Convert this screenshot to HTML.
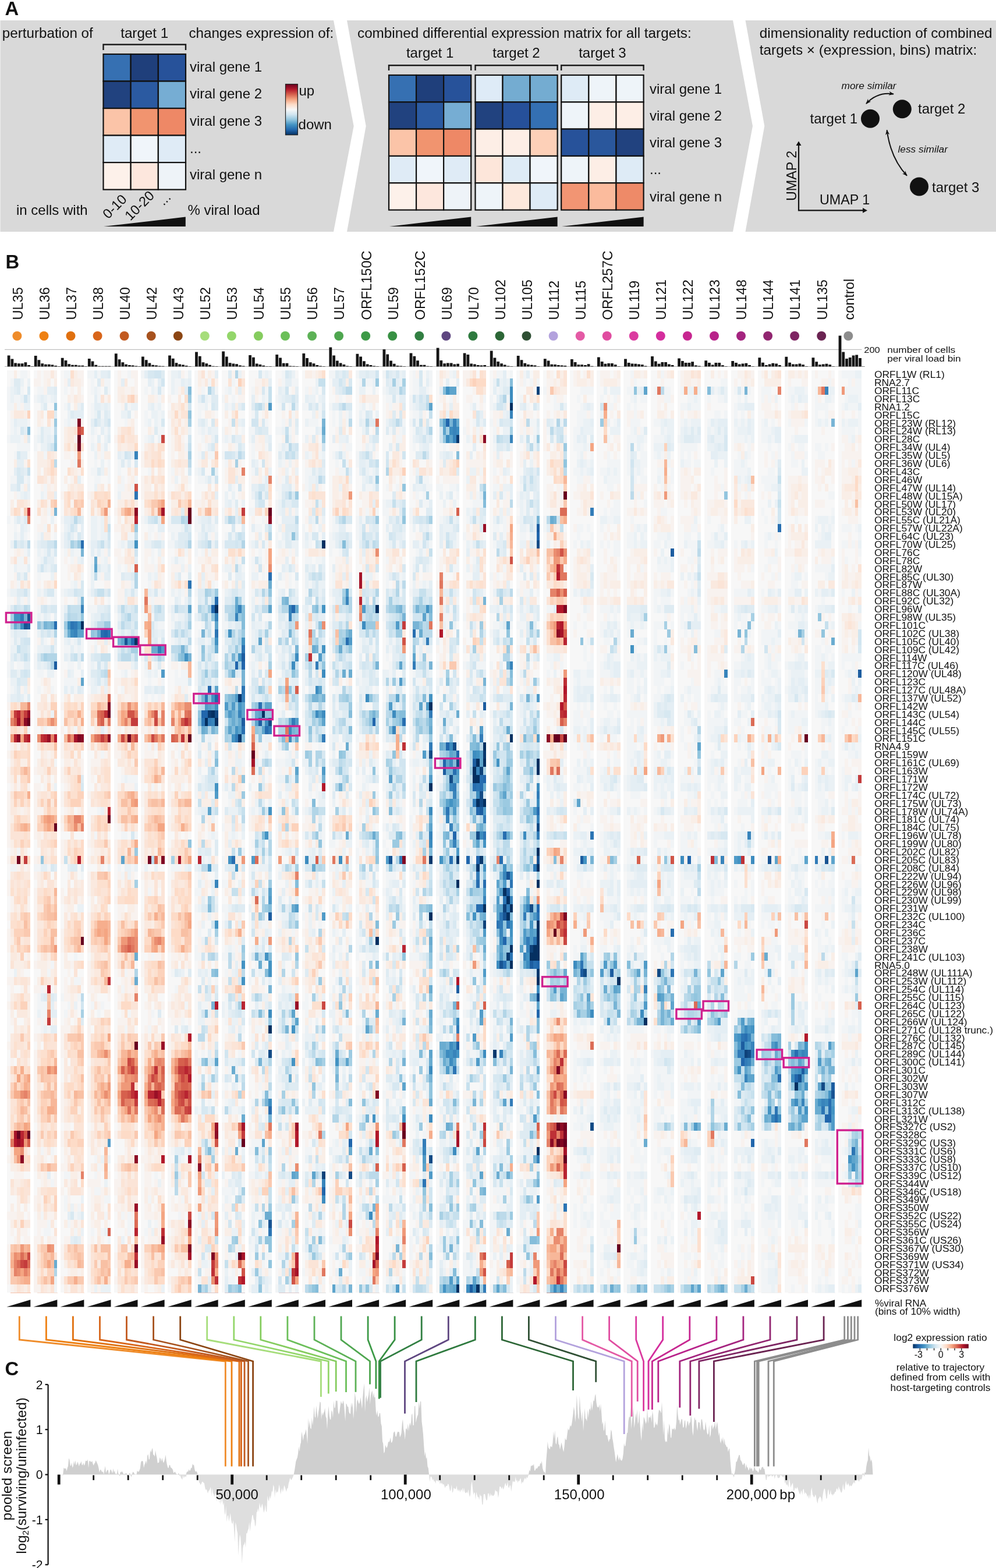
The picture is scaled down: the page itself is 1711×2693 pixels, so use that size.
<!DOCTYPE html>
<html><head><meta charset="utf-8"><title>Figure</title>
<style>
html,body{margin:0;padding:0;background:#fff;}
#wrap{position:relative;width:1711px;height:2693px;overflow:hidden;background:#fff;}
#hm{position:absolute;left:12.2px;top:636.0px;width:1473.92px;height:1584.03px;image-rendering:pixelated;}
svg{position:absolute;left:0;top:0;}
svg text{font-family:'Liberation Sans', sans-serif;fill:#111;}
</style></head><body><div id="wrap">
<svg id="fb" width="1711" height="2693" style="position:absolute;left:0;top:0"><rect x="18" y="636" width="35" height="43" fill="#ecf1f4"/><rect x="18" y="678" width="35" height="43" fill="#f0edec"/><rect x="18" y="719" width="35" height="43" fill="#e4edf2"/><rect x="18" y="761" width="35" height="43" fill="#eff1f1"/><rect x="18" y="803" width="35" height="43" fill="#e5eef2"/><rect x="18" y="844" width="35" height="43" fill="#f3e0d9"/><rect x="18" y="886" width="35" height="43" fill="#edebec"/><rect x="18" y="928" width="35" height="43" fill="#eaedee"/><rect x="18" y="969" width="35" height="43" fill="#f1efee"/><rect x="18" y="1011" width="35" height="43" fill="#e0ebf1"/><rect x="18" y="1053" width="35" height="43" fill="#85b2d1"/><rect x="18" y="1095" width="35" height="43" fill="#dbe9f1"/><rect x="18" y="1136" width="35" height="43" fill="#e4edf2"/><rect x="18" y="1178" width="35" height="43" fill="#ede0da"/><rect x="18" y="1220" width="35" height="43" fill="#d17874"/><rect x="18" y="1261" width="35" height="43" fill="#e8afa5"/><rect x="18" y="1303" width="35" height="43" fill="#fadbcb"/><rect x="18" y="1345" width="35" height="43" fill="#fadccc"/><rect x="18" y="1386" width="35" height="43" fill="#f9dbcb"/><rect x="18" y="1428" width="35" height="43" fill="#fae6db"/><rect x="18" y="1470" width="35" height="43" fill="#eed2cb"/><rect x="18" y="1511" width="35" height="43" fill="#fae4d6"/><rect x="18" y="1553" width="35" height="43" fill="#faddce"/><rect x="18" y="1595" width="35" height="43" fill="#fad8c5"/><rect x="18" y="1636" width="35" height="43" fill="#f8ece5"/><rect x="18" y="1678" width="35" height="43" fill="#f9eae1"/><rect x="18" y="1720" width="35" height="43" fill="#f9e8df"/><rect x="18" y="1761" width="35" height="43" fill="#fae4d8"/><rect x="18" y="1803" width="35" height="43" fill="#fadfd1"/><rect x="18" y="1845" width="35" height="43" fill="#f5b89d"/><rect x="18" y="1887" width="35" height="43" fill="#fad4c0"/><rect x="18" y="1928" width="35" height="43" fill="#cc6961"/><rect x="18" y="1970" width="35" height="43" fill="#f2c7b7"/><rect x="18" y="2012" width="35" height="43" fill="#f9ebe2"/><rect x="18" y="2053" width="35" height="43" fill="#f8f0eb"/><rect x="18" y="2095" width="35" height="43" fill="#f8ede7"/><rect x="18" y="2137" width="35" height="43" fill="#e78e76"/><rect x="18" y="2178" width="35" height="43" fill="#f5c0aa"/><rect x="64" y="636" width="35" height="43" fill="#f3f1ef"/><rect x="64" y="678" width="35" height="43" fill="#eaebec"/><rect x="64" y="719" width="35" height="43" fill="#e1eaee"/><rect x="64" y="761" width="35" height="43" fill="#ebe9e7"/><rect x="64" y="803" width="35" height="43" fill="#f8ebe3"/><rect x="64" y="844" width="35" height="43" fill="#efe6e0"/><rect x="64" y="886" width="35" height="43" fill="#f4f1ef"/><rect x="64" y="928" width="35" height="43" fill="#e0ecf2"/><rect x="64" y="969" width="35" height="43" fill="#eeeeee"/><rect x="64" y="1011" width="35" height="43" fill="#e7eef2"/><rect x="64" y="1053" width="35" height="43" fill="#bdd8e8"/><rect x="64" y="1095" width="35" height="43" fill="#d9e8ef"/><rect x="64" y="1136" width="35" height="43" fill="#e0e7ed"/><rect x="64" y="1178" width="35" height="43" fill="#f8ebe4"/><rect x="64" y="1220" width="35" height="43" fill="#f6dacd"/><rect x="64" y="1261" width="35" height="43" fill="#e7aea5"/><rect x="64" y="1303" width="35" height="43" fill="#f8ebe3"/><rect x="64" y="1345" width="35" height="43" fill="#f9e3d6"/><rect x="64" y="1386" width="35" height="43" fill="#f0bca8"/><rect x="64" y="1428" width="35" height="43" fill="#fae7dc"/><rect x="64" y="1470" width="35" height="43" fill="#ede7e3"/><rect x="64" y="1511" width="35" height="43" fill="#fadfd0"/><rect x="64" y="1553" width="35" height="43" fill="#fad2be"/><rect x="64" y="1595" width="35" height="43" fill="#f9cfb9"/><rect x="64" y="1636" width="35" height="43" fill="#f8ebe4"/><rect x="64" y="1678" width="35" height="43" fill="#efded9"/><rect x="64" y="1720" width="35" height="43" fill="#eddedc"/><rect x="64" y="1761" width="35" height="43" fill="#f5e9e1"/><rect x="64" y="1803" width="35" height="43" fill="#f8c9b2"/><rect x="64" y="1845" width="35" height="43" fill="#f9ceb8"/><rect x="64" y="1887" width="35" height="43" fill="#f9cbb4"/><rect x="64" y="1928" width="35" height="43" fill="#fbe0d0"/><rect x="64" y="1970" width="35" height="43" fill="#f8e4d9"/><rect x="64" y="2012" width="35" height="43" fill="#f7ede7"/><rect x="64" y="2053" width="35" height="43" fill="#f9e7dd"/><rect x="64" y="2095" width="35" height="43" fill="#f6f1ed"/><rect x="64" y="2137" width="35" height="43" fill="#f0c6b2"/><rect x="64" y="2178" width="35" height="43" fill="#f4dccf"/><rect x="110" y="636" width="35" height="43" fill="#f6f1ed"/><rect x="110" y="678" width="35" height="43" fill="#eeeff0"/><rect x="110" y="719" width="35" height="43" fill="#e3c2c0"/><rect x="110" y="761" width="35" height="43" fill="#efd6d0"/><rect x="110" y="803" width="35" height="43" fill="#f7ede7"/><rect x="110" y="844" width="35" height="43" fill="#faddcd"/><rect x="110" y="886" width="35" height="43" fill="#dfebf2"/><rect x="110" y="928" width="35" height="43" fill="#d1e1eb"/><rect x="110" y="969" width="35" height="43" fill="#f4f0ee"/><rect x="110" y="1011" width="35" height="43" fill="#cfe1ec"/><rect x="110" y="1053" width="35" height="43" fill="#72aacd"/><rect x="110" y="1095" width="35" height="43" fill="#e3edf3"/><rect x="110" y="1136" width="35" height="43" fill="#e9eff2"/><rect x="110" y="1178" width="35" height="43" fill="#f3e8e2"/><rect x="110" y="1220" width="35" height="43" fill="#f9d7c5"/><rect x="110" y="1261" width="35" height="43" fill="#e5b0a7"/><rect x="110" y="1303" width="35" height="43" fill="#f8e7dd"/><rect x="110" y="1345" width="35" height="43" fill="#f9ddce"/><rect x="110" y="1386" width="35" height="43" fill="#f4c2ae"/><rect x="110" y="1428" width="35" height="43" fill="#f9e7dc"/><rect x="110" y="1470" width="35" height="43" fill="#ebdfdd"/><rect x="110" y="1511" width="35" height="43" fill="#f9ebe3"/><rect x="110" y="1553" width="35" height="43" fill="#f8e7dd"/><rect x="110" y="1595" width="35" height="43" fill="#f2c9b8"/><rect x="110" y="1636" width="35" height="43" fill="#f7efea"/><rect x="110" y="1678" width="35" height="43" fill="#f3efec"/><rect x="110" y="1720" width="35" height="43" fill="#eeedec"/><rect x="110" y="1761" width="35" height="43" fill="#fadac8"/><rect x="110" y="1803" width="35" height="43" fill="#fadecf"/><rect x="110" y="1845" width="35" height="43" fill="#fad8c5"/><rect x="110" y="1887" width="35" height="43" fill="#fbdfd0"/><rect x="110" y="1928" width="35" height="43" fill="#fae1d2"/><rect x="110" y="1970" width="35" height="43" fill="#fae5d8"/><rect x="110" y="2012" width="35" height="43" fill="#f7e5dd"/><rect x="110" y="2053" width="35" height="43" fill="#eef1f2"/><rect x="110" y="2095" width="35" height="43" fill="#f2f0ee"/><rect x="110" y="2137" width="35" height="43" fill="#fad0bb"/><rect x="110" y="2178" width="35" height="43" fill="#f9e0d3"/><rect x="156" y="636" width="35" height="43" fill="#ecf1f3"/><rect x="156" y="678" width="35" height="43" fill="#ebeff1"/><rect x="156" y="719" width="35" height="43" fill="#e7eff4"/><rect x="156" y="761" width="35" height="43" fill="#f2f2f2"/><rect x="156" y="803" width="35" height="43" fill="#f2f2f1"/><rect x="156" y="844" width="35" height="43" fill="#fad9c8"/><rect x="156" y="886" width="35" height="43" fill="#e9edef"/><rect x="156" y="928" width="35" height="43" fill="#e1ebf1"/><rect x="156" y="969" width="35" height="43" fill="#e2ebf1"/><rect x="156" y="1011" width="35" height="43" fill="#e4ecef"/><rect x="156" y="1053" width="35" height="43" fill="#a4c8df"/><rect x="156" y="1095" width="35" height="43" fill="#e7ecee"/><rect x="156" y="1136" width="35" height="43" fill="#e1e6ea"/><rect x="156" y="1178" width="35" height="43" fill="#edcec5"/><rect x="156" y="1220" width="35" height="43" fill="#e3aa9f"/><rect x="156" y="1261" width="35" height="43" fill="#eab8ad"/><rect x="156" y="1303" width="35" height="43" fill="#f9e8de"/><rect x="156" y="1345" width="35" height="43" fill="#fae3d6"/><rect x="156" y="1386" width="35" height="43" fill="#edcbc3"/><rect x="156" y="1428" width="35" height="43" fill="#f9e7dd"/><rect x="156" y="1470" width="35" height="43" fill="#f7dfd3"/><rect x="156" y="1511" width="35" height="43" fill="#fbe3d5"/><rect x="156" y="1553" width="35" height="43" fill="#f9d5c2"/><rect x="156" y="1595" width="35" height="43" fill="#f8c5ac"/><rect x="156" y="1636" width="35" height="43" fill="#faddcd"/><rect x="156" y="1678" width="35" height="43" fill="#f5ddd4"/><rect x="156" y="1720" width="35" height="43" fill="#f8ece5"/><rect x="156" y="1761" width="35" height="43" fill="#fad8c6"/><rect x="156" y="1803" width="35" height="43" fill="#f9cdb8"/><rect x="156" y="1845" width="35" height="43" fill="#f7c2a9"/><rect x="156" y="1887" width="35" height="43" fill="#fad5c2"/><rect x="156" y="1928" width="35" height="43" fill="#f0ded5"/><rect x="156" y="1970" width="35" height="43" fill="#f5e8e1"/><rect x="156" y="2012" width="35" height="43" fill="#f5efec"/><rect x="156" y="2053" width="35" height="43" fill="#f7eee8"/><rect x="156" y="2095" width="35" height="43" fill="#f4eae7"/><rect x="156" y="2137" width="35" height="43" fill="#fad1bb"/><rect x="156" y="2178" width="35" height="43" fill="#f6dacb"/><rect x="202" y="636" width="35" height="43" fill="#f6f1ee"/><rect x="202" y="678" width="35" height="43" fill="#f2edea"/><rect x="202" y="719" width="35" height="43" fill="#f8ebe3"/><rect x="202" y="761" width="35" height="43" fill="#e2e6e8"/><rect x="202" y="803" width="35" height="43" fill="#f3e8e5"/><rect x="202" y="844" width="35" height="43" fill="#e7cdc7"/><rect x="202" y="886" width="35" height="43" fill="#ebddda"/><rect x="202" y="928" width="35" height="43" fill="#e6e8e9"/><rect x="202" y="969" width="35" height="43" fill="#e7e6e7"/><rect x="202" y="1011" width="35" height="43" fill="#e6ebed"/><rect x="202" y="1053" width="35" height="43" fill="#d6e7f0"/><rect x="202" y="1095" width="35" height="43" fill="#95bcd6"/><rect x="202" y="1136" width="35" height="43" fill="#f5efeb"/><rect x="202" y="1178" width="35" height="43" fill="#f7ddd0"/><rect x="202" y="1220" width="35" height="43" fill="#eba998"/><rect x="202" y="1261" width="35" height="43" fill="#eab4a5"/><rect x="202" y="1303" width="35" height="43" fill="#f6ebe5"/><rect x="202" y="1345" width="35" height="43" fill="#f7d1be"/><rect x="202" y="1386" width="35" height="43" fill="#fad7c5"/><rect x="202" y="1428" width="35" height="43" fill="#f1e1d8"/><rect x="202" y="1470" width="35" height="43" fill="#ece4e0"/><rect x="202" y="1511" width="35" height="43" fill="#f6e2d6"/><rect x="202" y="1553" width="35" height="43" fill="#f9e6db"/><rect x="202" y="1595" width="35" height="43" fill="#ed9e82"/><rect x="202" y="1636" width="35" height="43" fill="#eddcd2"/><rect x="202" y="1678" width="35" height="43" fill="#efe3de"/><rect x="202" y="1720" width="35" height="43" fill="#f9e9df"/><rect x="202" y="1761" width="35" height="43" fill="#f1d2c5"/><rect x="202" y="1803" width="35" height="43" fill="#e8927a"/><rect x="202" y="1845" width="35" height="43" fill="#e28470"/><rect x="202" y="1887" width="35" height="43" fill="#ed9f86"/><rect x="202" y="1928" width="35" height="43" fill="#fae4d6"/><rect x="202" y="1970" width="35" height="43" fill="#f2d7ce"/><rect x="202" y="2012" width="35" height="43" fill="#fae7db"/><rect x="202" y="2053" width="35" height="43" fill="#f1dad5"/><rect x="202" y="2095" width="35" height="43" fill="#f0dcd9"/><rect x="202" y="2137" width="35" height="43" fill="#eab1a2"/><rect x="202" y="2178" width="35" height="43" fill="#fbdfd0"/><rect x="248" y="636" width="35" height="43" fill="#e3edf3"/><rect x="248" y="678" width="35" height="43" fill="#f1f1f2"/><rect x="248" y="719" width="35" height="43" fill="#ebe8e9"/><rect x="248" y="761" width="35" height="43" fill="#fae4d6"/><rect x="248" y="803" width="35" height="43" fill="#f9ebe3"/><rect x="248" y="844" width="35" height="43" fill="#f4cab9"/><rect x="248" y="886" width="35" height="43" fill="#ebebec"/><rect x="248" y="928" width="35" height="43" fill="#edf0f1"/><rect x="248" y="969" width="35" height="43" fill="#f5efeb"/><rect x="248" y="1011" width="35" height="43" fill="#e7dddb"/><rect x="248" y="1053" width="35" height="43" fill="#e8ddd8"/><rect x="248" y="1095" width="35" height="43" fill="#c3d2db"/><rect x="248" y="1136" width="35" height="43" fill="#e9ebed"/><rect x="248" y="1178" width="35" height="43" fill="#f0e7e2"/><rect x="248" y="1220" width="35" height="43" fill="#f0bba9"/><rect x="248" y="1261" width="35" height="43" fill="#f2cbbe"/><rect x="248" y="1303" width="35" height="43" fill="#fad9c7"/><rect x="248" y="1345" width="35" height="43" fill="#f9dfd1"/><rect x="248" y="1386" width="35" height="43" fill="#f9cdb7"/><rect x="248" y="1428" width="35" height="43" fill="#faddcd"/><rect x="248" y="1470" width="35" height="43" fill="#e4c9c6"/><rect x="248" y="1511" width="35" height="43" fill="#f9e8de"/><rect x="248" y="1553" width="35" height="43" fill="#fad6c3"/><rect x="248" y="1595" width="35" height="43" fill="#f7bda3"/><rect x="248" y="1636" width="35" height="43" fill="#fae1d4"/><rect x="248" y="1678" width="35" height="43" fill="#f9e3d7"/><rect x="248" y="1720" width="35" height="43" fill="#f5f2f0"/><rect x="248" y="1761" width="35" height="43" fill="#f3d8cf"/><rect x="248" y="1803" width="35" height="43" fill="#efa58d"/><rect x="248" y="1845" width="35" height="43" fill="#d97060"/><rect x="248" y="1887" width="35" height="43" fill="#e9937b"/><rect x="248" y="1928" width="35" height="43" fill="#facfb9"/><rect x="248" y="1970" width="35" height="43" fill="#f5ded7"/><rect x="248" y="2012" width="35" height="43" fill="#f6f1ef"/><rect x="248" y="2053" width="35" height="43" fill="#f7e7df"/><rect x="248" y="2095" width="35" height="43" fill="#ecd6d4"/><rect x="248" y="2137" width="35" height="43" fill="#f9d0ba"/><rect x="248" y="2178" width="35" height="43" fill="#f9e1d4"/><rect x="294" y="636" width="35" height="43" fill="#e7eef1"/><rect x="294" y="678" width="35" height="43" fill="#ece6e1"/><rect x="294" y="719" width="35" height="43" fill="#f1eae5"/><rect x="294" y="761" width="35" height="43" fill="#eeeae7"/><rect x="294" y="803" width="35" height="43" fill="#f4f0ed"/><rect x="294" y="844" width="35" height="43" fill="#f0d3c7"/><rect x="294" y="886" width="35" height="43" fill="#d6dde6"/><rect x="294" y="928" width="35" height="43" fill="#ebedee"/><rect x="294" y="969" width="35" height="43" fill="#e8e7e7"/><rect x="294" y="1011" width="35" height="43" fill="#d9e8f0"/><rect x="294" y="1053" width="35" height="43" fill="#d8e8f0"/><rect x="294" y="1095" width="35" height="43" fill="#b8d7e7"/><rect x="294" y="1136" width="35" height="43" fill="#f3ece9"/><rect x="294" y="1178" width="35" height="43" fill="#f4d7ca"/><rect x="294" y="1220" width="35" height="43" fill="#eca48e"/><rect x="294" y="1261" width="35" height="43" fill="#e9c2bb"/><rect x="294" y="1303" width="35" height="43" fill="#f9e9df"/><rect x="294" y="1345" width="35" height="43" fill="#f9ded0"/><rect x="294" y="1386" width="35" height="43" fill="#faddcc"/><rect x="294" y="1428" width="35" height="43" fill="#f4e5dc"/><rect x="294" y="1470" width="35" height="43" fill="#edd4cc"/><rect x="294" y="1511" width="35" height="43" fill="#fbe0d0"/><rect x="294" y="1553" width="35" height="43" fill="#fad2bd"/><rect x="294" y="1595" width="35" height="43" fill="#fad2bc"/><rect x="294" y="1636" width="35" height="43" fill="#f3efec"/><rect x="294" y="1678" width="35" height="43" fill="#f7eee9"/><rect x="294" y="1720" width="35" height="43" fill="#f8eee8"/><rect x="294" y="1761" width="35" height="43" fill="#f0dbd5"/><rect x="294" y="1803" width="35" height="43" fill="#e38774"/><rect x="294" y="1845" width="35" height="43" fill="#d8695a"/><rect x="294" y="1887" width="35" height="43" fill="#e3846f"/><rect x="294" y="1928" width="35" height="43" fill="#faddcd"/><rect x="294" y="1970" width="35" height="43" fill="#e6dfe0"/><rect x="294" y="2012" width="35" height="43" fill="#ebe6e3"/><rect x="294" y="2053" width="35" height="43" fill="#f5e7e3"/><rect x="294" y="2095" width="35" height="43" fill="#f0d0c7"/><rect x="294" y="2137" width="35" height="43" fill="#eec9bf"/><rect x="294" y="2178" width="35" height="43" fill="#f9dfd1"/><rect x="340" y="636" width="35" height="43" fill="#f1edeb"/><rect x="340" y="678" width="35" height="43" fill="#ebf0f2"/><rect x="340" y="719" width="35" height="43" fill="#ecf0f2"/><rect x="340" y="761" width="35" height="43" fill="#f2ece8"/><rect x="340" y="803" width="35" height="43" fill="#eaeff1"/><rect x="340" y="844" width="35" height="43" fill="#f8e5db"/><rect x="340" y="886" width="35" height="43" fill="#e7eff3"/><rect x="340" y="928" width="35" height="43" fill="#ebeded"/><rect x="340" y="969" width="35" height="43" fill="#f6ede7"/><rect x="340" y="1011" width="35" height="43" fill="#a8c7dd"/><rect x="340" y="1053" width="35" height="43" fill="#b4d3e5"/><rect x="340" y="1095" width="35" height="43" fill="#c7dfeb"/><rect x="340" y="1136" width="35" height="43" fill="#d0e4ef"/><rect x="340" y="1178" width="35" height="43" fill="#82b4d5"/><rect x="340" y="1220" width="35" height="43" fill="#4e85b0"/><rect x="340" y="1261" width="35" height="43" fill="#e8edf0"/><rect x="340" y="1303" width="35" height="43" fill="#dee9ee"/><rect x="340" y="1345" width="35" height="43" fill="#d7e2e8"/><rect x="340" y="1386" width="35" height="43" fill="#e3e6e9"/><rect x="340" y="1428" width="35" height="43" fill="#eaedef"/><rect x="340" y="1470" width="35" height="43" fill="#dcdde3"/><rect x="340" y="1511" width="35" height="43" fill="#dfe6eb"/><rect x="340" y="1553" width="35" height="43" fill="#dce7ed"/><rect x="340" y="1595" width="35" height="43" fill="#ebebea"/><rect x="340" y="1636" width="35" height="43" fill="#dce7ed"/><rect x="340" y="1678" width="35" height="43" fill="#e7ecee"/><rect x="340" y="1720" width="35" height="43" fill="#dcdce1"/><rect x="340" y="1761" width="35" height="43" fill="#ebe7e6"/><rect x="340" y="1803" width="35" height="43" fill="#d9e4ea"/><rect x="340" y="1845" width="35" height="43" fill="#e7e3e0"/><rect x="340" y="1887" width="35" height="43" fill="#eeebe9"/><rect x="340" y="1928" width="35" height="43" fill="#e5beb8"/><rect x="340" y="1970" width="35" height="43" fill="#e0c8c3"/><rect x="340" y="2012" width="35" height="43" fill="#f0dcd2"/><rect x="340" y="2053" width="35" height="43" fill="#f4e2d9"/><rect x="340" y="2095" width="35" height="43" fill="#f2e0d8"/><rect x="340" y="2137" width="35" height="43" fill="#e5cac7"/><rect x="340" y="2178" width="35" height="43" fill="#dcc7c7"/><rect x="386" y="636" width="35" height="43" fill="#efeceb"/><rect x="386" y="678" width="35" height="43" fill="#f1efee"/><rect x="386" y="719" width="35" height="43" fill="#edeff0"/><rect x="386" y="761" width="35" height="43" fill="#e3ebef"/><rect x="386" y="803" width="35" height="43" fill="#f2e7e2"/><rect x="386" y="844" width="35" height="43" fill="#eee5e4"/><rect x="386" y="886" width="35" height="43" fill="#dee7ec"/><rect x="386" y="928" width="35" height="43" fill="#e7e7e6"/><rect x="386" y="969" width="35" height="43" fill="#eaeff1"/><rect x="386" y="1011" width="35" height="43" fill="#b9d7e7"/><rect x="386" y="1053" width="35" height="43" fill="#b4d4e6"/><rect x="386" y="1095" width="35" height="43" fill="#a3c8df"/><rect x="386" y="1136" width="35" height="43" fill="#b1cddf"/><rect x="386" y="1178" width="35" height="43" fill="#84b4d1"/><rect x="386" y="1220" width="35" height="43" fill="#69a7cd"/><rect x="386" y="1261" width="35" height="43" fill="#c3d3de"/><rect x="386" y="1303" width="35" height="43" fill="#eceae8"/><rect x="386" y="1345" width="35" height="43" fill="#e7ebec"/><rect x="386" y="1386" width="35" height="43" fill="#e7ebec"/><rect x="386" y="1428" width="35" height="43" fill="#eceded"/><rect x="386" y="1470" width="35" height="43" fill="#cfd7de"/><rect x="386" y="1511" width="35" height="43" fill="#f0edeb"/><rect x="386" y="1553" width="35" height="43" fill="#ebeaea"/><rect x="386" y="1595" width="35" height="43" fill="#f0e5df"/><rect x="386" y="1636" width="35" height="43" fill="#dae5eb"/><rect x="386" y="1678" width="35" height="43" fill="#e3dedc"/><rect x="386" y="1720" width="35" height="43" fill="#dfe0e5"/><rect x="386" y="1761" width="35" height="43" fill="#f1ebe7"/><rect x="386" y="1803" width="35" height="43" fill="#e4ebef"/><rect x="386" y="1845" width="35" height="43" fill="#e1e6e8"/><rect x="386" y="1887" width="35" height="43" fill="#e5ebee"/><rect x="386" y="1928" width="35" height="43" fill="#e5bdb7"/><rect x="386" y="1970" width="35" height="43" fill="#efe2da"/><rect x="386" y="2012" width="35" height="43" fill="#e6eef3"/><rect x="386" y="2053" width="35" height="43" fill="#e7eaec"/><rect x="386" y="2095" width="35" height="43" fill="#e8eaea"/><rect x="386" y="2137" width="35" height="43" fill="#dec6c6"/><rect x="386" y="2178" width="35" height="43" fill="#d6cad0"/><rect x="432" y="636" width="35" height="43" fill="#edeff0"/><rect x="432" y="678" width="35" height="43" fill="#dde8ed"/><rect x="432" y="719" width="35" height="43" fill="#e7edf1"/><rect x="432" y="761" width="35" height="43" fill="#f1efee"/><rect x="432" y="803" width="35" height="43" fill="#ece7e5"/><rect x="432" y="844" width="35" height="43" fill="#e2dbdc"/><rect x="432" y="886" width="35" height="43" fill="#e6e2e5"/><rect x="432" y="928" width="35" height="43" fill="#efe8e5"/><rect x="432" y="969" width="35" height="43" fill="#dfe0e3"/><rect x="432" y="1011" width="35" height="43" fill="#cfe2ec"/><rect x="432" y="1053" width="35" height="43" fill="#dfebf2"/><rect x="432" y="1095" width="35" height="43" fill="#d9e7ee"/><rect x="432" y="1136" width="35" height="43" fill="#e4e8eb"/><rect x="432" y="1178" width="35" height="43" fill="#b3d1e2"/><rect x="432" y="1220" width="35" height="43" fill="#6c9ec2"/><rect x="432" y="1261" width="35" height="43" fill="#e2d2d2"/><rect x="432" y="1303" width="35" height="43" fill="#e0d8db"/><rect x="432" y="1345" width="35" height="43" fill="#ece9e8"/><rect x="432" y="1386" width="35" height="43" fill="#e5e2df"/><rect x="432" y="1428" width="35" height="43" fill="#c7deeb"/><rect x="432" y="1470" width="35" height="43" fill="#dfe1e4"/><rect x="432" y="1511" width="35" height="43" fill="#cfd8df"/><rect x="432" y="1553" width="35" height="43" fill="#ccd9e1"/><rect x="432" y="1595" width="35" height="43" fill="#eae6e4"/><rect x="432" y="1636" width="35" height="43" fill="#b1d2e4"/><rect x="432" y="1678" width="35" height="43" fill="#e3eaed"/><rect x="432" y="1720" width="35" height="43" fill="#d6e3ea"/><rect x="432" y="1761" width="35" height="43" fill="#e4e3e3"/><rect x="432" y="1803" width="35" height="43" fill="#d0dde5"/><rect x="432" y="1845" width="35" height="43" fill="#e8ebed"/><rect x="432" y="1887" width="35" height="43" fill="#c9d9e4"/><rect x="432" y="1928" width="35" height="43" fill="#e9ddd8"/><rect x="432" y="1970" width="35" height="43" fill="#dde7ec"/><rect x="432" y="2012" width="35" height="43" fill="#f1e5de"/><rect x="432" y="2053" width="35" height="43" fill="#d6e4eb"/><rect x="432" y="2095" width="35" height="43" fill="#c1d7e6"/><rect x="432" y="2137" width="35" height="43" fill="#dfe8ec"/><rect x="432" y="2178" width="35" height="43" fill="#ddeaf0"/><rect x="479" y="636" width="35" height="43" fill="#ebf0f3"/><rect x="479" y="678" width="35" height="43" fill="#e8eef1"/><rect x="479" y="719" width="35" height="43" fill="#eaeff2"/><rect x="479" y="761" width="35" height="43" fill="#e1ebf0"/><rect x="479" y="803" width="35" height="43" fill="#f0efee"/><rect x="479" y="844" width="35" height="43" fill="#dce9f0"/><rect x="479" y="886" width="35" height="43" fill="#deeaf0"/><rect x="479" y="928" width="35" height="43" fill="#f0f0f1"/><rect x="479" y="969" width="35" height="43" fill="#eef2f4"/><rect x="479" y="1011" width="35" height="43" fill="#b5d2e5"/><rect x="479" y="1053" width="35" height="43" fill="#cbdbe5"/><rect x="479" y="1095" width="35" height="43" fill="#cae0ec"/><rect x="479" y="1136" width="35" height="43" fill="#d2dfe7"/><rect x="479" y="1178" width="35" height="43" fill="#d3d3d7"/><rect x="479" y="1220" width="35" height="43" fill="#abc8da"/><rect x="479" y="1261" width="35" height="43" fill="#ccd9e1"/><rect x="479" y="1303" width="35" height="43" fill="#dbe7ed"/><rect x="479" y="1345" width="35" height="43" fill="#eeedec"/><rect x="479" y="1386" width="35" height="43" fill="#e9e2dd"/><rect x="479" y="1428" width="35" height="43" fill="#f3ebe7"/><rect x="479" y="1470" width="35" height="43" fill="#e6d8d3"/><rect x="479" y="1511" width="35" height="43" fill="#eae9e9"/><rect x="479" y="1553" width="35" height="43" fill="#c6deeb"/><rect x="479" y="1595" width="35" height="43" fill="#f3eae5"/><rect x="479" y="1636" width="35" height="43" fill="#e3ebef"/><rect x="479" y="1678" width="35" height="43" fill="#eee9e7"/><rect x="479" y="1720" width="35" height="43" fill="#cad5e1"/><rect x="479" y="1761" width="35" height="43" fill="#d9e5ec"/><rect x="479" y="1803" width="35" height="43" fill="#dbe5ea"/><rect x="479" y="1845" width="35" height="43" fill="#dee8ed"/><rect x="479" y="1887" width="35" height="43" fill="#d3e4ed"/><rect x="479" y="1928" width="35" height="43" fill="#e6c4c2"/><rect x="479" y="1970" width="35" height="43" fill="#f0eae7"/><rect x="479" y="2012" width="35" height="43" fill="#dfe2e4"/><rect x="479" y="2053" width="35" height="43" fill="#e9eaea"/><rect x="479" y="2095" width="35" height="43" fill="#ede5e1"/><rect x="479" y="2137" width="35" height="43" fill="#e3d1d0"/><rect x="479" y="2178" width="35" height="43" fill="#dcc8cb"/><rect x="525" y="636" width="35" height="43" fill="#eeeeed"/><rect x="525" y="678" width="35" height="43" fill="#e8eff3"/><rect x="525" y="719" width="35" height="43" fill="#dce8ee"/><rect x="525" y="761" width="35" height="43" fill="#f3ece8"/><rect x="525" y="803" width="35" height="43" fill="#e7eef2"/><rect x="525" y="844" width="35" height="43" fill="#f2e9e3"/><rect x="525" y="886" width="35" height="43" fill="#eaeef1"/><rect x="525" y="928" width="35" height="43" fill="#e2e4e6"/><rect x="525" y="969" width="35" height="43" fill="#dfecf2"/><rect x="525" y="1011" width="35" height="43" fill="#cae0ec"/><rect x="525" y="1053" width="35" height="43" fill="#dbdadd"/><rect x="525" y="1095" width="35" height="43" fill="#bcc9d5"/><rect x="525" y="1136" width="35" height="43" fill="#c2dae9"/><rect x="525" y="1178" width="35" height="43" fill="#b1d2e5"/><rect x="525" y="1220" width="35" height="43" fill="#a7cde2"/><rect x="525" y="1261" width="35" height="43" fill="#ccdfeb"/><rect x="525" y="1303" width="35" height="43" fill="#cfe2ec"/><rect x="525" y="1345" width="35" height="43" fill="#e6e3e7"/><rect x="525" y="1386" width="35" height="43" fill="#dfe9ee"/><rect x="525" y="1428" width="35" height="43" fill="#e1eaee"/><rect x="525" y="1470" width="35" height="43" fill="#d0d6dd"/><rect x="525" y="1511" width="35" height="43" fill="#f0edeb"/><rect x="525" y="1553" width="35" height="43" fill="#e4ebee"/><rect x="525" y="1595" width="35" height="43" fill="#eee8e4"/><rect x="525" y="1636" width="35" height="43" fill="#f8e7dd"/><rect x="525" y="1678" width="35" height="43" fill="#ece9e6"/><rect x="525" y="1720" width="35" height="43" fill="#f2e3df"/><rect x="525" y="1761" width="35" height="43" fill="#dfe9ee"/><rect x="525" y="1803" width="35" height="43" fill="#d8e5ec"/><rect x="525" y="1845" width="35" height="43" fill="#e7eaeb"/><rect x="525" y="1887" width="35" height="43" fill="#ebedee"/><rect x="525" y="1928" width="35" height="43" fill="#f1e3dd"/><rect x="525" y="1970" width="35" height="43" fill="#edeeef"/><rect x="525" y="2012" width="35" height="43" fill="#bdcdd9"/><rect x="525" y="2053" width="35" height="43" fill="#e2e7ea"/><rect x="525" y="2095" width="35" height="43" fill="#e3e9ed"/><rect x="525" y="2137" width="35" height="43" fill="#e2e5e7"/><rect x="525" y="2178" width="35" height="43" fill="#e0e0e0"/><rect x="571" y="636" width="35" height="43" fill="#dfeaf0"/><rect x="571" y="678" width="35" height="43" fill="#e9eff2"/><rect x="571" y="719" width="35" height="43" fill="#edefef"/><rect x="571" y="761" width="35" height="43" fill="#eff1f3"/><rect x="571" y="803" width="35" height="43" fill="#f2ece9"/><rect x="571" y="844" width="35" height="43" fill="#f9e2d6"/><rect x="571" y="886" width="35" height="43" fill="#e0ecf2"/><rect x="571" y="928" width="35" height="43" fill="#e4ecf0"/><rect x="571" y="969" width="35" height="43" fill="#f4ede9"/><rect x="571" y="1011" width="35" height="43" fill="#c0d8e5"/><rect x="571" y="1053" width="35" height="43" fill="#cfdee6"/><rect x="571" y="1095" width="35" height="43" fill="#b3d0e1"/><rect x="571" y="1136" width="35" height="43" fill="#d0e1eb"/><rect x="571" y="1178" width="35" height="43" fill="#cfe3ee"/><rect x="571" y="1220" width="35" height="43" fill="#cfe3ee"/><rect x="571" y="1261" width="35" height="43" fill="#d8e7ef"/><rect x="571" y="1303" width="35" height="43" fill="#d3e5ef"/><rect x="571" y="1345" width="35" height="43" fill="#e3e9ec"/><rect x="571" y="1386" width="35" height="43" fill="#f2e0d6"/><rect x="571" y="1428" width="35" height="43" fill="#e6ecef"/><rect x="571" y="1470" width="35" height="43" fill="#e3d9d7"/><rect x="571" y="1511" width="35" height="43" fill="#f6ede8"/><rect x="571" y="1553" width="35" height="43" fill="#efe7e1"/><rect x="571" y="1595" width="35" height="43" fill="#edf0f2"/><rect x="571" y="1636" width="35" height="43" fill="#f1efee"/><rect x="571" y="1678" width="35" height="43" fill="#e7eaeb"/><rect x="571" y="1720" width="35" height="43" fill="#e7e8e8"/><rect x="571" y="1761" width="35" height="43" fill="#eae9e9"/><rect x="571" y="1803" width="35" height="43" fill="#bdd9e8"/><rect x="571" y="1845" width="35" height="43" fill="#dee7ec"/><rect x="571" y="1887" width="35" height="43" fill="#d8e7ef"/><rect x="571" y="1928" width="35" height="43" fill="#e6dfde"/><rect x="571" y="1970" width="35" height="43" fill="#e4e7e9"/><rect x="571" y="2012" width="35" height="43" fill="#e2dddb"/><rect x="571" y="2053" width="35" height="43" fill="#e9e3e0"/><rect x="571" y="2095" width="35" height="43" fill="#efe1de"/><rect x="571" y="2137" width="35" height="43" fill="#e6eaec"/><rect x="571" y="2178" width="35" height="43" fill="#d4e2ea"/><rect x="617" y="636" width="35" height="43" fill="#e1ecf2"/><rect x="617" y="678" width="35" height="43" fill="#f1f0ee"/><rect x="617" y="719" width="35" height="43" fill="#e3e5e8"/><rect x="617" y="761" width="35" height="43" fill="#e4edf2"/><rect x="617" y="803" width="35" height="43" fill="#e3edf3"/><rect x="617" y="844" width="35" height="43" fill="#f7ebe5"/><rect x="617" y="886" width="35" height="43" fill="#d9e8f0"/><rect x="617" y="928" width="35" height="43" fill="#e8e3e1"/><rect x="617" y="969" width="35" height="43" fill="#e6d4d4"/><rect x="617" y="1011" width="35" height="43" fill="#bdc5d0"/><rect x="617" y="1053" width="35" height="43" fill="#bcd1dd"/><rect x="617" y="1095" width="35" height="43" fill="#e2ecf2"/><rect x="617" y="1136" width="35" height="43" fill="#d8e8f0"/><rect x="617" y="1178" width="35" height="43" fill="#d5e6ef"/><rect x="617" y="1220" width="35" height="43" fill="#b2d2e5"/><rect x="617" y="1261" width="35" height="43" fill="#f8e7de"/><rect x="617" y="1303" width="35" height="43" fill="#e6edf1"/><rect x="617" y="1345" width="35" height="43" fill="#efecea"/><rect x="617" y="1386" width="35" height="43" fill="#e8eaeb"/><rect x="617" y="1428" width="35" height="43" fill="#cce1ec"/><rect x="617" y="1470" width="35" height="43" fill="#dee4e8"/><rect x="617" y="1511" width="35" height="43" fill="#f1eae6"/><rect x="617" y="1553" width="35" height="43" fill="#eae9e8"/><rect x="617" y="1595" width="35" height="43" fill="#d4dce2"/><rect x="617" y="1636" width="35" height="43" fill="#e4eaed"/><rect x="617" y="1678" width="35" height="43" fill="#f5e9e2"/><rect x="617" y="1720" width="35" height="43" fill="#e2e0de"/><rect x="617" y="1761" width="35" height="43" fill="#e6e1df"/><rect x="617" y="1803" width="35" height="43" fill="#f1e9e4"/><rect x="617" y="1845" width="35" height="43" fill="#eadfdd"/><rect x="617" y="1887" width="35" height="43" fill="#d1e2ec"/><rect x="617" y="1928" width="35" height="43" fill="#e1cdce"/><rect x="617" y="1970" width="35" height="43" fill="#d5dce2"/><rect x="617" y="2012" width="35" height="43" fill="#dde7ec"/><rect x="617" y="2053" width="35" height="43" fill="#d4dbe1"/><rect x="617" y="2095" width="35" height="43" fill="#eddad6"/><rect x="617" y="2137" width="35" height="43" fill="#e2b8b5"/><rect x="617" y="2178" width="35" height="43" fill="#e3d9d5"/><rect x="663" y="636" width="35" height="43" fill="#d6e7f0"/><rect x="663" y="678" width="35" height="43" fill="#eeeeee"/><rect x="663" y="719" width="35" height="43" fill="#e9eef2"/><rect x="663" y="761" width="35" height="43" fill="#efecea"/><rect x="663" y="803" width="35" height="43" fill="#eeeae7"/><rect x="663" y="844" width="35" height="43" fill="#e8edef"/><rect x="663" y="886" width="35" height="43" fill="#ddeaf2"/><rect x="663" y="928" width="35" height="43" fill="#f2eeeb"/><rect x="663" y="969" width="35" height="43" fill="#e7edf0"/><rect x="663" y="1011" width="35" height="43" fill="#c1dceb"/><rect x="663" y="1053" width="35" height="43" fill="#bdd0de"/><rect x="663" y="1095" width="35" height="43" fill="#e4e0e3"/><rect x="663" y="1136" width="35" height="43" fill="#cde1ec"/><rect x="663" y="1178" width="35" height="43" fill="#c9dfeb"/><rect x="663" y="1220" width="35" height="43" fill="#99c2db"/><rect x="663" y="1261" width="35" height="43" fill="#e2d8d7"/><rect x="663" y="1303" width="35" height="43" fill="#c6deec"/><rect x="663" y="1345" width="35" height="43" fill="#dde8ee"/><rect x="663" y="1386" width="35" height="43" fill="#e8edf0"/><rect x="663" y="1428" width="35" height="43" fill="#d8e5eb"/><rect x="663" y="1470" width="35" height="43" fill="#bac9d8"/><rect x="663" y="1511" width="35" height="43" fill="#e8eff3"/><rect x="663" y="1553" width="35" height="43" fill="#dde8ed"/><rect x="663" y="1595" width="35" height="43" fill="#f0e4e1"/><rect x="663" y="1636" width="35" height="43" fill="#e6eaed"/><rect x="663" y="1678" width="35" height="43" fill="#e7ebed"/><rect x="663" y="1720" width="35" height="43" fill="#e4eaed"/><rect x="663" y="1761" width="35" height="43" fill="#f0eeec"/><rect x="663" y="1803" width="35" height="43" fill="#e0e9ee"/><rect x="663" y="1845" width="35" height="43" fill="#dce8ef"/><rect x="663" y="1887" width="35" height="43" fill="#d8e7ef"/><rect x="663" y="1928" width="35" height="43" fill="#dbc8c9"/><rect x="663" y="1970" width="35" height="43" fill="#f7e1d8"/><rect x="663" y="2012" width="35" height="43" fill="#f1eeec"/><rect x="663" y="2053" width="35" height="43" fill="#e7eef1"/><rect x="663" y="2095" width="35" height="43" fill="#f0e1da"/><rect x="663" y="2137" width="35" height="43" fill="#e5dbd9"/><rect x="663" y="2178" width="35" height="43" fill="#dee6eb"/><rect x="709" y="636" width="35" height="43" fill="#edf2f4"/><rect x="709" y="678" width="35" height="43" fill="#d8e6ed"/><rect x="709" y="719" width="35" height="43" fill="#deeaf1"/><rect x="709" y="761" width="35" height="43" fill="#ebeef0"/><rect x="709" y="803" width="35" height="43" fill="#edeeee"/><rect x="709" y="844" width="35" height="43" fill="#eceef0"/><rect x="709" y="886" width="35" height="43" fill="#dfebf1"/><rect x="709" y="928" width="35" height="43" fill="#e6eef3"/><rect x="709" y="969" width="35" height="43" fill="#edf0f2"/><rect x="709" y="1011" width="35" height="43" fill="#b7d6e7"/><rect x="709" y="1053" width="35" height="43" fill="#a3c4d9"/><rect x="709" y="1095" width="35" height="43" fill="#c9deea"/><rect x="709" y="1136" width="35" height="43" fill="#cee1ec"/><rect x="709" y="1178" width="35" height="43" fill="#b4d0e1"/><rect x="709" y="1220" width="35" height="43" fill="#aacfe3"/><rect x="709" y="1261" width="35" height="43" fill="#c4d8e5"/><rect x="709" y="1303" width="35" height="43" fill="#d9e6ed"/><rect x="709" y="1345" width="35" height="43" fill="#d6e1e8"/><rect x="709" y="1386" width="35" height="43" fill="#d5dee3"/><rect x="709" y="1428" width="35" height="43" fill="#cad9e3"/><rect x="709" y="1470" width="35" height="43" fill="#ded7d7"/><rect x="709" y="1511" width="35" height="43" fill="#e6ebee"/><rect x="709" y="1553" width="35" height="43" fill="#c5dae6"/><rect x="709" y="1595" width="35" height="43" fill="#d8e2e8"/><rect x="709" y="1636" width="35" height="43" fill="#e3e8ea"/><rect x="709" y="1678" width="35" height="43" fill="#e0e3e3"/><rect x="709" y="1720" width="35" height="43" fill="#e2e7e9"/><rect x="709" y="1761" width="35" height="43" fill="#e8e5e3"/><rect x="709" y="1803" width="35" height="43" fill="#c6ddea"/><rect x="709" y="1845" width="35" height="43" fill="#d3e3eb"/><rect x="709" y="1887" width="35" height="43" fill="#e0e5e9"/><rect x="709" y="1928" width="35" height="43" fill="#e0e4e7"/><rect x="709" y="1970" width="35" height="43" fill="#c1d3df"/><rect x="709" y="2012" width="35" height="43" fill="#d5dee5"/><rect x="709" y="2053" width="35" height="43" fill="#dbe7ed"/><rect x="709" y="2095" width="35" height="43" fill="#eeedec"/><rect x="709" y="2137" width="35" height="43" fill="#e7e7e6"/><rect x="709" y="2178" width="35" height="43" fill="#e4e8ea"/><rect x="755" y="636" width="35" height="43" fill="#d2dfe7"/><rect x="755" y="678" width="35" height="43" fill="#f6ede7"/><rect x="755" y="719" width="35" height="43" fill="#62a0c8"/><rect x="755" y="761" width="35" height="43" fill="#eceae9"/><rect x="755" y="803" width="35" height="43" fill="#f4efec"/><rect x="755" y="844" width="35" height="43" fill="#f0eae9"/><rect x="755" y="886" width="35" height="43" fill="#e3edf3"/><rect x="755" y="928" width="35" height="43" fill="#f2ebe8"/><rect x="755" y="969" width="35" height="43" fill="#f3e0d9"/><rect x="755" y="1011" width="35" height="43" fill="#e7e1e0"/><rect x="755" y="1053" width="35" height="43" fill="#e3d8d9"/><rect x="755" y="1095" width="35" height="43" fill="#ebedee"/><rect x="755" y="1136" width="35" height="43" fill="#e5e5e5"/><rect x="755" y="1178" width="35" height="43" fill="#e2ecf1"/><rect x="755" y="1220" width="35" height="43" fill="#d6e6ef"/><rect x="755" y="1261" width="35" height="43" fill="#8fb9d6"/><rect x="755" y="1303" width="35" height="43" fill="#6fa3c9"/><rect x="755" y="1345" width="35" height="43" fill="#8bbcd9"/><rect x="755" y="1386" width="35" height="43" fill="#a4c9df"/><rect x="755" y="1428" width="35" height="43" fill="#a7cbe1"/><rect x="755" y="1470" width="35" height="43" fill="#accbdf"/><rect x="755" y="1511" width="35" height="43" fill="#c5dae7"/><rect x="755" y="1553" width="35" height="43" fill="#e0ecf2"/><rect x="755" y="1595" width="35" height="43" fill="#dfe9ee"/><rect x="755" y="1636" width="35" height="43" fill="#e1ebf0"/><rect x="755" y="1678" width="35" height="43" fill="#dadbe3"/><rect x="755" y="1720" width="35" height="43" fill="#cad8e3"/><rect x="755" y="1761" width="35" height="43" fill="#a7c3d8"/><rect x="755" y="1803" width="35" height="43" fill="#76afd2"/><rect x="755" y="1845" width="35" height="43" fill="#ebeeef"/><rect x="755" y="1887" width="35" height="43" fill="#dbe8f0"/><rect x="755" y="1928" width="35" height="43" fill="#cfc6ce"/><rect x="755" y="1970" width="35" height="43" fill="#dde6eb"/><rect x="755" y="2012" width="35" height="43" fill="#d7e8f0"/><rect x="755" y="2053" width="35" height="43" fill="#cfe3ed"/><rect x="755" y="2095" width="35" height="43" fill="#dbe8f0"/><rect x="755" y="2137" width="35" height="43" fill="#dae7ef"/><rect x="755" y="2178" width="35" height="43" fill="#98c1d9"/><rect x="801" y="636" width="35" height="43" fill="#fae6da"/><rect x="801" y="678" width="35" height="43" fill="#f2f2f2"/><rect x="801" y="719" width="35" height="43" fill="#ece3e3"/><rect x="801" y="761" width="35" height="43" fill="#f6f0ed"/><rect x="801" y="803" width="35" height="43" fill="#eeebe8"/><rect x="801" y="844" width="35" height="43" fill="#e1eaef"/><rect x="801" y="886" width="35" height="43" fill="#e9e2e3"/><rect x="801" y="928" width="35" height="43" fill="#ededec"/><rect x="801" y="969" width="35" height="43" fill="#f4ebe6"/><rect x="801" y="1011" width="35" height="43" fill="#e8e8e8"/><rect x="801" y="1053" width="35" height="43" fill="#e8e9e9"/><rect x="801" y="1095" width="35" height="43" fill="#ece8e6"/><rect x="801" y="1136" width="35" height="43" fill="#e0eaef"/><rect x="801" y="1178" width="35" height="43" fill="#d8e4ec"/><rect x="801" y="1220" width="35" height="43" fill="#e2e9ed"/><rect x="801" y="1261" width="35" height="43" fill="#89b4d0"/><rect x="801" y="1303" width="35" height="43" fill="#5b88af"/><rect x="801" y="1345" width="35" height="43" fill="#6d9bc0"/><rect x="801" y="1386" width="35" height="43" fill="#9dc0d8"/><rect x="801" y="1428" width="35" height="43" fill="#a7c8de"/><rect x="801" y="1470" width="35" height="43" fill="#90b6d2"/><rect x="801" y="1511" width="35" height="43" fill="#a0c7df"/><rect x="801" y="1553" width="35" height="43" fill="#89b4d1"/><rect x="801" y="1595" width="35" height="43" fill="#c0d8e5"/><rect x="801" y="1636" width="35" height="43" fill="#dee3e6"/><rect x="801" y="1678" width="35" height="43" fill="#e2e9ec"/><rect x="801" y="1720" width="35" height="43" fill="#d7dbdf"/><rect x="801" y="1761" width="35" height="43" fill="#e0e4e7"/><rect x="801" y="1803" width="35" height="43" fill="#cde1ec"/><rect x="801" y="1845" width="35" height="43" fill="#e0e9ee"/><rect x="801" y="1887" width="35" height="43" fill="#e5e9eb"/><rect x="801" y="1928" width="35" height="43" fill="#e0d1d3"/><rect x="801" y="1970" width="35" height="43" fill="#dbe8ef"/><rect x="801" y="2012" width="35" height="43" fill="#d0e1e9"/><rect x="801" y="2053" width="35" height="43" fill="#e2ecf1"/><rect x="801" y="2095" width="35" height="43" fill="#dfe4e7"/><rect x="801" y="2137" width="35" height="43" fill="#eddbd6"/><rect x="801" y="2178" width="35" height="43" fill="#9db0c3"/><rect x="847" y="636" width="35" height="43" fill="#d9e7ef"/><rect x="847" y="678" width="35" height="43" fill="#c5d7e2"/><rect x="847" y="719" width="35" height="43" fill="#d3e3ec"/><rect x="847" y="761" width="35" height="43" fill="#f0f0ef"/><rect x="847" y="803" width="35" height="43" fill="#f2f1f0"/><rect x="847" y="844" width="35" height="43" fill="#eeeeee"/><rect x="847" y="886" width="35" height="43" fill="#efe7e3"/><rect x="847" y="928" width="35" height="43" fill="#ebdeda"/><rect x="847" y="969" width="35" height="43" fill="#f7eee9"/><rect x="847" y="1011" width="35" height="43" fill="#dee8ec"/><rect x="847" y="1053" width="35" height="43" fill="#dce8ee"/><rect x="847" y="1095" width="35" height="43" fill="#dbe5ea"/><rect x="847" y="1136" width="35" height="43" fill="#d1dce2"/><rect x="847" y="1178" width="35" height="43" fill="#e2eaed"/><rect x="847" y="1220" width="35" height="43" fill="#d3e5ef"/><rect x="847" y="1261" width="35" height="43" fill="#bed6e4"/><rect x="847" y="1303" width="35" height="43" fill="#b1d4e6"/><rect x="847" y="1345" width="35" height="43" fill="#a8cfe4"/><rect x="847" y="1386" width="35" height="43" fill="#c7e0ec"/><rect x="847" y="1428" width="35" height="43" fill="#bbd7e8"/><rect x="847" y="1470" width="35" height="43" fill="#99bad3"/><rect x="847" y="1511" width="35" height="43" fill="#75a5c7"/><rect x="847" y="1553" width="35" height="43" fill="#578eb9"/><rect x="847" y="1595" width="35" height="43" fill="#85b4d1"/><rect x="847" y="1636" width="35" height="43" fill="#83accb"/><rect x="847" y="1678" width="35" height="43" fill="#ebeeef"/><rect x="847" y="1720" width="35" height="43" fill="#d7e7f0"/><rect x="847" y="1761" width="35" height="43" fill="#dae7ef"/><rect x="847" y="1803" width="35" height="43" fill="#bad4e4"/><rect x="847" y="1845" width="35" height="43" fill="#dae7ed"/><rect x="847" y="1887" width="35" height="43" fill="#d3e3ee"/><rect x="847" y="1928" width="35" height="43" fill="#eaeae9"/><rect x="847" y="1970" width="35" height="43" fill="#d9e4ea"/><rect x="847" y="2012" width="35" height="43" fill="#d1e3ed"/><rect x="847" y="2053" width="35" height="43" fill="#dae9f0"/><rect x="847" y="2095" width="35" height="43" fill="#e6e9eb"/><rect x="847" y="2137" width="35" height="43" fill="#ebd4d2"/><rect x="847" y="2178" width="35" height="43" fill="#dadcde"/><rect x="893" y="636" width="35" height="43" fill="#e8e7e9"/><rect x="893" y="678" width="35" height="43" fill="#f2eeec"/><rect x="893" y="719" width="35" height="43" fill="#e6edf0"/><rect x="893" y="761" width="35" height="43" fill="#eeeeed"/><rect x="893" y="803" width="35" height="43" fill="#deebf2"/><rect x="893" y="844" width="35" height="43" fill="#e3edf3"/><rect x="893" y="886" width="35" height="43" fill="#c9dbe9"/><rect x="893" y="928" width="35" height="43" fill="#e8ddd8"/><rect x="893" y="969" width="35" height="43" fill="#f2f0ee"/><rect x="893" y="1011" width="35" height="43" fill="#eceff1"/><rect x="893" y="1053" width="35" height="43" fill="#dde9ef"/><rect x="893" y="1095" width="35" height="43" fill="#eae8e7"/><rect x="893" y="1136" width="35" height="43" fill="#e9ecee"/><rect x="893" y="1178" width="35" height="43" fill="#d9e6ed"/><rect x="893" y="1220" width="35" height="43" fill="#d2e5ef"/><rect x="893" y="1261" width="35" height="43" fill="#bed8e5"/><rect x="893" y="1303" width="35" height="43" fill="#b5cddd"/><rect x="893" y="1345" width="35" height="43" fill="#c0d8e7"/><rect x="893" y="1386" width="35" height="43" fill="#a5c8de"/><rect x="893" y="1428" width="35" height="43" fill="#b1cee0"/><rect x="893" y="1470" width="35" height="43" fill="#aecadd"/><rect x="893" y="1511" width="35" height="43" fill="#d0d5da"/><rect x="893" y="1553" width="35" height="43" fill="#70a4c9"/><rect x="893" y="1595" width="35" height="43" fill="#4c86b0"/><rect x="893" y="1636" width="35" height="43" fill="#6b97bb"/><rect x="893" y="1678" width="35" height="43" fill="#c0d0dc"/><rect x="893" y="1720" width="35" height="43" fill="#d8e3ea"/><rect x="893" y="1761" width="35" height="43" fill="#dae4e9"/><rect x="893" y="1803" width="35" height="43" fill="#d3e5ee"/><rect x="893" y="1845" width="35" height="43" fill="#d5e4eb"/><rect x="893" y="1887" width="35" height="43" fill="#d7e6ef"/><rect x="893" y="1928" width="35" height="43" fill="#dcdcdf"/><rect x="893" y="1970" width="35" height="43" fill="#cad7e0"/><rect x="893" y="2012" width="35" height="43" fill="#dce9f0"/><rect x="893" y="2053" width="35" height="43" fill="#d2e2ea"/><rect x="893" y="2095" width="35" height="43" fill="#dce1e4"/><rect x="893" y="2137" width="35" height="43" fill="#e5dddb"/><rect x="893" y="2178" width="35" height="43" fill="#ead3ce"/><rect x="939" y="636" width="35" height="43" fill="#f9eae2"/><rect x="939" y="678" width="35" height="43" fill="#f3f2f1"/><rect x="939" y="719" width="35" height="43" fill="#dce9f1"/><rect x="939" y="761" width="35" height="43" fill="#ece6e2"/><rect x="939" y="803" width="35" height="43" fill="#f5e6dd"/><rect x="939" y="844" width="35" height="43" fill="#ecd1cb"/><rect x="939" y="886" width="35" height="43" fill="#e0d8d5"/><rect x="939" y="928" width="35" height="43" fill="#f2bdaa"/><rect x="939" y="969" width="35" height="43" fill="#eeb4a4"/><rect x="939" y="1011" width="35" height="43" fill="#e2a197"/><rect x="939" y="1053" width="35" height="43" fill="#e3998b"/><rect x="939" y="1095" width="35" height="43" fill="#f3d7ce"/><rect x="939" y="1136" width="35" height="43" fill="#f2e2df"/><rect x="939" y="1178" width="35" height="43" fill="#eac4c2"/><rect x="939" y="1220" width="35" height="43" fill="#ebccc9"/><rect x="939" y="1261" width="35" height="43" fill="#d6adae"/><rect x="939" y="1303" width="35" height="43" fill="#f0d8d0"/><rect x="939" y="1345" width="35" height="43" fill="#eff1f2"/><rect x="939" y="1386" width="35" height="43" fill="#efeeed"/><rect x="939" y="1428" width="35" height="43" fill="#eae0dc"/><rect x="939" y="1470" width="35" height="43" fill="#eae4e2"/><rect x="939" y="1511" width="35" height="43" fill="#f0edeb"/><rect x="939" y="1553" width="35" height="43" fill="#dca39a"/><rect x="939" y="1595" width="35" height="43" fill="#e8b2a7"/><rect x="939" y="1636" width="35" height="43" fill="#cddce4"/><rect x="939" y="1678" width="35" height="43" fill="#a1cbe1"/><rect x="939" y="1720" width="35" height="43" fill="#f5e5dd"/><rect x="939" y="1761" width="35" height="43" fill="#f9d0bb"/><rect x="939" y="1803" width="35" height="43" fill="#e6927c"/><rect x="939" y="1845" width="35" height="43" fill="#e7957e"/><rect x="939" y="1887" width="35" height="43" fill="#ecb3a2"/><rect x="939" y="1928" width="35" height="43" fill="#ac383d"/><rect x="939" y="1970" width="35" height="43" fill="#e6a392"/><rect x="939" y="2012" width="35" height="43" fill="#f0dcd7"/><rect x="939" y="2053" width="35" height="43" fill="#ebe8e8"/><rect x="939" y="2095" width="35" height="43" fill="#f5c5b2"/><rect x="939" y="2137" width="35" height="43" fill="#efa287"/><rect x="939" y="2178" width="35" height="43" fill="#bf9894"/><rect x="985" y="636" width="35" height="43" fill="#f6f1ee"/><rect x="985" y="678" width="35" height="43" fill="#f2f3f4"/><rect x="985" y="719" width="35" height="43" fill="#ebf1f4"/><rect x="985" y="761" width="35" height="43" fill="#f0efef"/><rect x="985" y="803" width="35" height="43" fill="#f3f3f3"/><rect x="985" y="844" width="35" height="43" fill="#ede9e7"/><rect x="985" y="886" width="35" height="43" fill="#f4f5f6"/><rect x="985" y="928" width="35" height="43" fill="#f4efec"/><rect x="985" y="969" width="35" height="43" fill="#f4eeeb"/><rect x="985" y="1011" width="35" height="43" fill="#f1f1f1"/><rect x="985" y="1053" width="35" height="43" fill="#f6f4f4"/><rect x="985" y="1095" width="35" height="43" fill="#edf1f3"/><rect x="985" y="1136" width="35" height="43" fill="#f0f3f5"/><rect x="985" y="1178" width="35" height="43" fill="#eaf0f4"/><rect x="985" y="1220" width="35" height="43" fill="#eff2f4"/><rect x="985" y="1261" width="35" height="43" fill="#f4eeeb"/><rect x="985" y="1303" width="35" height="43" fill="#eef1f3"/><rect x="985" y="1345" width="35" height="43" fill="#ebedee"/><rect x="985" y="1386" width="35" height="43" fill="#f3f3f3"/><rect x="985" y="1428" width="35" height="43" fill="#e1eaf1"/><rect x="985" y="1470" width="35" height="43" fill="#d1e0eb"/><rect x="985" y="1511" width="35" height="43" fill="#f5f4f3"/><rect x="985" y="1553" width="35" height="43" fill="#efe8e5"/><rect x="985" y="1595" width="35" height="43" fill="#f3eae6"/><rect x="985" y="1636" width="35" height="43" fill="#8fbad6"/><rect x="985" y="1678" width="35" height="43" fill="#c7deea"/><rect x="985" y="1720" width="35" height="43" fill="#b5d5e6"/><rect x="985" y="1761" width="35" height="43" fill="#f5eae6"/><rect x="985" y="1803" width="35" height="43" fill="#edf2f5"/><rect x="985" y="1845" width="35" height="43" fill="#f6f0ec"/><rect x="985" y="1887" width="35" height="43" fill="#eff2f4"/><rect x="985" y="1928" width="35" height="43" fill="#e8e9eb"/><rect x="985" y="1970" width="35" height="43" fill="#eef1f3"/><rect x="985" y="2012" width="35" height="43" fill="#f3f2f2"/><rect x="985" y="2053" width="35" height="43" fill="#f2f4f5"/><rect x="985" y="2095" width="35" height="43" fill="#f3f3f3"/><rect x="985" y="2137" width="35" height="43" fill="#f1f1f1"/><rect x="985" y="2178" width="35" height="43" fill="#e1eaee"/><rect x="1031" y="636" width="35" height="43" fill="#f5f0ee"/><rect x="1031" y="678" width="35" height="43" fill="#f2e9e5"/><rect x="1031" y="719" width="35" height="43" fill="#edeae9"/><rect x="1031" y="761" width="35" height="43" fill="#f5f3f3"/><rect x="1031" y="803" width="35" height="43" fill="#f1f4f5"/><rect x="1031" y="844" width="35" height="43" fill="#f4f3f1"/><rect x="1031" y="886" width="35" height="43" fill="#f3f3f2"/><rect x="1031" y="928" width="35" height="43" fill="#f4f4f4"/><rect x="1031" y="969" width="35" height="43" fill="#f8f1ee"/><rect x="1031" y="1011" width="35" height="43" fill="#f5f1ef"/><rect x="1031" y="1053" width="35" height="43" fill="#eef2f5"/><rect x="1031" y="1095" width="35" height="43" fill="#eaf0f3"/><rect x="1031" y="1136" width="35" height="43" fill="#eef0f1"/><rect x="1031" y="1178" width="35" height="43" fill="#f0f3f5"/><rect x="1031" y="1220" width="35" height="43" fill="#ebf1f4"/><rect x="1031" y="1261" width="35" height="43" fill="#f6efea"/><rect x="1031" y="1303" width="35" height="43" fill="#eeefef"/><rect x="1031" y="1345" width="35" height="43" fill="#f2f2f2"/><rect x="1031" y="1386" width="35" height="43" fill="#f3f2f2"/><rect x="1031" y="1428" width="35" height="43" fill="#e9f0f4"/><rect x="1031" y="1470" width="35" height="43" fill="#e7eaec"/><rect x="1031" y="1511" width="35" height="43" fill="#edeff0"/><rect x="1031" y="1553" width="35" height="43" fill="#edeff0"/><rect x="1031" y="1595" width="35" height="43" fill="#f4f1ef"/><rect x="1031" y="1636" width="35" height="43" fill="#a3c9e0"/><rect x="1031" y="1678" width="35" height="43" fill="#a7cade"/><rect x="1031" y="1720" width="35" height="43" fill="#c4ddeb"/><rect x="1031" y="1761" width="35" height="43" fill="#f0f1f2"/><rect x="1031" y="1803" width="35" height="43" fill="#eff3f5"/><rect x="1031" y="1845" width="35" height="43" fill="#f1f3f4"/><rect x="1031" y="1887" width="35" height="43" fill="#e8eff4"/><rect x="1031" y="1928" width="35" height="43" fill="#f3f3f3"/><rect x="1031" y="1970" width="35" height="43" fill="#eef1f2"/><rect x="1031" y="2012" width="35" height="43" fill="#f0f3f4"/><rect x="1031" y="2053" width="35" height="43" fill="#f1f3f5"/><rect x="1031" y="2095" width="35" height="43" fill="#f6ede8"/><rect x="1031" y="2137" width="35" height="43" fill="#e7dedf"/><rect x="1031" y="2178" width="35" height="43" fill="#dbe7ed"/><rect x="1077" y="636" width="35" height="43" fill="#e6ecef"/><rect x="1077" y="678" width="35" height="43" fill="#f3f3f3"/><rect x="1077" y="719" width="35" height="43" fill="#f0f3f5"/><rect x="1077" y="761" width="35" height="43" fill="#eaf1f4"/><rect x="1077" y="803" width="35" height="43" fill="#eef1f2"/><rect x="1077" y="844" width="35" height="43" fill="#f3f1f0"/><rect x="1077" y="886" width="35" height="43" fill="#f2f4f5"/><rect x="1077" y="928" width="35" height="43" fill="#f4f1ef"/><rect x="1077" y="969" width="35" height="43" fill="#f7f1ed"/><rect x="1077" y="1011" width="35" height="43" fill="#f0eeed"/><rect x="1077" y="1053" width="35" height="43" fill="#e3edf2"/><rect x="1077" y="1095" width="35" height="43" fill="#e7eef3"/><rect x="1077" y="1136" width="35" height="43" fill="#eef2f5"/><rect x="1077" y="1178" width="35" height="43" fill="#f2f2f2"/><rect x="1077" y="1220" width="35" height="43" fill="#f0f3f5"/><rect x="1077" y="1261" width="35" height="43" fill="#f1efee"/><rect x="1077" y="1303" width="35" height="43" fill="#ebe8e8"/><rect x="1077" y="1345" width="35" height="43" fill="#eff2f4"/><rect x="1077" y="1386" width="35" height="43" fill="#f4f2f1"/><rect x="1077" y="1428" width="35" height="43" fill="#f1f1f1"/><rect x="1077" y="1470" width="35" height="43" fill="#e8e8eb"/><rect x="1077" y="1511" width="35" height="43" fill="#edf2f4"/><rect x="1077" y="1553" width="35" height="43" fill="#eee8e5"/><rect x="1077" y="1595" width="35" height="43" fill="#f2f4f5"/><rect x="1077" y="1636" width="35" height="43" fill="#c1dbe9"/><rect x="1077" y="1678" width="35" height="43" fill="#c7dde8"/><rect x="1077" y="1720" width="35" height="43" fill="#a6c9de"/><rect x="1077" y="1761" width="35" height="43" fill="#f5f1ee"/><rect x="1077" y="1803" width="35" height="43" fill="#f3f4f5"/><rect x="1077" y="1845" width="35" height="43" fill="#ecf0f3"/><rect x="1077" y="1887" width="35" height="43" fill="#f0efee"/><rect x="1077" y="1928" width="35" height="43" fill="#ededed"/><rect x="1077" y="1970" width="35" height="43" fill="#f4f5f5"/><rect x="1077" y="2012" width="35" height="43" fill="#eff2f4"/><rect x="1077" y="2053" width="35" height="43" fill="#f0f3f5"/><rect x="1077" y="2095" width="35" height="43" fill="#eaf0f4"/><rect x="1077" y="2137" width="35" height="43" fill="#eef2f5"/><rect x="1077" y="2178" width="35" height="43" fill="#dae8ef"/><rect x="1123" y="636" width="35" height="43" fill="#f2ebe9"/><rect x="1123" y="678" width="35" height="43" fill="#f6f3f1"/><rect x="1123" y="719" width="35" height="43" fill="#eef2f5"/><rect x="1123" y="761" width="35" height="43" fill="#f1ecea"/><rect x="1123" y="803" width="35" height="43" fill="#f4ece9"/><rect x="1123" y="844" width="35" height="43" fill="#f6ede9"/><rect x="1123" y="886" width="35" height="43" fill="#f5f1ee"/><rect x="1123" y="928" width="35" height="43" fill="#e5ebf0"/><rect x="1123" y="969" width="35" height="43" fill="#f5f1ef"/><rect x="1123" y="1011" width="35" height="43" fill="#ecf1f4"/><rect x="1123" y="1053" width="35" height="43" fill="#ebf0f2"/><rect x="1123" y="1095" width="35" height="43" fill="#eaeff2"/><rect x="1123" y="1136" width="35" height="43" fill="#eef2f4"/><rect x="1123" y="1178" width="35" height="43" fill="#e8f0f4"/><rect x="1123" y="1220" width="35" height="43" fill="#eaeff2"/><rect x="1123" y="1261" width="35" height="43" fill="#f3e5df"/><rect x="1123" y="1303" width="35" height="43" fill="#ececec"/><rect x="1123" y="1345" width="35" height="43" fill="#f0f3f4"/><rect x="1123" y="1386" width="35" height="43" fill="#f1f2f1"/><rect x="1123" y="1428" width="35" height="43" fill="#f0f3f5"/><rect x="1123" y="1470" width="35" height="43" fill="#e3dfe0"/><rect x="1123" y="1511" width="35" height="43" fill="#eeebea"/><rect x="1123" y="1553" width="35" height="43" fill="#edeae8"/><rect x="1123" y="1595" width="35" height="43" fill="#e7e4e6"/><rect x="1123" y="1636" width="35" height="43" fill="#cbdae5"/><rect x="1123" y="1678" width="35" height="43" fill="#abcee1"/><rect x="1123" y="1720" width="35" height="43" fill="#afcede"/><rect x="1123" y="1761" width="35" height="43" fill="#f4f3f2"/><rect x="1123" y="1803" width="35" height="43" fill="#e7eff4"/><rect x="1123" y="1845" width="35" height="43" fill="#f0f3f5"/><rect x="1123" y="1887" width="35" height="43" fill="#f4f4f4"/><rect x="1123" y="1928" width="35" height="43" fill="#e7edef"/><rect x="1123" y="1970" width="35" height="43" fill="#f4f0ee"/><rect x="1123" y="2012" width="35" height="43" fill="#f3eeec"/><rect x="1123" y="2053" width="35" height="43" fill="#f3f5f5"/><rect x="1123" y="2095" width="35" height="43" fill="#f3f4f4"/><rect x="1123" y="2137" width="35" height="43" fill="#f6f3f1"/><rect x="1123" y="2178" width="35" height="43" fill="#dee9ee"/><rect x="1169" y="636" width="35" height="43" fill="#f5e7df"/><rect x="1169" y="678" width="35" height="43" fill="#f3f3f3"/><rect x="1169" y="719" width="35" height="43" fill="#e6eef3"/><rect x="1169" y="761" width="35" height="43" fill="#f2f4f5"/><rect x="1169" y="803" width="35" height="43" fill="#f7f2ef"/><rect x="1169" y="844" width="35" height="43" fill="#f7f1ee"/><rect x="1169" y="886" width="35" height="43" fill="#f4f4f4"/><rect x="1169" y="928" width="35" height="43" fill="#ecf1f3"/><rect x="1169" y="969" width="35" height="43" fill="#eef1f2"/><rect x="1169" y="1011" width="35" height="43" fill="#f1f2f3"/><rect x="1169" y="1053" width="35" height="43" fill="#ecf1f4"/><rect x="1169" y="1095" width="35" height="43" fill="#f1efed"/><rect x="1169" y="1136" width="35" height="43" fill="#f6f4f2"/><rect x="1169" y="1178" width="35" height="43" fill="#f2f4f4"/><rect x="1169" y="1220" width="35" height="43" fill="#ecf1f4"/><rect x="1169" y="1261" width="35" height="43" fill="#e4edf1"/><rect x="1169" y="1303" width="35" height="43" fill="#eef0f0"/><rect x="1169" y="1345" width="35" height="43" fill="#f0f1f1"/><rect x="1169" y="1386" width="35" height="43" fill="#f4f0ee"/><rect x="1169" y="1428" width="35" height="43" fill="#f2f3f4"/><rect x="1169" y="1470" width="35" height="43" fill="#cfe0ec"/><rect x="1169" y="1511" width="35" height="43" fill="#ebf1f4"/><rect x="1169" y="1553" width="35" height="43" fill="#ebe6e4"/><rect x="1169" y="1595" width="35" height="43" fill="#edf1f2"/><rect x="1169" y="1636" width="35" height="43" fill="#deeaf1"/><rect x="1169" y="1678" width="35" height="43" fill="#c3ddeb"/><rect x="1169" y="1720" width="35" height="43" fill="#c2d5e2"/><rect x="1169" y="1761" width="35" height="43" fill="#dce9ef"/><rect x="1169" y="1803" width="35" height="43" fill="#f3f3f3"/><rect x="1169" y="1845" width="35" height="43" fill="#f1f3f4"/><rect x="1169" y="1887" width="35" height="43" fill="#edf2f4"/><rect x="1169" y="1928" width="35" height="43" fill="#d9dee0"/><rect x="1169" y="1970" width="35" height="43" fill="#ebf1f4"/><rect x="1169" y="2012" width="35" height="43" fill="#edf2f5"/><rect x="1169" y="2053" width="35" height="43" fill="#e8e5e9"/><rect x="1169" y="2095" width="35" height="43" fill="#f2f1f1"/><rect x="1169" y="2137" width="35" height="43" fill="#f7f1ee"/><rect x="1169" y="2178" width="35" height="43" fill="#d3e4ed"/><rect x="1216" y="636" width="35" height="43" fill="#ebf0f2"/><rect x="1216" y="678" width="35" height="43" fill="#f4f5f5"/><rect x="1216" y="719" width="35" height="43" fill="#e6eff3"/><rect x="1216" y="761" width="35" height="43" fill="#ebf1f4"/><rect x="1216" y="803" width="35" height="43" fill="#f6f4f3"/><rect x="1216" y="844" width="35" height="43" fill="#f2efed"/><rect x="1216" y="886" width="35" height="43" fill="#f2f4f4"/><rect x="1216" y="928" width="35" height="43" fill="#f3f2f2"/><rect x="1216" y="969" width="35" height="43" fill="#f8efea"/><rect x="1216" y="1011" width="35" height="43" fill="#f5f1ee"/><rect x="1216" y="1053" width="35" height="43" fill="#f7f2ef"/><rect x="1216" y="1095" width="35" height="43" fill="#f6f1ee"/><rect x="1216" y="1136" width="35" height="43" fill="#eaeef0"/><rect x="1216" y="1178" width="35" height="43" fill="#ecf1f5"/><rect x="1216" y="1220" width="35" height="43" fill="#eef2f5"/><rect x="1216" y="1261" width="35" height="43" fill="#f0f0f1"/><rect x="1216" y="1303" width="35" height="43" fill="#eff0f0"/><rect x="1216" y="1345" width="35" height="43" fill="#f1f4f5"/><rect x="1216" y="1386" width="35" height="43" fill="#edf2f4"/><rect x="1216" y="1428" width="35" height="43" fill="#e9f0f4"/><rect x="1216" y="1470" width="35" height="43" fill="#d9dce4"/><rect x="1216" y="1511" width="35" height="43" fill="#f1f3f5"/><rect x="1216" y="1553" width="35" height="43" fill="#edf1f4"/><rect x="1216" y="1595" width="35" height="43" fill="#f2ece9"/><rect x="1216" y="1636" width="35" height="43" fill="#dfe5e9"/><rect x="1216" y="1678" width="35" height="43" fill="#c9e0ec"/><rect x="1216" y="1720" width="35" height="43" fill="#bad8e8"/><rect x="1216" y="1761" width="35" height="43" fill="#edf0f2"/><rect x="1216" y="1803" width="35" height="43" fill="#f2f3f4"/><rect x="1216" y="1845" width="35" height="43" fill="#f2f3f3"/><rect x="1216" y="1887" width="35" height="43" fill="#e2edf2"/><rect x="1216" y="1928" width="35" height="43" fill="#d8d9dc"/><rect x="1216" y="1970" width="35" height="43" fill="#f3f4f4"/><rect x="1216" y="2012" width="35" height="43" fill="#f0f3f5"/><rect x="1216" y="2053" width="35" height="43" fill="#f0f3f4"/><rect x="1216" y="2095" width="35" height="43" fill="#e9f0f4"/><rect x="1216" y="2137" width="35" height="43" fill="#f4f4f4"/><rect x="1216" y="2178" width="35" height="43" fill="#d7e4eb"/><rect x="1262" y="636" width="35" height="43" fill="#eeeeee"/><rect x="1262" y="678" width="35" height="43" fill="#eff2f4"/><rect x="1262" y="719" width="35" height="43" fill="#edf2f5"/><rect x="1262" y="761" width="35" height="43" fill="#f4f3f3"/><rect x="1262" y="803" width="35" height="43" fill="#f2edeb"/><rect x="1262" y="844" width="35" height="43" fill="#f9ebe2"/><rect x="1262" y="886" width="35" height="43" fill="#f5f3f2"/><rect x="1262" y="928" width="35" height="43" fill="#f4efed"/><rect x="1262" y="969" width="35" height="43" fill="#f6f4f2"/><rect x="1262" y="1011" width="35" height="43" fill="#eceff1"/><rect x="1262" y="1053" width="35" height="43" fill="#dce9f0"/><rect x="1262" y="1095" width="35" height="43" fill="#edf0f1"/><rect x="1262" y="1136" width="35" height="43" fill="#ecf1f4"/><rect x="1262" y="1178" width="35" height="43" fill="#f0f3f5"/><rect x="1262" y="1220" width="35" height="43" fill="#f1ecec"/><rect x="1262" y="1261" width="35" height="43" fill="#f3ebe7"/><rect x="1262" y="1303" width="35" height="43" fill="#f0eeed"/><rect x="1262" y="1345" width="35" height="43" fill="#f1f3f3"/><rect x="1262" y="1386" width="35" height="43" fill="#f2f3f4"/><rect x="1262" y="1428" width="35" height="43" fill="#e0eaf1"/><rect x="1262" y="1470" width="35" height="43" fill="#d3d6dc"/><rect x="1262" y="1511" width="35" height="43" fill="#f4f4f4"/><rect x="1262" y="1553" width="35" height="43" fill="#ebe9e9"/><rect x="1262" y="1595" width="35" height="43" fill="#f6f3f0"/><rect x="1262" y="1636" width="35" height="43" fill="#e9f0f3"/><rect x="1262" y="1678" width="35" height="43" fill="#eff3f5"/><rect x="1262" y="1720" width="35" height="43" fill="#d2e3ec"/><rect x="1262" y="1761" width="35" height="43" fill="#5398c5"/><rect x="1262" y="1803" width="35" height="43" fill="#5c98c3"/><rect x="1262" y="1845" width="35" height="43" fill="#b1d3e5"/><rect x="1262" y="1887" width="35" height="43" fill="#cbe1ed"/><rect x="1262" y="1928" width="35" height="43" fill="#d7e3ec"/><rect x="1262" y="1970" width="35" height="43" fill="#eef1f4"/><rect x="1262" y="2012" width="35" height="43" fill="#e8f0f4"/><rect x="1262" y="2053" width="35" height="43" fill="#f2f4f5"/><rect x="1262" y="2095" width="35" height="43" fill="#f0f3f4"/><rect x="1262" y="2137" width="35" height="43" fill="#f5f3f2"/><rect x="1262" y="2178" width="35" height="43" fill="#dedde0"/><rect x="1308" y="636" width="35" height="43" fill="#f6eae5"/><rect x="1308" y="678" width="35" height="43" fill="#f6f2f0"/><rect x="1308" y="719" width="35" height="43" fill="#edf2f4"/><rect x="1308" y="761" width="35" height="43" fill="#f3f4f4"/><rect x="1308" y="803" width="35" height="43" fill="#ecf1f4"/><rect x="1308" y="844" width="35" height="43" fill="#eef1f3"/><rect x="1308" y="886" width="35" height="43" fill="#e6ecf1"/><rect x="1308" y="928" width="35" height="43" fill="#f4f4f4"/><rect x="1308" y="969" width="35" height="43" fill="#f6f4f3"/><rect x="1308" y="1011" width="35" height="43" fill="#f0f1f1"/><rect x="1308" y="1053" width="35" height="43" fill="#f3f3f3"/><rect x="1308" y="1095" width="35" height="43" fill="#f0f2f2"/><rect x="1308" y="1136" width="35" height="43" fill="#f0f3f5"/><rect x="1308" y="1178" width="35" height="43" fill="#e9f0f4"/><rect x="1308" y="1220" width="35" height="43" fill="#ecf1f4"/><rect x="1308" y="1261" width="35" height="43" fill="#f2eae6"/><rect x="1308" y="1303" width="35" height="43" fill="#f3ece9"/><rect x="1308" y="1345" width="35" height="43" fill="#f4f4f4"/><rect x="1308" y="1386" width="35" height="43" fill="#f0f2f2"/><rect x="1308" y="1428" width="35" height="43" fill="#f2f2f2"/><rect x="1308" y="1470" width="35" height="43" fill="#dadee3"/><rect x="1308" y="1511" width="35" height="43" fill="#f6f3f0"/><rect x="1308" y="1553" width="35" height="43" fill="#eeeeed"/><rect x="1308" y="1595" width="35" height="43" fill="#f3ebe8"/><rect x="1308" y="1636" width="35" height="43" fill="#e4e6e8"/><rect x="1308" y="1678" width="35" height="43" fill="#f4eeeb"/><rect x="1308" y="1720" width="35" height="43" fill="#ecf2f4"/><rect x="1308" y="1761" width="35" height="43" fill="#b8d6e6"/><rect x="1308" y="1803" width="35" height="43" fill="#a7cfe3"/><rect x="1308" y="1845" width="35" height="43" fill="#abcfe4"/><rect x="1308" y="1887" width="35" height="43" fill="#92beda"/><rect x="1308" y="1928" width="35" height="43" fill="#ebeff2"/><rect x="1308" y="1970" width="35" height="43" fill="#eef2f4"/><rect x="1308" y="2012" width="35" height="43" fill="#eff3f5"/><rect x="1308" y="2053" width="35" height="43" fill="#eaf1f4"/><rect x="1308" y="2095" width="35" height="43" fill="#f3f4f5"/><rect x="1308" y="2137" width="35" height="43" fill="#f3f1f0"/><rect x="1308" y="2178" width="35" height="43" fill="#eff0f1"/><rect x="1354" y="636" width="35" height="43" fill="#f4f2f1"/><rect x="1354" y="678" width="35" height="43" fill="#f3f0ee"/><rect x="1354" y="719" width="35" height="43" fill="#f3f3f3"/><rect x="1354" y="761" width="35" height="43" fill="#f4f4f5"/><rect x="1354" y="803" width="35" height="43" fill="#f6f1ee"/><rect x="1354" y="844" width="35" height="43" fill="#f8efe9"/><rect x="1354" y="886" width="35" height="43" fill="#f7f0ec"/><rect x="1354" y="928" width="35" height="43" fill="#f8f0ec"/><rect x="1354" y="969" width="35" height="43" fill="#f3f3f3"/><rect x="1354" y="1011" width="35" height="43" fill="#eff0f0"/><rect x="1354" y="1053" width="35" height="43" fill="#e4edf2"/><rect x="1354" y="1095" width="35" height="43" fill="#f3f1ef"/><rect x="1354" y="1136" width="35" height="43" fill="#e9f0f4"/><rect x="1354" y="1178" width="35" height="43" fill="#ebf0f3"/><rect x="1354" y="1220" width="35" height="43" fill="#f0f3f4"/><rect x="1354" y="1261" width="35" height="43" fill="#ece3e4"/><rect x="1354" y="1303" width="35" height="43" fill="#f1f0ef"/><rect x="1354" y="1345" width="35" height="43" fill="#eef2f4"/><rect x="1354" y="1386" width="35" height="43" fill="#f1f3f3"/><rect x="1354" y="1428" width="35" height="43" fill="#f5f5f4"/><rect x="1354" y="1470" width="35" height="43" fill="#e5eef2"/><rect x="1354" y="1511" width="35" height="43" fill="#eef3f5"/><rect x="1354" y="1553" width="35" height="43" fill="#ece1df"/><rect x="1354" y="1595" width="35" height="43" fill="#f6ede8"/><rect x="1354" y="1636" width="35" height="43" fill="#efedec"/><rect x="1354" y="1678" width="35" height="43" fill="#f2efed"/><rect x="1354" y="1720" width="35" height="43" fill="#e1ecf2"/><rect x="1354" y="1761" width="35" height="43" fill="#d1d7e0"/><rect x="1354" y="1803" width="35" height="43" fill="#69a6cd"/><rect x="1354" y="1845" width="35" height="43" fill="#7eafcf"/><rect x="1354" y="1887" width="35" height="43" fill="#8abcd9"/><rect x="1354" y="1928" width="35" height="43" fill="#d6dde2"/><rect x="1354" y="1970" width="35" height="43" fill="#f1f3f4"/><rect x="1354" y="2012" width="35" height="43" fill="#eff2f4"/><rect x="1354" y="2053" width="35" height="43" fill="#eff3f5"/><rect x="1354" y="2095" width="35" height="43" fill="#f4f3f2"/><rect x="1354" y="2137" width="35" height="43" fill="#f8f0ec"/><rect x="1354" y="2178" width="35" height="43" fill="#f6f3f2"/><rect x="1400" y="636" width="35" height="43" fill="#e9e3e3"/><rect x="1400" y="678" width="35" height="43" fill="#f3f4f4"/><rect x="1400" y="719" width="35" height="43" fill="#edf1f3"/><rect x="1400" y="761" width="35" height="43" fill="#f5f3f2"/><rect x="1400" y="803" width="35" height="43" fill="#f7f2ee"/><rect x="1400" y="844" width="35" height="43" fill="#f5f5f4"/><rect x="1400" y="886" width="35" height="43" fill="#edf2f5"/><rect x="1400" y="928" width="35" height="43" fill="#f4f2f1"/><rect x="1400" y="969" width="35" height="43" fill="#f3f2f1"/><rect x="1400" y="1011" width="35" height="43" fill="#ecf1f4"/><rect x="1400" y="1053" width="35" height="43" fill="#e8edf0"/><rect x="1400" y="1095" width="35" height="43" fill="#ebf0f3"/><rect x="1400" y="1136" width="35" height="43" fill="#ececec"/><rect x="1400" y="1178" width="35" height="43" fill="#f2f0ee"/><rect x="1400" y="1220" width="35" height="43" fill="#ecf2f5"/><rect x="1400" y="1261" width="35" height="43" fill="#f2eeed"/><rect x="1400" y="1303" width="35" height="43" fill="#eef0f1"/><rect x="1400" y="1345" width="35" height="43" fill="#f0f3f5"/><rect x="1400" y="1386" width="35" height="43" fill="#f4f1f0"/><rect x="1400" y="1428" width="35" height="43" fill="#f2eae7"/><rect x="1400" y="1470" width="35" height="43" fill="#cddde9"/><rect x="1400" y="1511" width="35" height="43" fill="#f2f4f4"/><rect x="1400" y="1553" width="35" height="43" fill="#f3f1f0"/><rect x="1400" y="1595" width="35" height="43" fill="#f2f4f5"/><rect x="1400" y="1636" width="35" height="43" fill="#edeff0"/><rect x="1400" y="1678" width="35" height="43" fill="#f3f4f5"/><rect x="1400" y="1720" width="35" height="43" fill="#f3f3f3"/><rect x="1400" y="1761" width="35" height="43" fill="#d8e7ef"/><rect x="1400" y="1803" width="35" height="43" fill="#a5cde2"/><rect x="1400" y="1845" width="35" height="43" fill="#8fb9d5"/><rect x="1400" y="1887" width="35" height="43" fill="#599ac7"/><rect x="1400" y="1928" width="35" height="43" fill="#d6e6ef"/><rect x="1400" y="1970" width="35" height="43" fill="#eef2f5"/><rect x="1400" y="2012" width="35" height="43" fill="#eef2f4"/><rect x="1400" y="2053" width="35" height="43" fill="#f0f3f5"/><rect x="1400" y="2095" width="35" height="43" fill="#f4f5f6"/><rect x="1400" y="2137" width="35" height="43" fill="#f8f1ec"/><rect x="1400" y="2178" width="35" height="43" fill="#f1f3f5"/><rect x="1446" y="636" width="35" height="43" fill="#f0eeee"/><rect x="1446" y="678" width="35" height="43" fill="#f0f3f5"/><rect x="1446" y="719" width="35" height="43" fill="#f1f3f3"/><rect x="1446" y="761" width="35" height="43" fill="#f7f2ef"/><rect x="1446" y="803" width="35" height="43" fill="#f9ece4"/><rect x="1446" y="844" width="35" height="43" fill="#f8ede6"/><rect x="1446" y="886" width="35" height="43" fill="#f4f4f4"/><rect x="1446" y="928" width="35" height="43" fill="#f5f4f3"/><rect x="1446" y="969" width="35" height="43" fill="#f8efea"/><rect x="1446" y="1011" width="35" height="43" fill="#f4f2f1"/><rect x="1446" y="1053" width="35" height="43" fill="#f6ede7"/><rect x="1446" y="1095" width="35" height="43" fill="#f1f1f1"/><rect x="1446" y="1136" width="35" height="43" fill="#e7ecf0"/><rect x="1446" y="1178" width="35" height="43" fill="#f0efef"/><rect x="1446" y="1220" width="35" height="43" fill="#f6f5f4"/><rect x="1446" y="1261" width="35" height="43" fill="#f1eae6"/><rect x="1446" y="1303" width="35" height="43" fill="#f1e9e8"/><rect x="1446" y="1345" width="35" height="43" fill="#f4f3f2"/><rect x="1446" y="1386" width="35" height="43" fill="#f7f2ef"/><rect x="1446" y="1428" width="35" height="43" fill="#f4f3f2"/><rect x="1446" y="1470" width="35" height="43" fill="#f4ecea"/><rect x="1446" y="1511" width="35" height="43" fill="#eff3f5"/><rect x="1446" y="1553" width="35" height="43" fill="#eef2f4"/><rect x="1446" y="1595" width="35" height="43" fill="#f6f0ed"/><rect x="1446" y="1636" width="35" height="43" fill="#e0ebf1"/><rect x="1446" y="1678" width="35" height="43" fill="#e9f0f3"/><rect x="1446" y="1720" width="35" height="43" fill="#f1eae9"/><rect x="1446" y="1761" width="35" height="43" fill="#f4f1ef"/><rect x="1446" y="1803" width="35" height="43" fill="#f3f3f3"/><rect x="1446" y="1845" width="35" height="43" fill="#f6f2f0"/><rect x="1446" y="1887" width="35" height="43" fill="#f5f3f2"/><rect x="1446" y="1928" width="35" height="43" fill="#d8e6ed"/><rect x="1446" y="1970" width="35" height="43" fill="#a6cbe0"/><rect x="1446" y="2012" width="35" height="43" fill="#dce4e8"/><rect x="1446" y="2053" width="35" height="43" fill="#f5f4f4"/><rect x="1446" y="2095" width="35" height="43" fill="#f6f3f1"/><rect x="1446" y="2137" width="35" height="43" fill="#f6f4f3"/><rect x="1446" y="2178" width="35" height="43" fill="#f3f3f3"/></svg>
<canvas id="hm" width="256" height="114"></canvas>
<svg width="1711" height="2693" viewBox="0 0 1711 2693">
<text x="8.5" y="26" font-size="32.8" font-weight="bold">A</text>
<polygon points="0.5,35 573,35 607.7,216.5 573,398 0.5,398" fill="#d9d9d9"/>
<polygon points="596,35 1259,35 1293,216.5 1259,398 596,398 628.7,216.5" fill="#d9d9d9"/>
<polygon points="1280.5,35 1711,35 1711,398 1280.5,398 1313.3,216.5" fill="#d9d9d9"/>
<text x="3.8" y="65.0" font-size="24.2" text-anchor="start" >perturbation of</text>
<text x="248.2" y="65.0" font-size="24.2" text-anchor="middle" >target 1</text>
<text x="324.4" y="65.0" font-size="24.2" text-anchor="start" >changes expression of:</text>
<rect x="177.50" y="93.00" width="47.17" height="46.52" fill="#3670b2" stroke="#111" stroke-width="2.2"/>
<rect x="224.67" y="93.00" width="47.17" height="46.52" fill="#1f3f7b" stroke="#111" stroke-width="2.2"/>
<rect x="271.83" y="93.00" width="47.17" height="46.52" fill="#27529a" stroke="#111" stroke-width="2.2"/>
<rect x="177.50" y="139.52" width="47.17" height="46.52" fill="#21427f" stroke="#111" stroke-width="2.2"/>
<rect x="224.67" y="139.52" width="47.17" height="46.52" fill="#2b5aa1" stroke="#111" stroke-width="2.2"/>
<rect x="271.83" y="139.52" width="47.17" height="46.52" fill="#76add3" stroke="#111" stroke-width="2.2"/>
<rect x="177.50" y="186.04" width="47.17" height="46.52" fill="#fbc4a8" stroke="#111" stroke-width="2.2"/>
<rect x="224.67" y="186.04" width="47.17" height="46.52" fill="#f1946f" stroke="#111" stroke-width="2.2"/>
<rect x="271.83" y="186.04" width="47.17" height="46.52" fill="#ee8866" stroke="#111" stroke-width="2.2"/>
<rect x="177.50" y="232.56" width="47.17" height="46.52" fill="#dfebf6" stroke="#111" stroke-width="2.2"/>
<rect x="224.67" y="232.56" width="47.17" height="46.52" fill="#f0f5fa" stroke="#111" stroke-width="2.2"/>
<rect x="271.83" y="232.56" width="47.17" height="46.52" fill="#dfebf6" stroke="#111" stroke-width="2.2"/>
<rect x="177.50" y="279.08" width="47.17" height="46.52" fill="#fdf1ea" stroke="#111" stroke-width="2.2"/>
<rect x="224.67" y="279.08" width="47.17" height="46.52" fill="#fde7dd" stroke="#111" stroke-width="2.2"/>
<rect x="271.83" y="279.08" width="47.17" height="46.52" fill="#eef3f8" stroke="#111" stroke-width="2.2"/>
<path d="M177.5,86.0 V76.5 H319.0 V86.0" fill="none" stroke="#1a1a1a" stroke-width="2.4"/>
<polygon points="178.0,389.0 318.8,372.6 318.8,389.0" fill="#111"/>
<text x="326.0" y="123.3" font-size="24" text-anchor="start" >viral gene 1</text>
<text x="326.0" y="169.4" font-size="24" text-anchor="start" >viral gene 2</text>
<text x="326.0" y="215.5" font-size="24" text-anchor="start" >viral gene 3</text>
<text x="326.0" y="262.5" font-size="24" text-anchor="start" >...</text>
<text x="326.0" y="308.0" font-size="24" text-anchor="start" >viral gene n</text>
<text x="28.0" y="368.6" font-size="24" text-anchor="start" >in cells with</text>
<text x="322.5" y="368.6" font-size="24" text-anchor="start" >% viral load</text>
<text font-size="23.5" transform="translate(186,377) rotate(-45)">0-10</text>
<text font-size="23.5" transform="translate(224,380) rotate(-45)">10-20</text>
<text font-size="23.5" transform="translate(281,354) rotate(-45)">...</text>
<defs><linearGradient id="cb" x1="0" y1="0" x2="0" y2="1"><stop offset="0" stop-color="#67001f"/><stop offset="0.1" stop-color="#b2182b"/><stop offset="0.2" stop-color="#d6604d"/><stop offset="0.3" stop-color="#f4a582"/><stop offset="0.4" stop-color="#fddbc7"/><stop offset="0.5" stop-color="#f7f7f7"/><stop offset="0.6" stop-color="#d1e5f0"/><stop offset="0.7" stop-color="#92c5de"/><stop offset="0.8" stop-color="#4393c3"/><stop offset="0.9" stop-color="#2166ac"/><stop offset="1" stop-color="#053061"/></linearGradient><linearGradient id="cbh" x1="0" y1="0" x2="1" y2="0"><stop offset="0" stop-color="#053061"/><stop offset="0.1" stop-color="#2166ac"/><stop offset="0.2" stop-color="#4393c3"/><stop offset="0.3" stop-color="#92c5de"/><stop offset="0.4" stop-color="#d1e5f0"/><stop offset="0.5" stop-color="#f7f7f7"/><stop offset="0.6" stop-color="#fddbc7"/><stop offset="0.7" stop-color="#f4a582"/><stop offset="0.8" stop-color="#d6604d"/><stop offset="0.9" stop-color="#b2182b"/><stop offset="1" stop-color="#67001f"/></linearGradient><marker id="ah" viewBox="0 0 10 10" refX="9" refY="5" markerWidth="9" markerHeight="9" orient="auto-start-reverse" markerUnits="userSpaceOnUse"><path d="M0,1 L10,5 L0,9 L3,5 z" fill="#111"/></marker></defs>
<rect x="490.5" y="144.5" width="20.8" height="87.2" fill="url(#cb)" stroke="#222" stroke-width="1.2"/>
<text x="513.5" y="163.5" font-size="24" text-anchor="start" >up</text>
<text x="512.6" y="221.8" font-size="24" text-anchor="start" >down</text>
<text x="614.0" y="64.8" font-size="24.25" text-anchor="start" >combined differential expression matrix for all targets:</text>
<rect x="668.00" y="129.00" width="47.07" height="46.32" fill="#3670b2" stroke="#111" stroke-width="2.2"/>
<rect x="715.07" y="129.00" width="47.07" height="46.32" fill="#1f3f7b" stroke="#111" stroke-width="2.2"/>
<rect x="762.13" y="129.00" width="47.07" height="46.32" fill="#27529a" stroke="#111" stroke-width="2.2"/>
<rect x="668.00" y="175.32" width="47.07" height="46.32" fill="#21427f" stroke="#111" stroke-width="2.2"/>
<rect x="715.07" y="175.32" width="47.07" height="46.32" fill="#2b5aa1" stroke="#111" stroke-width="2.2"/>
<rect x="762.13" y="175.32" width="47.07" height="46.32" fill="#76add3" stroke="#111" stroke-width="2.2"/>
<rect x="668.00" y="221.64" width="47.07" height="46.32" fill="#fbc4a8" stroke="#111" stroke-width="2.2"/>
<rect x="715.07" y="221.64" width="47.07" height="46.32" fill="#f1946f" stroke="#111" stroke-width="2.2"/>
<rect x="762.13" y="221.64" width="47.07" height="46.32" fill="#ee8866" stroke="#111" stroke-width="2.2"/>
<rect x="668.00" y="267.96" width="47.07" height="46.32" fill="#dfebf6" stroke="#111" stroke-width="2.2"/>
<rect x="715.07" y="267.96" width="47.07" height="46.32" fill="#f0f5fa" stroke="#111" stroke-width="2.2"/>
<rect x="762.13" y="267.96" width="47.07" height="46.32" fill="#dfebf6" stroke="#111" stroke-width="2.2"/>
<rect x="668.00" y="314.28" width="47.07" height="46.32" fill="#fdf1ea" stroke="#111" stroke-width="2.2"/>
<rect x="715.07" y="314.28" width="47.07" height="46.32" fill="#fde7dd" stroke="#111" stroke-width="2.2"/>
<rect x="762.13" y="314.28" width="47.07" height="46.32" fill="#eef3f8" stroke="#111" stroke-width="2.2"/>
<path d="M668.0,121.0 V112.3 H809.2 V121.0" fill="none" stroke="#1a1a1a" stroke-width="2.4"/>
<polygon points="668.8,388.9 809.2,372.5 809.2,388.9" fill="#111"/>
<text x="738.6" y="99.3" font-size="24" text-anchor="middle" >target 1</text>
<rect x="816.50" y="129.00" width="47.03" height="46.32" fill="#deebf7" stroke="#111" stroke-width="2.2"/>
<rect x="863.53" y="129.00" width="47.03" height="46.32" fill="#74acd1" stroke="#111" stroke-width="2.2"/>
<rect x="910.57" y="129.00" width="47.03" height="46.32" fill="#74acd1" stroke="#111" stroke-width="2.2"/>
<rect x="816.50" y="175.32" width="47.03" height="46.32" fill="#21427f" stroke="#111" stroke-width="2.2"/>
<rect x="863.53" y="175.32" width="47.03" height="46.32" fill="#26509a" stroke="#111" stroke-width="2.2"/>
<rect x="910.57" y="175.32" width="47.03" height="46.32" fill="#3470b3" stroke="#111" stroke-width="2.2"/>
<rect x="816.50" y="221.64" width="47.03" height="46.32" fill="#fdeee6" stroke="#111" stroke-width="2.2"/>
<rect x="863.53" y="221.64" width="47.03" height="46.32" fill="#fdeee6" stroke="#111" stroke-width="2.2"/>
<rect x="910.57" y="221.64" width="47.03" height="46.32" fill="#fdd0b8" stroke="#111" stroke-width="2.2"/>
<rect x="816.50" y="267.96" width="47.03" height="46.32" fill="#fde6da" stroke="#111" stroke-width="2.2"/>
<rect x="863.53" y="267.96" width="47.03" height="46.32" fill="#deebf6" stroke="#111" stroke-width="2.2"/>
<rect x="910.57" y="267.96" width="47.03" height="46.32" fill="#f0f5fa" stroke="#111" stroke-width="2.2"/>
<rect x="816.50" y="314.28" width="47.03" height="46.32" fill="#eef4f9" stroke="#111" stroke-width="2.2"/>
<rect x="863.53" y="314.28" width="47.03" height="46.32" fill="#fde8dc" stroke="#111" stroke-width="2.2"/>
<rect x="910.57" y="314.28" width="47.03" height="46.32" fill="#deebf6" stroke="#111" stroke-width="2.2"/>
<path d="M816.5,121.0 V112.3 H957.6 V121.0" fill="none" stroke="#1a1a1a" stroke-width="2.4"/>
<polygon points="817.3,388.9 957.6,372.5 957.6,388.9" fill="#111"/>
<text x="887.0" y="99.3" font-size="24" text-anchor="middle" >target 2</text>
<rect x="964.20" y="129.00" width="47.13" height="46.32" fill="#deebf6" stroke="#111" stroke-width="2.2"/>
<rect x="1011.33" y="129.00" width="47.13" height="46.32" fill="#eef4f9" stroke="#111" stroke-width="2.2"/>
<rect x="1058.47" y="129.00" width="47.13" height="46.32" fill="#eef4f9" stroke="#111" stroke-width="2.2"/>
<rect x="964.20" y="175.32" width="47.13" height="46.32" fill="#eef4f9" stroke="#111" stroke-width="2.2"/>
<rect x="1011.33" y="175.32" width="47.13" height="46.32" fill="#fdeee6" stroke="#111" stroke-width="2.2"/>
<rect x="1058.47" y="175.32" width="47.13" height="46.32" fill="#fdeee6" stroke="#111" stroke-width="2.2"/>
<rect x="964.20" y="221.64" width="47.13" height="46.32" fill="#27529a" stroke="#111" stroke-width="2.2"/>
<rect x="1011.33" y="221.64" width="47.13" height="46.32" fill="#2a579c" stroke="#111" stroke-width="2.2"/>
<rect x="1058.47" y="221.64" width="47.13" height="46.32" fill="#21427f" stroke="#111" stroke-width="2.2"/>
<rect x="964.20" y="267.96" width="47.13" height="46.32" fill="#eef4f9" stroke="#111" stroke-width="2.2"/>
<rect x="1011.33" y="267.96" width="47.13" height="46.32" fill="#fdeee6" stroke="#111" stroke-width="2.2"/>
<rect x="1058.47" y="267.96" width="47.13" height="46.32" fill="#deebf6" stroke="#111" stroke-width="2.2"/>
<rect x="964.20" y="314.28" width="47.13" height="46.32" fill="#f29573" stroke="#111" stroke-width="2.2"/>
<rect x="1011.33" y="314.28" width="47.13" height="46.32" fill="#fbbb9d" stroke="#111" stroke-width="2.2"/>
<rect x="1058.47" y="314.28" width="47.13" height="46.32" fill="#ee8a68" stroke="#111" stroke-width="2.2"/>
<path d="M964.2,121.0 V112.3 H1105.6 V121.0" fill="none" stroke="#1a1a1a" stroke-width="2.4"/>
<polygon points="965.0,388.9 1105.6,372.5 1105.6,388.9" fill="#111"/>
<text x="1034.9" y="99.3" font-size="24" text-anchor="middle" >target 3</text>
<text x="1116.0" y="160.5" font-size="24" text-anchor="start" >viral gene 1</text>
<text x="1116.0" y="206.8" font-size="24" text-anchor="start" >viral gene 2</text>
<text x="1116.0" y="253.1" font-size="24" text-anchor="start" >viral gene 3</text>
<text x="1116.0" y="299.4" font-size="24" text-anchor="start" >...</text>
<text x="1116.0" y="345.7" font-size="24" text-anchor="start" >viral gene n</text>
<text x="1304.8" y="64.6" font-size="24.3" text-anchor="start" >dimensionality reduction of combined</text>
<text x="1304.8" y="93.8" font-size="24.3" text-anchor="start" >targets × (expression, bins) matrix:</text>
<circle cx="1495" cy="203.8" r="16" fill="#111"/>
<circle cx="1549.8" cy="187.2" r="16" fill="#111"/>
<circle cx="1579" cy="320.4" r="16" fill="#111"/>
<text x="1391.6" y="212.0" font-size="24" text-anchor="start" >target 1</text>
<text x="1577.0" y="194.7" font-size="24" text-anchor="start" >target 2</text>
<text x="1601.0" y="330.0" font-size="24" text-anchor="start" >target 3</text>
<text x="1445.5" y="152.6" font-size="17.3" text-anchor="start" font-style="italic" >more similar</text>
<text x="1542.5" y="262.0" font-size="17.3" text-anchor="start" font-style="italic" >less similar</text>
<path d="M1488,178 Q1508,157 1535,161.6" fill="none" stroke="#111" stroke-width="2" marker-start="url(#ah)" marker-end="url(#ah)"/>
<path d="M1523.6,223.4 Q1530,272 1558,301.7" fill="none" stroke="#111" stroke-width="2" marker-start="url(#ah)" marker-end="url(#ah)"/>
<path d="M1372,247 V361.4 H1487" fill="none" stroke="#111" stroke-width="2.2"/>
<path d="M1367.5,250 L1372,242.5 L1376.5,250 Z M1482,357 L1490,361.4 L1482,365.8 Z" fill="#111"/>
<text x="1408.0" y="351.4" font-size="23.3" text-anchor="start" >UMAP 1</text>
<text font-size="23.3" transform="translate(1367.5,345) rotate(-90)">UMAP 2</text>
<text x="9.5" y="460.6" font-size="32.8" font-weight="bold">B</text>
<text font-size="23.5" transform="translate(38.7,549.4) rotate(-90)">UL35</text>
<circle cx="29.4" cy="577" r="8" fill="#ef8c2a"/>
<text font-size="23.5" transform="translate(84.8,549.4) rotate(-90)">UL36</text>
<circle cx="75.5" cy="577" r="8" fill="#ee8012"/>
<text font-size="23.5" transform="translate(130.8,549.4) rotate(-90)">UL37</text>
<circle cx="121.5" cy="577" r="8" fill="#e0700f"/>
<text font-size="23.5" transform="translate(176.9,549.4) rotate(-90)">UL38</text>
<circle cx="167.6" cy="577" r="8" fill="#d8651a"/>
<text font-size="23.5" transform="translate(222.9,549.4) rotate(-90)">UL40</text>
<circle cx="213.6" cy="577" r="8" fill="#c25a20"/>
<text font-size="23.5" transform="translate(269.0,549.4) rotate(-90)">UL42</text>
<circle cx="259.7" cy="577" r="8" fill="#a7521e"/>
<text font-size="23.5" transform="translate(315.1,549.4) rotate(-90)">UL43</text>
<circle cx="305.8" cy="577" r="8" fill="#8b4513"/>
<text font-size="23.5" transform="translate(361.1,549.4) rotate(-90)">UL52</text>
<circle cx="351.8" cy="577" r="8" fill="#a6dd7b"/>
<text font-size="23.5" transform="translate(407.2,549.4) rotate(-90)">UL53</text>
<circle cx="397.9" cy="577" r="8" fill="#93d66a"/>
<text font-size="23.5" transform="translate(453.2,549.4) rotate(-90)">UL54</text>
<circle cx="443.9" cy="577" r="8" fill="#85cc5e"/>
<text font-size="23.5" transform="translate(499.3,549.4) rotate(-90)">UL55</text>
<circle cx="490.0" cy="577" r="8" fill="#6bbf59"/>
<text font-size="23.5" transform="translate(545.4,549.4) rotate(-90)">UL56</text>
<circle cx="536.1" cy="577" r="8" fill="#5cb156"/>
<text font-size="23.5" transform="translate(591.4,549.4) rotate(-90)">UL57</text>
<circle cx="582.1" cy="577" r="8" fill="#4ea64f"/>
<text font-size="23.5" transform="translate(637.5,549.4) rotate(-90)">ORFL150C</text>
<circle cx="628.2" cy="577" r="8" fill="#3d9a47"/>
<text font-size="23.5" transform="translate(683.5,549.4) rotate(-90)">UL59</text>
<circle cx="674.2" cy="577" r="8" fill="#379043"/>
<text font-size="23.5" transform="translate(729.6,549.4) rotate(-90)">ORFL152C</text>
<circle cx="720.3" cy="577" r="8" fill="#317f42"/>
<text font-size="23.5" transform="translate(775.7,549.4) rotate(-90)">UL69</text>
<circle cx="766.4" cy="577" r="8" fill="#5e4680"/>
<text font-size="23.5" transform="translate(821.7,549.4) rotate(-90)">UL70</text>
<circle cx="812.4" cy="577" r="8" fill="#2e7a3e"/>
<text font-size="23.5" transform="translate(867.8,549.4) rotate(-90)">UL102</text>
<circle cx="858.5" cy="577" r="8" fill="#2c6636"/>
<text font-size="23.5" transform="translate(913.8,549.4) rotate(-90)">UL105</text>
<circle cx="904.5" cy="577" r="8" fill="#2f4f34"/>
<text font-size="23.5" transform="translate(959.9,549.4) rotate(-90)">UL112</text>
<circle cx="950.6" cy="577" r="8" fill="#b3a2dd"/>
<text font-size="23.5" transform="translate(1006.0,549.4) rotate(-90)">UL115</text>
<circle cx="996.7" cy="577" r="8" fill="#e45aa5"/>
<text font-size="23.5" transform="translate(1052.0,549.4) rotate(-90)">ORFL257C</text>
<circle cx="1042.7" cy="577" r="8" fill="#e04ca0"/>
<text font-size="23.5" transform="translate(1098.1,549.4) rotate(-90)">UL119</text>
<circle cx="1088.8" cy="577" r="8" fill="#db3ba0"/>
<text font-size="23.5" transform="translate(1144.1,549.4) rotate(-90)">UL121</text>
<circle cx="1134.8" cy="577" r="8" fill="#d42d9d"/>
<text font-size="23.5" transform="translate(1190.2,549.4) rotate(-90)">UL122</text>
<circle cx="1180.9" cy="577" r="8" fill="#c72690"/>
<text font-size="23.5" transform="translate(1236.3,549.4) rotate(-90)">UL123</text>
<circle cx="1227.0" cy="577" r="8" fill="#b8228a"/>
<text font-size="23.5" transform="translate(1282.3,549.4) rotate(-90)">UL148</text>
<circle cx="1273.0" cy="577" r="8" fill="#a4247f"/>
<text font-size="23.5" transform="translate(1328.4,549.4) rotate(-90)">UL144</text>
<circle cx="1319.1" cy="577" r="8" fill="#912570"/>
<text font-size="23.5" transform="translate(1374.4,549.4) rotate(-90)">UL141</text>
<circle cx="1365.1" cy="577" r="8" fill="#7e2563"/>
<text font-size="23.5" transform="translate(1420.5,549.4) rotate(-90)">UL135</text>
<circle cx="1411.2" cy="577" r="8" fill="#6a2351"/>
<text font-size="23.5" transform="translate(1466.6,549.4) rotate(-90)">control</text>
<circle cx="1457.3" cy="577" r="8" fill="#8d8d8d"/>
<line x1="8" y1="600.3" x2="1480.5" y2="600.3" stroke="#b0b0b0" stroke-width="1"/>
<line x1="8" y1="629.4" x2="1482" y2="629.4" stroke="#b0b0b0" stroke-width="1"/>
<path d="M12.7,610.4h4.8v19.0h-4.8zM18.5,616.4h4.8v13.0h-4.8zM24.2,623.5h4.8v5.9h-4.8zM30.0,624.2h4.8v5.2h-4.8zM35.7,624.2h4.8v5.2h-4.8zM41.5,622.2h4.8v7.2h-4.8zM47.2,627.1h4.8v2.3h-4.8zM53.0,629.1h4.8v0.3h-4.8zM58.8,611.1h4.8v18.3h-4.8zM64.5,618.3h4.8v11.1h-4.8zM70.3,624.2h4.8v5.2h-4.8zM76.0,625.8h4.8v3.6h-4.8zM81.8,625.8h4.8v3.6h-4.8zM87.5,626.5h4.8v2.9h-4.8zM93.3,628.1h4.8v1.3h-4.8zM99.1,629.1h4.8v0.3h-4.8zM104.8,614.7h4.8v14.7h-4.8zM110.6,618.9h4.8v10.5h-4.8zM116.3,625.2h4.8v4.2h-4.8zM122.1,626.8h4.8v2.6h-4.8zM127.9,626.8h4.8v2.6h-4.8zM133.6,627.8h4.8v1.6h-4.8zM139.4,627.8h4.8v1.6h-4.8zM145.1,629.1h4.8v0.3h-4.8zM150.9,616.0h4.8v13.4h-4.8zM156.6,620.6h4.8v8.8h-4.8zM162.4,626.8h4.8v2.6h-4.8zM168.2,628.8h4.8v0.6h-4.8zM173.9,628.8h4.8v0.6h-4.8zM179.7,628.8h4.8v0.6h-4.8zM185.4,628.8h4.8v0.6h-4.8zM196.9,607.2h4.8v22.2h-4.8zM202.7,617.3h4.8v12.1h-4.8zM208.5,622.2h4.8v7.2h-4.8zM214.2,625.8h4.8v3.6h-4.8zM220.0,627.1h4.8v2.3h-4.8zM225.7,627.4h4.8v2.0h-4.8zM231.5,628.4h4.8v1.0h-4.8zM237.2,629.1h4.8v0.3h-4.8zM243.0,612.4h4.8v17.0h-4.8zM248.8,618.3h4.8v11.1h-4.8zM254.5,623.5h4.8v5.9h-4.8zM260.3,626.8h4.8v2.6h-4.8zM266.0,627.4h4.8v2.0h-4.8zM271.8,628.4h4.8v1.0h-4.8zM277.5,628.8h4.8v0.6h-4.8zM289.1,610.4h4.8v19.0h-4.8zM294.8,615.7h4.8v13.7h-4.8zM300.6,623.2h4.8v6.2h-4.8zM306.3,625.5h4.8v3.9h-4.8zM312.1,626.5h4.8v2.9h-4.8zM317.8,628.1h4.8v1.3h-4.8zM323.6,629.1h4.8v0.3h-4.8zM335.1,604.6h4.8v24.8h-4.8zM340.9,611.8h4.8v17.6h-4.8zM346.6,622.2h4.8v7.2h-4.8zM352.4,624.2h4.8v5.2h-4.8zM358.1,626.8h4.8v2.6h-4.8zM363.9,628.8h4.8v0.6h-4.8zM369.7,629.1h4.8v0.3h-4.8zM381.2,603.4h4.8v26.0h-4.8zM386.9,612.4h4.8v17.0h-4.8zM392.7,623.2h4.8v6.2h-4.8zM398.5,624.5h4.8v4.9h-4.8zM404.2,625.2h4.8v4.2h-4.8zM410.0,627.4h4.8v2.0h-4.8zM415.7,628.4h4.8v1.0h-4.8zM427.2,610.1h4.8v19.3h-4.8zM433.0,613.7h4.8v15.7h-4.8zM438.8,624.5h4.8v4.9h-4.8zM444.5,626.1h4.8v3.3h-4.8zM450.3,627.8h4.8v1.6h-4.8zM456.0,629.1h4.8v0.3h-4.8zM461.8,629.1h4.8v0.3h-4.8zM473.3,609.1h4.8v20.3h-4.8zM479.1,614.4h4.8v15.0h-4.8zM484.8,623.8h4.8v5.6h-4.8zM490.6,623.8h4.8v5.6h-4.8zM496.3,628.4h4.8v1.0h-4.8zM502.1,628.8h4.8v0.6h-4.8zM507.8,629.1h4.8v0.3h-4.8zM519.4,606.9h4.8v22.5h-4.8zM525.1,615.0h4.8v14.4h-4.8zM530.9,622.2h4.8v7.2h-4.8zM536.6,624.2h4.8v5.2h-4.8zM542.4,627.1h4.8v2.3h-4.8zM548.1,628.4h4.8v1.0h-4.8zM553.9,629.1h4.8v0.3h-4.8zM565.4,596.4h4.8v33.0h-4.8zM571.2,610.4h4.8v19.0h-4.8zM576.9,619.6h4.8v9.8h-4.8zM582.7,623.5h4.8v5.9h-4.8zM588.5,626.1h4.8v3.3h-4.8zM594.2,628.4h4.8v1.0h-4.8zM600.0,629.1h4.8v0.3h-4.8zM611.5,607.8h4.8v21.6h-4.8zM617.2,612.4h4.8v17.0h-4.8zM623.0,620.2h4.8v9.2h-4.8zM628.8,625.5h4.8v3.9h-4.8zM634.5,627.1h4.8v2.3h-4.8zM640.3,628.4h4.8v1.0h-4.8zM646.0,629.1h4.8v0.3h-4.8zM657.5,600.0h4.8v29.4h-4.8zM663.3,608.5h4.8v20.9h-4.8zM669.1,619.6h4.8v9.8h-4.8zM674.8,624.8h4.8v4.6h-4.8zM680.6,628.1h4.8v1.3h-4.8zM686.3,628.4h4.8v1.0h-4.8zM692.1,629.1h4.8v0.3h-4.8zM703.6,606.5h4.8v22.9h-4.8zM709.4,611.8h4.8v17.6h-4.8zM715.1,619.3h4.8v10.1h-4.8zM720.9,626.8h4.8v2.6h-4.8zM726.6,626.8h4.8v2.6h-4.8zM732.4,628.8h4.8v0.6h-4.8zM738.1,629.1h4.8v0.3h-4.8zM749.7,597.4h4.8v32.0h-4.8zM755.4,618.9h4.8v10.5h-4.8zM761.2,624.2h4.8v5.2h-4.8zM766.9,623.5h4.8v5.9h-4.8zM772.7,623.5h4.8v5.9h-4.8zM778.4,625.5h4.8v3.9h-4.8zM784.2,624.8h4.8v4.6h-4.8zM790.0,629.1h4.8v0.3h-4.8zM795.7,606.5h4.8v22.9h-4.8zM801.5,609.1h4.8v20.3h-4.8zM807.2,624.5h4.8v4.9h-4.8zM813.0,625.5h4.8v3.9h-4.8zM818.8,627.1h4.8v2.3h-4.8zM824.5,627.4h4.8v2.0h-4.8zM830.3,627.1h4.8v2.3h-4.8zM836.0,629.1h4.8v0.3h-4.8zM841.8,602.6h4.8v26.8h-4.8zM847.5,614.4h4.8v15.0h-4.8zM853.3,620.9h4.8v8.5h-4.8zM859.1,624.2h4.8v5.2h-4.8zM864.8,626.5h4.8v2.9h-4.8zM870.6,628.4h4.8v1.0h-4.8zM876.3,628.9h4.8v0.5h-4.8zM887.8,611.1h4.8v18.3h-4.8zM893.6,618.3h4.8v11.1h-4.8zM899.4,623.8h4.8v5.6h-4.8zM905.1,626.1h4.8v3.3h-4.8zM910.9,626.8h4.8v2.6h-4.8zM916.6,627.4h4.8v2.0h-4.8zM922.4,628.9h4.8v0.5h-4.8zM933.9,616.3h4.8v13.1h-4.8zM939.7,619.6h4.8v9.8h-4.8zM945.4,625.8h4.8v3.6h-4.8zM951.2,626.1h4.8v3.3h-4.8zM956.9,627.1h4.8v2.3h-4.8zM962.7,627.4h4.8v2.0h-4.8zM968.4,628.1h4.8v1.3h-4.8zM980.0,617.0h4.8v12.4h-4.8zM985.7,622.0h4.8v7.4h-4.8zM991.5,626.2h4.8v3.2h-4.8zM997.2,626.2h4.8v3.2h-4.8zM1003.0,626.9h4.8v2.5h-4.8zM1008.7,625.2h4.8v4.2h-4.8zM1014.5,628.7h4.8v0.7h-4.8zM1026.0,613.5h4.8v15.9h-4.8zM1031.8,620.9h4.8v8.5h-4.8zM1037.5,624.8h4.8v4.6h-4.8zM1043.3,624.1h4.8v5.3h-4.8zM1049.0,624.1h4.8v5.3h-4.8zM1054.8,626.2h4.8v3.2h-4.8zM1060.6,629.0h4.8v0.4h-4.8zM1072.1,616.4h4.8v13.0h-4.8zM1077.8,623.0h4.8v6.4h-4.8zM1083.6,624.5h4.8v4.9h-4.8zM1089.4,624.8h4.8v4.6h-4.8zM1095.1,625.5h4.8v3.9h-4.8zM1100.9,626.2h4.8v3.2h-4.8zM1106.6,628.4h4.8v1.0h-4.8zM1118.1,612.1h4.8v17.3h-4.8zM1123.9,620.6h4.8v8.8h-4.8zM1129.7,624.8h4.8v4.6h-4.8zM1135.4,622.0h4.8v7.4h-4.8zM1141.2,622.0h4.8v7.4h-4.8zM1146.9,625.5h4.8v3.9h-4.8zM1152.7,626.9h4.8v2.5h-4.8zM1164.2,615.6h4.8v13.8h-4.8zM1170.0,619.9h4.8v9.5h-4.8zM1175.7,623.0h4.8v6.4h-4.8zM1181.5,623.0h4.8v6.4h-4.8zM1187.2,621.3h4.8v8.1h-4.8zM1193.0,627.6h4.8v1.8h-4.8zM1198.7,628.4h4.8v1.0h-4.8zM1210.3,619.2h4.8v10.2h-4.8zM1216.0,623.0h4.8v6.4h-4.8zM1221.8,626.6h4.8v2.8h-4.8zM1227.5,623.0h4.8v6.4h-4.8zM1233.3,623.0h4.8v6.4h-4.8zM1239.0,627.3h4.8v2.1h-4.8zM1244.8,629.0h4.8v0.4h-4.8zM1256.3,619.9h4.8v9.5h-4.8zM1262.1,623.0h4.8v6.4h-4.8zM1267.8,625.5h4.8v3.9h-4.8zM1273.6,624.5h4.8v4.9h-4.8zM1279.4,623.8h4.8v5.6h-4.8zM1285.1,626.9h4.8v2.5h-4.8zM1290.9,628.9h4.8v0.5h-4.8zM1302.4,614.2h4.8v15.2h-4.8zM1308.1,622.7h4.8v6.7h-4.8zM1313.9,626.9h4.8v2.5h-4.8zM1319.7,625.5h4.8v3.9h-4.8zM1325.4,623.8h4.8v5.6h-4.8zM1331.2,624.5h4.8v4.9h-4.8zM1336.9,626.9h4.8v2.5h-4.8zM1348.4,612.8h4.8v16.6h-4.8zM1354.2,622.7h4.8v6.7h-4.8zM1360.0,625.5h4.8v3.9h-4.8zM1365.7,625.5h4.8v3.9h-4.8zM1371.5,624.5h4.8v4.9h-4.8zM1377.2,626.2h4.8v3.2h-4.8zM1383.0,628.9h4.8v0.5h-4.8zM1394.5,614.2h4.8v15.2h-4.8zM1400.3,621.3h4.8v8.1h-4.8zM1406.0,626.2h4.8v3.2h-4.8zM1411.8,625.5h4.8v3.9h-4.8zM1417.5,624.8h4.8v4.6h-4.8zM1423.3,626.2h4.8v3.2h-4.8zM1429.0,628.9h4.8v0.5h-4.8zM1440.6,576.4h4.8v53.0h-4.8zM1446.3,604.4h4.8v25.0h-4.8zM1452.1,616.0h4.8v13.4h-4.8zM1457.8,614.1h4.8v15.3h-4.8zM1463.6,610.4h4.8v19.0h-4.8zM1469.3,609.4h4.8v20.0h-4.8zM1475.1,615.1h4.8v14.3h-4.8zM1480.9,629.1h4.8v0.3h-4.8z" fill="#151515"/>
<text x="1484.3" y="606.5" font-size="15" text-anchor="start" transform="translate(1484.3,0) scale(1.1,1) translate(-1484.3,0)" >200</text>
<text x="1524.2" y="606.5" font-size="15" text-anchor="start" transform="translate(1524.2,0) scale(1.15,1) translate(-1524.2,0)" >number of cells</text>
<text x="1524.2" y="621.0" font-size="15" text-anchor="start" transform="translate(1524.2,0) scale(1.15,1) translate(-1524.2,0)" >per viral load bin</text>
<g transform="translate(1502,0)">
<text x="0" y="649.20" font-size="17.4">ORFL1W (RL1)</text>
<text x="0" y="663.10" font-size="17.4">RNA2.7</text>
<text x="0" y="676.99" font-size="17.4">ORFL11C</text>
<text x="0" y="690.88" font-size="17.4">ORFL13C</text>
<text x="0" y="704.78" font-size="17.4">RNA1.2</text>
<text x="0" y="718.68" font-size="17.4">ORFL15C</text>
<text x="0" y="732.57" font-size="17.4">ORFL23W (RL12)</text>
<text x="0" y="746.47" font-size="17.4">ORFL24W (RL13)</text>
<text x="0" y="760.36" font-size="17.4">ORFL28C</text>
<text x="0" y="774.25" font-size="17.4">ORFL34W (UL4)</text>
<text x="0" y="788.15" font-size="17.4">ORFL35W (UL5)</text>
<text x="0" y="802.05" font-size="17.4">ORFL36W (UL6)</text>
<text x="0" y="815.94" font-size="17.4">ORFL43C</text>
<text x="0" y="829.84" font-size="17.4">ORFL46W</text>
<text x="0" y="843.73" font-size="17.4">ORFL47W (UL14)</text>
<text x="0" y="857.62" font-size="17.4">ORFL48W (UL15A)</text>
<text x="0" y="871.52" font-size="17.4">ORFL50W (UL17)</text>
<text x="0" y="885.42" font-size="17.4">ORFL53W (UL20)</text>
<text x="0" y="899.31" font-size="17.4">ORFL55C (UL21A)</text>
<text x="0" y="913.21" font-size="17.4">ORFL57W (UL22A)</text>
<text x="0" y="927.10" font-size="17.4">ORFL64C (UL23)</text>
<text x="0" y="941.00" font-size="17.4">ORFL70W (UL25)</text>
<text x="0" y="954.89" font-size="17.4">ORFL76C</text>
<text x="0" y="968.79" font-size="17.4">ORFL78C</text>
<text x="0" y="982.68" font-size="17.4">ORFL82W</text>
<text x="0" y="996.58" font-size="17.4">ORFL85C (UL30)</text>
<text x="0" y="1010.47" font-size="17.4">ORFL87W</text>
<text x="0" y="1024.37" font-size="17.4">ORFL88C (UL30A)</text>
<text x="0" y="1038.26" font-size="17.4">ORFL92C (UL32)</text>
<text x="0" y="1052.15" font-size="17.4">ORFL96W</text>
<text x="0" y="1066.05" font-size="17.4">ORFL98W (UL35)</text>
<text x="0" y="1079.95" font-size="17.4">ORFL101C</text>
<text x="0" y="1093.84" font-size="17.4">ORFL102C (UL38)</text>
<text x="0" y="1107.74" font-size="17.4">ORFL105C (UL40)</text>
<text x="0" y="1121.63" font-size="17.4">ORFL109C (UL42)</text>
<text x="0" y="1135.53" font-size="17.4">ORFL114W</text>
<text x="0" y="1149.42" font-size="17.4">ORFL117C (UL46)</text>
<text x="0" y="1163.32" font-size="17.4">ORFL120W (UL48)</text>
<text x="0" y="1177.21" font-size="17.4">ORFL123C</text>
<text x="0" y="1191.11" font-size="17.4">ORFL127C (UL48A)</text>
<text x="0" y="1205.00" font-size="17.4">ORFL137W (UL52)</text>
<text x="0" y="1218.89" font-size="17.4">ORFL142W</text>
<text x="0" y="1232.79" font-size="17.4">ORFL143C (UL54)</text>
<text x="0" y="1246.68" font-size="17.4">ORFL144C</text>
<text x="0" y="1260.58" font-size="17.4">ORFL145C (UL55)</text>
<text x="0" y="1274.47" font-size="17.4">ORFL151C</text>
<text x="0" y="1288.37" font-size="17.4">RNA4.9</text>
<text x="0" y="1302.26" font-size="17.4">ORFL159W</text>
<text x="0" y="1316.16" font-size="17.4">ORFL161C (UL69)</text>
<text x="0" y="1330.06" font-size="17.4">ORFL163W</text>
<text x="0" y="1343.95" font-size="17.4">ORFL171W</text>
<text x="0" y="1357.85" font-size="17.4">ORFL172W</text>
<text x="0" y="1371.74" font-size="17.4">ORFL174C (UL72)</text>
<text x="0" y="1385.63" font-size="17.4">ORFL175W (UL73)</text>
<text x="0" y="1399.53" font-size="17.4">ORFL178W (UL74A)</text>
<text x="0" y="1413.43" font-size="17.4">ORFL181C (UL74)</text>
<text x="0" y="1427.32" font-size="17.4">ORFL184C (UL75)</text>
<text x="0" y="1441.22" font-size="17.4">ORFL196W (UL78)</text>
<text x="0" y="1455.11" font-size="17.4">ORFL199W (UL80)</text>
<text x="0" y="1469.01" font-size="17.4">ORFL202C (UL82)</text>
<text x="0" y="1482.90" font-size="17.4">ORFL205C (UL83)</text>
<text x="0" y="1496.80" font-size="17.4">ORFL208C (UL84)</text>
<text x="0" y="1510.69" font-size="17.4">ORFL222W (UL94)</text>
<text x="0" y="1524.59" font-size="17.4">ORFL226W (UL96)</text>
<text x="0" y="1538.48" font-size="17.4">ORFL229W (UL98)</text>
<text x="0" y="1552.38" font-size="17.4">ORFL230W (UL99)</text>
<text x="0" y="1566.27" font-size="17.4">ORFL231W</text>
<text x="0" y="1580.16" font-size="17.4">ORFL232C (UL100)</text>
<text x="0" y="1594.06" font-size="17.4">ORFL234C</text>
<text x="0" y="1607.95" font-size="17.4">ORFL236C</text>
<text x="0" y="1621.85" font-size="17.4">ORFL237C</text>
<text x="0" y="1635.74" font-size="17.4">ORFL238W</text>
<text x="0" y="1649.64" font-size="17.4">ORFL241C (UL103)</text>
<text x="0" y="1663.53" font-size="17.4">RNA5.0</text>
<text x="0" y="1677.43" font-size="17.4">ORFL248W (UL111A)</text>
<text x="0" y="1691.33" font-size="17.4">ORFL253W (UL112)</text>
<text x="0" y="1705.22" font-size="17.4">ORFL254C (UL114)</text>
<text x="0" y="1719.12" font-size="17.4">ORFL255C (UL115)</text>
<text x="0" y="1733.01" font-size="17.4">ORFL264C (UL123)</text>
<text x="0" y="1746.90" font-size="17.4">ORFL265C (UL122)</text>
<text x="0" y="1760.80" font-size="17.4">ORFL266W (UL124)</text>
<text x="0" y="1774.69" font-size="17.4">ORFL271C (UL128 trunc.)</text>
<text x="0" y="1788.59" font-size="17.4">ORFL276C (UL132)</text>
<text x="0" y="1802.48" font-size="17.4">ORFL287C (UL145)</text>
<text x="0" y="1816.38" font-size="17.4">ORFL289C (UL144)</text>
<text x="0" y="1830.28" font-size="17.4">ORFL300C (UL141)</text>
<text x="0" y="1844.17" font-size="17.4">ORFL301C</text>
<text x="0" y="1858.07" font-size="17.4">ORFL302W</text>
<text x="0" y="1871.96" font-size="17.4">ORFL303W</text>
<text x="0" y="1885.86" font-size="17.4">ORFL307W</text>
<text x="0" y="1899.75" font-size="17.4">ORFL312C</text>
<text x="0" y="1913.64" font-size="17.4">ORFL313C (UL138)</text>
<text x="0" y="1927.54" font-size="17.4">ORFL321W</text>
<text x="0" y="1941.43" font-size="17.4">ORFS327C (US2)</text>
<text x="0" y="1955.33" font-size="17.4">ORFS328C</text>
<text x="0" y="1969.22" font-size="17.4">ORFS329C (US3)</text>
<text x="0" y="1983.12" font-size="17.4">ORFS331C (US6)</text>
<text x="0" y="1997.02" font-size="17.4">ORFS333C (US8)</text>
<text x="0" y="2010.91" font-size="17.4">ORFS337C (US10)</text>
<text x="0" y="2024.81" font-size="17.4">ORFS339C (US12)</text>
<text x="0" y="2038.70" font-size="17.4">ORFS344W</text>
<text x="0" y="2052.60" font-size="17.4">ORFS346C (US18)</text>
<text x="0" y="2066.49" font-size="17.4">ORFS349W</text>
<text x="0" y="2080.39" font-size="17.4">ORFS350W</text>
<text x="0" y="2094.28" font-size="17.4">ORFS352C (US22)</text>
<text x="0" y="2108.18" font-size="17.4">ORFS355C (US24)</text>
<text x="0" y="2122.07" font-size="17.4">ORFS356W</text>
<text x="0" y="2135.97" font-size="17.4">ORFS361C (US26)</text>
<text x="0" y="2149.86" font-size="17.4">ORFS367W (US30)</text>
<text x="0" y="2163.76" font-size="17.4">ORFS369W</text>
<text x="0" y="2177.65" font-size="17.4">ORFS371W (US34)</text>
<text x="0" y="2191.55" font-size="17.4">ORFS372W</text>
<text x="0" y="2205.44" font-size="17.4">ORFS373W</text>
<text x="0" y="2219.34" font-size="17.4">ORFS376W</text>
</g>
<rect x="10.4" y="1052.5" width="43.5" height="16.3" fill="none" stroke="#d0218f" stroke-width="3.4"/>
<rect x="148.6" y="1080.3" width="43.5" height="16.3" fill="none" stroke="#d0218f" stroke-width="3.4"/>
<rect x="194.6" y="1094.2" width="43.5" height="16.3" fill="none" stroke="#d0218f" stroke-width="3.4"/>
<rect x="240.7" y="1108.1" width="43.5" height="16.3" fill="none" stroke="#d0218f" stroke-width="3.4"/>
<rect x="332.8" y="1191.5" width="43.5" height="16.3" fill="none" stroke="#d0218f" stroke-width="3.4"/>
<rect x="424.9" y="1219.3" width="43.5" height="16.3" fill="none" stroke="#d0218f" stroke-width="3.4"/>
<rect x="471.0" y="1247.1" width="43.5" height="16.3" fill="none" stroke="#d0218f" stroke-width="3.4"/>
<rect x="747.4" y="1302.7" width="43.5" height="16.3" fill="none" stroke="#d0218f" stroke-width="3.4"/>
<rect x="931.6" y="1677.8" width="43.5" height="16.3" fill="none" stroke="#d0218f" stroke-width="3.4"/>
<rect x="1161.9" y="1733.4" width="43.5" height="16.3" fill="none" stroke="#d0218f" stroke-width="3.4"/>
<rect x="1208.0" y="1719.5" width="43.5" height="16.3" fill="none" stroke="#d0218f" stroke-width="3.4"/>
<rect x="1300.1" y="1802.9" width="43.5" height="16.3" fill="none" stroke="#d0218f" stroke-width="3.4"/>
<rect x="1346.1" y="1816.8" width="43.5" height="16.3" fill="none" stroke="#d0218f" stroke-width="3.4"/>
<rect x="1438.3" y="1941.1" width="43.5" height="91.7" fill="none" stroke="#d0218f" stroke-width="3.4"/>
<polygon points="11.4,2244.6 52.3,2232.2 52.3,2244.6" fill="#111"/>
<polygon points="57.5,2244.6 98.4,2232.2 98.4,2244.6" fill="#111"/>
<polygon points="103.5,2244.6 144.4,2232.2 144.4,2244.6" fill="#111"/>
<polygon points="149.6,2244.6 190.5,2232.2 190.5,2244.6" fill="#111"/>
<polygon points="195.6,2244.6 236.5,2232.2 236.5,2244.6" fill="#111"/>
<polygon points="241.7,2244.6 282.6,2232.2 282.6,2244.6" fill="#111"/>
<polygon points="287.8,2244.6 328.7,2232.2 328.7,2244.6" fill="#111"/>
<polygon points="333.8,2244.6 374.7,2232.2 374.7,2244.6" fill="#111"/>
<polygon points="379.9,2244.6 420.8,2232.2 420.8,2244.6" fill="#111"/>
<polygon points="425.9,2244.6 466.8,2232.2 466.8,2244.6" fill="#111"/>
<polygon points="472.0,2244.6 512.9,2232.2 512.9,2244.6" fill="#111"/>
<polygon points="518.1,2244.6 559.0,2232.2 559.0,2244.6" fill="#111"/>
<polygon points="564.1,2244.6 605.0,2232.2 605.0,2244.6" fill="#111"/>
<polygon points="610.2,2244.6 651.1,2232.2 651.1,2244.6" fill="#111"/>
<polygon points="656.2,2244.6 697.1,2232.2 697.1,2244.6" fill="#111"/>
<polygon points="702.3,2244.6 743.2,2232.2 743.2,2244.6" fill="#111"/>
<polygon points="748.4,2244.6 789.3,2232.2 789.3,2244.6" fill="#111"/>
<polygon points="794.4,2244.6 835.3,2232.2 835.3,2244.6" fill="#111"/>
<polygon points="840.5,2244.6 881.4,2232.2 881.4,2244.6" fill="#111"/>
<polygon points="886.5,2244.6 927.4,2232.2 927.4,2244.6" fill="#111"/>
<polygon points="932.6,2244.6 973.5,2232.2 973.5,2244.6" fill="#111"/>
<polygon points="978.7,2244.6 1019.6,2232.2 1019.6,2244.6" fill="#111"/>
<polygon points="1024.7,2244.6 1065.6,2232.2 1065.6,2244.6" fill="#111"/>
<polygon points="1070.8,2244.6 1111.7,2232.2 1111.7,2244.6" fill="#111"/>
<polygon points="1116.8,2244.6 1157.7,2232.2 1157.7,2244.6" fill="#111"/>
<polygon points="1162.9,2244.6 1203.8,2232.2 1203.8,2244.6" fill="#111"/>
<polygon points="1209.0,2244.6 1249.9,2232.2 1249.9,2244.6" fill="#111"/>
<polygon points="1255.0,2244.6 1295.9,2232.2 1295.9,2244.6" fill="#111"/>
<polygon points="1301.1,2244.6 1342.0,2232.2 1342.0,2244.6" fill="#111"/>
<polygon points="1347.1,2244.6 1388.0,2232.2 1388.0,2244.6" fill="#111"/>
<polygon points="1393.2,2244.6 1434.1,2232.2 1434.1,2244.6" fill="#111"/>
<polygon points="1439.3,2244.6 1480.2,2232.2 1480.2,2244.6" fill="#111"/>
<g transform="translate(1503,0) scale(1.06,1)">
<text x="0" y="2244" font-size="16.3">%viral RNA</text>
<text x="0" y="2257.6" font-size="16.3">(bins of 10% width)</text>
</g>
<polyline points="33.3,2260.5 33.3,2301 387.3,2338 387.3,2518.4" fill="none" stroke="#ef8c2a" stroke-width="2.8" stroke-linejoin="miter"/>
<polyline points="79.4,2260.5 79.4,2301 398.0,2338 398.0,2518.4" fill="none" stroke="#ee8012" stroke-width="2.8" stroke-linejoin="miter"/>
<polyline points="125.4,2260.5 125.4,2301 411.0,2338 411.0,2518.4" fill="none" stroke="#e0700f" stroke-width="2.8" stroke-linejoin="miter"/>
<polyline points="171.5,2260.5 171.5,2301 414.4,2338 414.4,2518.4" fill="none" stroke="#d8651a" stroke-width="2.8" stroke-linejoin="miter"/>
<polyline points="217.5,2260.5 217.5,2301 420.0,2338 420.0,2518.4" fill="none" stroke="#c25a20" stroke-width="2.8" stroke-linejoin="miter"/>
<polyline points="263.6,2260.5 263.6,2301 426.5,2338 426.5,2518.4" fill="none" stroke="#a7521e" stroke-width="2.8" stroke-linejoin="miter"/>
<polyline points="309.7,2260.5 309.7,2301 434.6,2338 434.6,2518.4" fill="none" stroke="#8b4513" stroke-width="2.8" stroke-linejoin="miter"/>
<polyline points="355.7,2260.5 355.7,2301 551.4,2338 551.4,2399.0" fill="none" stroke="#a6dd7b" stroke-width="2.8" stroke-linejoin="miter"/>
<polyline points="401.8,2260.5 401.8,2301 564.3,2338 564.3,2393.5" fill="none" stroke="#93d66a" stroke-width="2.8" stroke-linejoin="miter"/>
<polyline points="447.8,2260.5 447.8,2301 577.2,2338 577.2,2390.0" fill="none" stroke="#85cc5e" stroke-width="2.8" stroke-linejoin="miter"/>
<polyline points="493.9,2260.5 493.9,2301 594.5,2338 594.5,2391.0" fill="none" stroke="#6bbf59" stroke-width="2.8" stroke-linejoin="miter"/>
<polyline points="540.0,2260.5 540.0,2301 611.0,2338 611.0,2390.7" fill="none" stroke="#5cb156" stroke-width="2.8" stroke-linejoin="miter"/>
<polyline points="586.0,2260.5 586.0,2301 635.5,2338 635.5,2377.4" fill="none" stroke="#4ea64f" stroke-width="2.8" stroke-linejoin="miter"/>
<polyline points="632.1,2260.5 632.1,2301 645.9,2338 645.9,2385.3" fill="none" stroke="#3d9a47" stroke-width="2.8" stroke-linejoin="miter"/>
<polyline points="678.1,2260.5 678.1,2301 651.3,2338 651.3,2402.5" fill="none" stroke="#379043" stroke-width="2.8" stroke-linejoin="miter"/>
<polyline points="724.2,2260.5 724.2,2301 653.5,2338 653.5,2400.7" fill="none" stroke="#317f42" stroke-width="2.8" stroke-linejoin="miter"/>
<polyline points="770.3,2260.5 770.3,2301 695.5,2338 695.5,2427.7" fill="none" stroke="#5e4680" stroke-width="2.8" stroke-linejoin="miter"/>
<polyline points="816.3,2260.5 816.3,2301 715.0,2338 715.0,2408.0" fill="none" stroke="#2e7a3e" stroke-width="2.8" stroke-linejoin="miter"/>
<polyline points="862.4,2260.5 862.4,2301 984.5,2338 984.5,2388.0" fill="none" stroke="#2c6636" stroke-width="2.8" stroke-linejoin="miter"/>
<polyline points="908.4,2260.5 908.4,2301 1023.7,2338 1023.7,2373.8" fill="none" stroke="#2f4f34" stroke-width="2.8" stroke-linejoin="miter"/>
<polyline points="954.5,2260.5 954.5,2301 1072.2,2338 1072.2,2463.0" fill="none" stroke="#b3a2dd" stroke-width="2.8" stroke-linejoin="miter"/>
<polyline points="1000.6,2260.5 1000.6,2301 1085.2,2338 1085.2,2433.0" fill="none" stroke="#e45aa5" stroke-width="2.8" stroke-linejoin="miter"/>
<polyline points="1046.6,2260.5 1046.6,2301 1095.2,2338 1095.2,2407.0" fill="none" stroke="#e04ca0" stroke-width="2.8" stroke-linejoin="miter"/>
<polyline points="1092.7,2260.5 1092.7,2301 1105.6,2338 1105.6,2423.4" fill="none" stroke="#db3ba0" stroke-width="2.8" stroke-linejoin="miter"/>
<polyline points="1138.7,2260.5 1138.7,2301 1114.0,2338 1114.0,2421.0" fill="none" stroke="#d42d9d" stroke-width="2.8" stroke-linejoin="miter"/>
<polyline points="1184.8,2260.5 1184.8,2301 1120.4,2338 1120.4,2421.0" fill="none" stroke="#c72690" stroke-width="2.8" stroke-linejoin="miter"/>
<polyline points="1230.9,2260.5 1230.9,2301 1130.8,2338 1130.8,2408.6" fill="none" stroke="#b8228a" stroke-width="2.8" stroke-linejoin="miter"/>
<polyline points="1276.9,2260.5 1276.9,2301 1167.8,2338 1167.8,2417.6" fill="none" stroke="#a4247f" stroke-width="2.8" stroke-linejoin="miter"/>
<polyline points="1323.0,2260.5 1323.0,2301 1185.8,2338 1185.8,2431.3" fill="none" stroke="#912570" stroke-width="2.8" stroke-linejoin="miter"/>
<polyline points="1369.0,2260.5 1369.0,2301 1200.9,2338 1200.9,2419.4" fill="none" stroke="#7e2563" stroke-width="2.8" stroke-linejoin="miter"/>
<polyline points="1415.1,2260.5 1415.1,2301 1226.4,2338 1226.4,2442.0" fill="none" stroke="#6a2351" stroke-width="2.8" stroke-linejoin="miter"/>
<polyline points="1450.7,2260.5 1450.7,2301 1296.4,2338 1296.4,2518.4" fill="none" stroke="#8d8d8d" stroke-width="2.8"/>
<polyline points="1456.5,2260.5 1456.5,2301 1300.5,2338 1300.5,2518.4" fill="none" stroke="#8d8d8d" stroke-width="2.8"/>
<polyline points="1462.3,2260.5 1462.3,2301 1303.2,2338 1303.2,2518.4" fill="none" stroke="#8d8d8d" stroke-width="2.8"/>
<polyline points="1468.0,2260.5 1468.0,2301 1320.0,2338 1320.0,2518.4" fill="none" stroke="#8d8d8d" stroke-width="2.8"/>
<polyline points="1473.7,2260.5 1473.7,2301 1329.3,2338 1329.3,2518.4" fill="none" stroke="#8d8d8d" stroke-width="2.8"/>
<g transform="translate(1615.5,0) scale(1.1,1) translate(-1615.5,0)">
<text x="1615.5" y="2302.8" font-size="15.8" text-anchor="middle" >log2 expression ratio</text>
<text x="1615.5" y="2354.2" font-size="15.8" text-anchor="middle" >relative to trajectory</text>
<text x="1615.5" y="2371.5" font-size="15.8" text-anchor="middle" >defined from cells with</text>
<text x="1615.5" y="2388.9" font-size="15.8" text-anchor="middle" >host-targeting controls</text>
</g>
<rect x="1568.3" y="2308.4" width="95.6" height="7.3" fill="url(#cbh)"/>
<path d="M1580.4,2315.5v3.8M1592.5,2315.5v3.8M1604.6,2315.5v3.8M1616.3,2315.5v3.8M1628.3,2315.5v3.8M1640.0,2315.5v3.8M1651.8,2315.5v3.8" stroke="#222" stroke-width="1.4"/>
<text x="1577.9" y="2332.3" font-size="16" text-anchor="middle" >-3</text>
<text x="1616.3" y="2332.3" font-size="16" text-anchor="middle" >0</text>
<text x="1651.8" y="2332.3" font-size="16" text-anchor="middle" >3</text>
<text x="8.5" y="2362" font-size="32.8" font-weight="bold">C</text>
<path d="M107.0,2532.6 L107.0,2532.6 L108.2,2532.6 L109.5,2520.4 L110.8,2522.6 L112.0,2522.1 L113.2,2522.0 L114.5,2526.4 L115.8,2521.1 L117.0,2518.0 L118.2,2504.3 L119.5,2507.4 L120.8,2517.1 L122.0,2517.7 L123.2,2511.7 L124.5,2520.9 L125.8,2518.0 L127.0,2508.8 L128.2,2516.0 L129.5,2507.9 L130.8,2516.4 L132.0,2515.3 L133.2,2510.2 L134.5,2513.8 L135.8,2518.4 L137.0,2514.0 L138.2,2513.5 L139.5,2509.5 L140.8,2516.3 L142.0,2516.2 L143.2,2512.1 L144.5,2517.3 L145.8,2514.8 L147.0,2508.9 L148.2,2508.8 L149.5,2509.7 L150.8,2506.2 L152.0,2521.5 L153.2,2510.3 L154.5,2508.4 L155.8,2510.6 L157.0,2511.2 L158.2,2508.8 L159.5,2513.9 L160.8,2517.0 L162.0,2513.7 L163.2,2512.5 L164.5,2508.0 L165.8,2510.6 L167.0,2513.3 L168.2,2516.1 L169.5,2521.3 L170.8,2529.0 L172.0,2524.6 L173.2,2524.0 L174.5,2526.8 L175.8,2528.3 L177.0,2527.2 L178.2,2532.6 L179.5,2524.6 L180.8,2517.7 L182.0,2530.1 L183.2,2526.7 L184.5,2524.6 L185.8,2524.8 L187.0,2532.2 L188.2,2529.8 L189.5,2524.1 L190.8,2524.3 L192.0,2527.6 L193.2,2530.5 L194.5,2521.9 L195.8,2529.3 L197.0,2525.6 L198.2,2531.9 L199.5,2530.5 L200.8,2532.4 L202.0,2522.6 L203.2,2530.5 L204.5,2532.6 L205.8,2532.6 L207.0,2527.8 L208.2,2528.7 L209.5,2526.8 L210.8,2528.8 L212.0,2531.2 L213.2,2532.6 L214.5,2530.7 L215.8,2531.3 L217.0,2529.4 L218.2,2532.6 L219.5,2532.6 L220.8,2532.6 L222.0,2530.6 L223.2,2530.2 L224.5,2532.6 L225.8,2532.6 L227.0,2531.7 L228.2,2527.7 L229.5,2528.8 L230.8,2531.1 L232.0,2532.6 L233.2,2531.9 L234.5,2532.5 L235.8,2525.8 L237.0,2527.6 L238.2,2527.8 L239.5,2525.5 L240.8,2521.8 L242.0,2511.7 L243.2,2509.3 L244.5,2509.1 L245.8,2510.6 L247.0,2521.2 L248.2,2515.9 L249.5,2512.6 L250.8,2508.6 L252.0,2515.0 L253.2,2500.1 L254.5,2497.4 L255.8,2506.9 L257.0,2505.8 L258.2,2490.4 L259.5,2494.7 L260.8,2489.6 L262.0,2486.8 L263.2,2498.2 L264.5,2499.0 L265.8,2501.8 L267.0,2490.7 L268.2,2498.1 L269.5,2503.8 L270.8,2513.0 L272.0,2512.0 L273.2,2511.7 L274.5,2503.0 L275.8,2505.4 L277.0,2510.5 L278.2,2503.7 L279.5,2508.4 L280.8,2512.8 L282.0,2509.9 L283.2,2505.9 L284.5,2498.5 L285.8,2509.8 L287.0,2515.8 L288.2,2520.4 L289.5,2521.6 L290.8,2516.2 L292.0,2516.1 L293.2,2520.3 L294.5,2520.9 L295.8,2522.4 L297.0,2524.6 L298.2,2530.2 L299.5,2528.4 L300.8,2527.5 L302.0,2530.6 L303.2,2531.4 L304.5,2532.6 L305.8,2531.8 L307.0,2529.9 L308.2,2532.6 L309.5,2532.6 L310.8,2532.6 L312.0,2532.6 L313.2,2532.6 L314.5,2532.6 L315.8,2532.6 L317.0,2532.6 L318.2,2532.6 L319.5,2532.6 L320.8,2528.3 L322.0,2527.3 L323.2,2527.5 L324.5,2523.3 L325.8,2526.4 L327.0,2525.0 L328.2,2521.1 L329.5,2521.4 L330.8,2513.9 L332.0,2516.3 L333.2,2516.3 L334.5,2524.2 L335.8,2527.7 L337.0,2527.0 L338.2,2527.6 L339.5,2532.1 L340.8,2532.6 L342.0,2532.6 L343.2,2532.6 L344.5,2532.6 L345.8,2532.6 L347.0,2532.6 L348.2,2532.6 L349.5,2532.6 L350.8,2532.6 L352.0,2532.6 L353.2,2532.6 L354.5,2532.6 L355.8,2532.6 L357.0,2532.6 L358.2,2532.6 L359.5,2532.6 L360.8,2532.6 L362.0,2532.6 L363.2,2532.6 L364.5,2532.6 L365.8,2532.6 L367.0,2532.6 L368.2,2532.6 L369.5,2532.6 L370.8,2532.6 L372.0,2532.6 L373.2,2532.6 L374.5,2532.6 L375.8,2532.6 L377.0,2532.6 L378.2,2532.6 L379.5,2532.6 L380.8,2532.6 L382.0,2532.6 L383.2,2532.6 L384.5,2532.6 L385.8,2532.6 L387.0,2532.6 L388.2,2532.6 L389.5,2532.6 L390.8,2532.6 L392.0,2532.6 L393.2,2532.6 L394.5,2532.6 L395.8,2532.6 L397.0,2532.6 L398.2,2532.6 L399.5,2532.6 L400.8,2532.6 L402.0,2532.6 L403.2,2532.6 L404.5,2532.6 L405.8,2532.6 L407.0,2532.6 L408.2,2532.6 L409.5,2532.6 L410.8,2532.6 L412.0,2532.6 L413.2,2532.6 L414.5,2532.6 L415.8,2532.6 L417.0,2532.6 L418.2,2532.6 L419.5,2532.6 L420.8,2532.6 L422.0,2532.6 L423.2,2532.6 L424.5,2532.6 L425.8,2532.6 L427.0,2532.6 L428.2,2532.6 L429.5,2532.6 L430.8,2532.6 L432.0,2532.6 L433.2,2532.6 L434.5,2532.6 L435.8,2532.6 L437.0,2532.6 L438.2,2532.6 L439.5,2532.6 L440.8,2532.6 L442.0,2532.6 L443.2,2532.6 L444.5,2532.6 L445.8,2532.6 L447.0,2532.6 L448.2,2532.6 L449.5,2532.6 L450.8,2532.6 L452.0,2532.6 L453.2,2532.6 L454.5,2532.6 L455.8,2532.6 L457.0,2532.6 L458.2,2532.6 L459.5,2532.6 L460.8,2532.6 L462.0,2532.6 L463.2,2532.6 L464.5,2532.6 L465.8,2532.6 L467.0,2532.6 L468.2,2532.6 L469.5,2532.6 L470.8,2532.6 L472.0,2532.6 L473.2,2532.6 L474.5,2532.6 L475.8,2532.6 L477.0,2532.6 L478.2,2532.6 L479.5,2532.6 L480.8,2532.6 L482.0,2532.6 L483.2,2532.6 L484.5,2532.6 L485.8,2532.6 L487.0,2532.6 L488.2,2532.6 L489.5,2532.6 L490.8,2532.6 L492.0,2532.6 L493.2,2532.6 L494.5,2532.6 L495.8,2532.6 L497.0,2532.6 L498.2,2532.6 L499.5,2532.6 L500.8,2532.6 L502.0,2532.6 L503.2,2532.6 L504.5,2532.6 L505.8,2526.5 L507.0,2518.9 L508.2,2510.6 L509.5,2506.5 L510.8,2503.5 L512.0,2496.8 L513.2,2484.3 L514.5,2493.2 L515.8,2481.7 L517.0,2477.3 L518.2,2458.4 L519.5,2466.0 L520.8,2474.4 L522.0,2464.4 L523.2,2463.8 L524.5,2459.4 L525.8,2454.5 L527.0,2467.1 L528.2,2479.8 L529.5,2435.4 L530.8,2452.3 L532.0,2439.1 L533.2,2452.7 L534.5,2454.5 L535.8,2434.5 L537.0,2448.5 L538.2,2437.8 L539.5,2415.3 L540.8,2432.9 L542.0,2435.3 L543.2,2413.9 L544.5,2425.2 L545.8,2436.5 L547.0,2425.8 L548.2,2419.1 L549.5,2407.2 L550.8,2408.7 L552.0,2438.2 L553.2,2425.2 L554.5,2431.2 L555.8,2426.8 L557.0,2424.4 L558.2,2417.9 L559.5,2432.4 L560.8,2435.7 L562.0,2455.3 L563.2,2429.3 L564.5,2414.8 L565.8,2431.7 L567.0,2437.6 L568.2,2438.6 L569.5,2422.0 L570.8,2424.9 L572.0,2435.4 L573.2,2405.4 L574.5,2418.6 L575.8,2417.3 L577.0,2404.6 L578.2,2406.4 L579.5,2405.3 L580.8,2424.9 L582.0,2429.4 L583.2,2424.9 L584.5,2415.1 L585.8,2405.7 L587.0,2410.6 L588.2,2410.9 L589.5,2405.0 L590.8,2410.6 L592.0,2424.9 L593.2,2441.1 L594.5,2410.2 L595.8,2411.9 L597.0,2416.3 L598.2,2415.7 L599.5,2425.2 L600.8,2427.7 L602.0,2428.4 L603.2,2408.4 L604.5,2417.7 L605.8,2408.8 L607.0,2437.3 L608.2,2423.5 L609.5,2391.2 L610.8,2400.2 L612.0,2426.4 L613.2,2407.0 L614.5,2403.6 L615.8,2409.0 L617.0,2411.5 L618.2,2407.4 L619.5,2399.7 L620.8,2410.8 L622.0,2419.7 L623.2,2399.5 L624.5,2386.0 L625.8,2375.8 L627.0,2425.4 L628.2,2403.1 L629.5,2396.1 L630.8,2408.3 L632.0,2401.5 L633.2,2396.2 L634.5,2382.5 L635.8,2411.9 L637.0,2396.4 L638.2,2391.5 L639.5,2388.2 L640.8,2401.0 L642.0,2391.3 L643.2,2400.5 L644.5,2398.9 L645.8,2424.2 L647.0,2431.6 L648.2,2422.2 L649.5,2433.7 L650.8,2432.4 L652.0,2426.5 L653.2,2427.5 L654.5,2444.9 L655.8,2449.4 L657.0,2475.6 L658.2,2479.2 L659.5,2496.1 L660.8,2493.5 L662.0,2481.6 L663.2,2484.8 L664.5,2487.1 L665.8,2483.0 L667.0,2476.1 L668.2,2477.0 L669.5,2474.8 L670.8,2468.8 L672.0,2477.7 L673.2,2477.5 L674.5,2473.8 L675.8,2461.4 L677.0,2458.9 L678.2,2458.4 L679.5,2466.9 L680.8,2467.6 L682.0,2461.8 L683.2,2458.7 L684.5,2459.2 L685.8,2459.6 L687.0,2468.7 L688.2,2465.8 L689.5,2461.5 L690.8,2444.6 L692.0,2437.2 L693.2,2454.6 L694.5,2460.3 L695.8,2472.8 L697.0,2455.0 L698.2,2452.4 L699.5,2456.7 L700.8,2445.2 L702.0,2458.0 L703.2,2448.1 L704.5,2443.2 L705.8,2449.3 L707.0,2430.3 L708.2,2427.2 L709.5,2448.3 L710.8,2447.7 L712.0,2415.5 L713.2,2414.3 L714.5,2443.4 L715.8,2436.1 L717.0,2431.9 L718.2,2429.4 L719.5,2406.9 L720.8,2419.2 L722.0,2406.7 L723.2,2406.9 L724.5,2441.6 L725.8,2452.0 L727.0,2463.7 L728.2,2482.6 L729.5,2501.0 L730.8,2492.8 L732.0,2505.8 L733.2,2502.5 L734.5,2518.5 L735.8,2521.6 L737.0,2532.6 L738.2,2532.6 L739.5,2532.6 L740.8,2532.6 L742.0,2532.6 L743.2,2532.6 L744.5,2532.6 L745.8,2532.6 L747.0,2532.6 L748.2,2532.6 L749.5,2532.6 L750.8,2532.6 L752.0,2532.6 L753.2,2532.6 L754.5,2532.6 L755.8,2532.6 L757.0,2532.6 L758.2,2532.6 L759.5,2532.6 L760.8,2532.6 L762.0,2532.6 L763.2,2532.6 L764.5,2532.6 L765.8,2532.6 L767.0,2532.6 L768.2,2532.6 L769.5,2532.6 L770.8,2532.6 L772.0,2532.6 L773.2,2532.6 L774.5,2532.6 L775.8,2532.6 L777.0,2532.6 L778.2,2532.6 L779.5,2532.6 L780.8,2532.6 L782.0,2532.6 L783.2,2532.6 L784.5,2532.6 L785.8,2532.6 L787.0,2532.6 L788.2,2532.6 L789.5,2532.6 L790.8,2532.6 L792.0,2532.6 L793.2,2532.6 L794.5,2532.6 L795.8,2532.6 L797.0,2532.6 L798.2,2532.6 L799.5,2532.6 L800.8,2532.6 L802.0,2532.6 L803.2,2532.6 L804.5,2532.6 L805.8,2532.6 L807.0,2532.6 L808.2,2532.6 L809.5,2532.6 L810.8,2532.6 L812.0,2532.6 L813.2,2532.6 L814.5,2532.6 L815.8,2532.6 L817.0,2532.6 L818.2,2532.6 L819.5,2532.6 L820.8,2532.6 L822.0,2532.6 L823.2,2532.6 L824.5,2532.6 L825.8,2532.6 L827.0,2532.6 L828.2,2532.6 L829.5,2532.6 L830.8,2532.6 L832.0,2532.6 L833.2,2532.6 L834.5,2532.6 L835.8,2532.6 L837.0,2532.6 L838.2,2532.6 L839.5,2532.6 L840.8,2532.6 L842.0,2532.6 L843.2,2532.6 L844.5,2532.6 L845.8,2532.6 L847.0,2532.6 L848.2,2532.6 L849.5,2532.6 L850.8,2532.6 L852.0,2532.6 L853.2,2532.6 L854.5,2532.6 L855.8,2532.6 L857.0,2532.6 L858.2,2532.6 L859.5,2532.6 L860.8,2532.6 L862.0,2532.6 L863.2,2532.6 L864.5,2532.6 L865.8,2532.6 L867.0,2532.6 L868.2,2532.6 L869.5,2532.6 L870.8,2532.6 L872.0,2532.6 L873.2,2532.6 L874.5,2532.6 L875.8,2532.6 L877.0,2532.6 L878.2,2532.6 L879.5,2532.6 L880.8,2532.6 L882.0,2532.6 L883.2,2532.6 L884.5,2532.6 L885.8,2532.6 L887.0,2532.6 L888.2,2532.6 L889.5,2532.6 L890.8,2532.6 L892.0,2532.6 L893.2,2532.6 L894.5,2532.6 L895.8,2532.6 L897.0,2532.6 L898.2,2532.6 L899.5,2532.6 L900.8,2532.6 L902.0,2532.6 L903.2,2532.6 L904.5,2532.6 L905.8,2532.6 L907.0,2532.6 L908.2,2531.4 L909.5,2524.3 L910.8,2527.3 L912.0,2517.0 L913.2,2518.3 L914.5,2516.0 L915.8,2517.4 L917.0,2513.9 L918.2,2526.1 L919.5,2525.2 L920.8,2521.4 L922.0,2522.4 L923.2,2521.4 L924.5,2518.3 L925.8,2518.4 L927.0,2518.0 L928.2,2512.5 L929.5,2514.2 L930.8,2509.0 L932.0,2521.2 L933.2,2525.3 L934.5,2528.8 L935.8,2527.7 L937.0,2532.3 L938.2,2509.5 L939.5,2494.1 L940.8,2475.7 L942.0,2486.1 L943.2,2487.8 L944.5,2489.5 L945.8,2483.5 L947.0,2484.6 L948.2,2485.7 L949.5,2477.9 L950.8,2458.3 L952.0,2472.1 L953.2,2456.3 L954.5,2478.3 L955.8,2481.1 L957.0,2469.7 L958.2,2466.9 L959.5,2479.9 L960.8,2481.9 L962.0,2489.8 L963.2,2483.4 L964.5,2477.2 L965.8,2483.3 L967.0,2489.5 L968.2,2493.7 L969.5,2484.4 L970.8,2469.6 L972.0,2473.1 L973.2,2472.9 L974.5,2463.1 L975.8,2452.9 L977.0,2456.8 L978.2,2454.3 L979.5,2447.4 L980.8,2450.4 L982.0,2446.8 L983.2,2438.7 L984.5,2428.4 L985.8,2415.8 L987.0,2423.5 L988.2,2442.5 L989.5,2429.2 L990.8,2395.5 L992.0,2419.0 L993.2,2434.4 L994.5,2438.6 L995.8,2397.1 L997.0,2419.0 L998.2,2429.2 L999.5,2441.7 L1000.8,2422.7 L1002.0,2457.9 L1003.2,2440.0 L1004.5,2418.5 L1005.8,2436.2 L1007.0,2437.3 L1008.2,2441.2 L1009.5,2421.1 L1010.8,2435.3 L1012.0,2421.9 L1013.2,2418.6 L1014.5,2423.6 L1015.8,2406.7 L1017.0,2422.8 L1018.2,2415.0 L1019.5,2404.7 L1020.8,2406.6 L1022.0,2397.2 L1023.2,2394.0 L1024.5,2408.9 L1025.8,2415.8 L1027.0,2416.9 L1028.2,2417.4 L1029.5,2412.1 L1030.8,2424.2 L1032.0,2410.4 L1033.2,2425.9 L1034.5,2446.7 L1035.8,2441.7 L1037.0,2458.2 L1038.2,2454.7 L1039.5,2439.4 L1040.8,2464.7 L1042.0,2464.9 L1043.2,2464.8 L1044.5,2471.8 L1045.8,2477.0 L1047.0,2471.8 L1048.2,2471.7 L1049.5,2455.2 L1050.8,2458.6 L1052.0,2470.0 L1053.2,2476.2 L1054.5,2486.0 L1055.8,2494.1 L1057.0,2503.8 L1058.2,2511.5 L1059.5,2503.4 L1060.8,2497.1 L1062.0,2503.6 L1063.2,2508.8 L1064.5,2502.1 L1065.8,2507.0 L1067.0,2508.2 L1068.2,2508.8 L1069.5,2505.2 L1070.8,2496.5 L1072.0,2478.3 L1073.2,2484.2 L1074.5,2482.7 L1075.8,2471.4 L1077.0,2461.1 L1078.2,2460.8 L1079.5,2440.7 L1080.8,2432.7 L1082.0,2434.7 L1083.2,2416.6 L1084.5,2454.5 L1085.8,2437.8 L1087.0,2430.4 L1088.2,2415.9 L1089.5,2452.8 L1090.8,2442.6 L1092.0,2426.4 L1093.2,2436.5 L1094.5,2420.3 L1095.8,2446.0 L1097.0,2441.4 L1098.2,2422.5 L1099.5,2446.5 L1100.8,2465.5 L1102.0,2475.1 L1103.2,2442.9 L1104.5,2459.2 L1105.8,2433.6 L1107.0,2436.0 L1108.2,2440.2 L1109.5,2445.8 L1110.8,2440.8 L1112.0,2417.0 L1113.2,2445.2 L1114.5,2434.2 L1115.8,2433.7 L1117.0,2435.7 L1118.2,2429.8 L1119.5,2443.7 L1120.8,2423.2 L1122.0,2430.5 L1123.2,2452.3 L1124.5,2451.6 L1125.8,2441.0 L1127.0,2448.6 L1128.2,2444.4 L1129.5,2448.9 L1130.8,2429.4 L1132.0,2421.0 L1133.2,2422.4 L1134.5,2423.4 L1135.8,2427.3 L1137.0,2407.4 L1138.2,2432.3 L1139.5,2465.2 L1140.8,2438.9 L1142.0,2470.9 L1143.2,2477.0 L1144.5,2474.9 L1145.8,2477.1 L1147.0,2451.6 L1148.2,2464.9 L1149.5,2445.0 L1150.8,2449.6 L1152.0,2469.0 L1153.2,2469.5 L1154.5,2453.1 L1155.8,2454.7 L1157.0,2455.0 L1158.2,2451.7 L1159.5,2456.6 L1160.8,2453.2 L1162.0,2441.2 L1163.2,2412.3 L1164.5,2429.6 L1165.8,2439.9 L1167.0,2437.5 L1168.2,2447.2 L1169.5,2441.7 L1170.8,2436.7 L1172.0,2438.1 L1173.2,2451.7 L1174.5,2451.5 L1175.8,2441.3 L1177.0,2438.5 L1178.2,2454.1 L1179.5,2448.8 L1180.8,2441.0 L1182.0,2441.2 L1183.2,2449.2 L1184.5,2443.8 L1185.8,2442.4 L1187.0,2430.0 L1188.2,2438.3 L1189.5,2458.7 L1190.8,2466.0 L1192.0,2445.4 L1193.2,2433.7 L1194.5,2439.5 L1195.8,2438.1 L1197.0,2450.8 L1198.2,2457.4 L1199.5,2442.0 L1200.8,2442.9 L1202.0,2443.2 L1203.2,2457.5 L1204.5,2438.9 L1205.8,2436.8 L1207.0,2443.8 L1208.2,2453.7 L1209.5,2457.1 L1210.8,2454.2 L1212.0,2441.4 L1213.2,2450.5 L1214.5,2460.4 L1215.8,2464.6 L1217.0,2461.3 L1218.2,2447.2 L1219.5,2468.5 L1220.8,2464.3 L1222.0,2450.3 L1223.2,2446.3 L1224.5,2455.1 L1225.8,2450.6 L1227.0,2449.5 L1228.2,2440.0 L1229.5,2455.0 L1230.8,2447.1 L1232.0,2441.4 L1233.2,2451.2 L1234.5,2466.4 L1235.8,2459.3 L1237.0,2474.9 L1238.2,2479.2 L1239.5,2469.5 L1240.8,2476.2 L1242.0,2467.2 L1243.2,2480.9 L1244.5,2470.2 L1245.8,2480.8 L1247.0,2481.9 L1248.2,2485.6 L1249.5,2484.4 L1250.8,2493.8 L1252.0,2489.3 L1253.2,2487.2 L1254.5,2507.7 L1255.8,2522.5 L1257.0,2532.6 L1258.2,2530.1 L1259.5,2532.6 L1260.8,2532.6 L1262.0,2529.7 L1263.2,2523.4 L1264.5,2510.2 L1265.8,2510.6 L1267.0,2505.9 L1268.2,2503.0 L1269.5,2498.7 L1270.8,2499.1 L1272.0,2507.5 L1273.2,2508.8 L1274.5,2511.6 L1275.8,2515.4 L1277.0,2516.1 L1278.2,2512.5 L1279.5,2514.0 L1280.8,2523.5 L1282.0,2514.2 L1283.2,2519.8 L1284.5,2520.5 L1285.8,2525.8 L1287.0,2523.8 L1288.2,2519.5 L1289.5,2523.4 L1290.8,2521.2 L1292.0,2522.6 L1293.2,2527.4 L1294.5,2525.1 L1295.8,2518.0 L1297.0,2522.0 L1298.2,2525.3 L1299.5,2525.8 L1300.8,2526.0 L1302.0,2529.1 L1303.2,2528.4 L1304.5,2520.6 L1305.8,2524.6 L1307.0,2525.0 L1308.2,2520.7 L1309.5,2519.6 L1310.8,2519.4 L1312.0,2522.9 L1313.2,2522.6 L1314.5,2532.3 L1315.8,2532.6 L1317.0,2532.6 L1318.2,2532.3 L1319.5,2532.6 L1320.8,2532.6 L1322.0,2532.6 L1323.2,2532.6 L1324.5,2532.1 L1325.8,2532.6 L1327.0,2532.6 L1328.2,2532.6 L1329.5,2532.6 L1330.8,2532.6 L1332.0,2532.6 L1333.2,2532.6 L1334.5,2532.6 L1335.8,2532.6 L1337.0,2532.6 L1338.2,2532.6 L1339.5,2532.6 L1340.8,2532.0 L1342.0,2532.6 L1343.2,2532.6 L1344.5,2532.6 L1345.8,2532.6 L1347.0,2532.6 L1348.2,2532.6 L1349.5,2532.6 L1350.8,2532.6 L1352.0,2532.6 L1353.2,2532.6 L1354.5,2532.6 L1355.8,2532.6 L1357.0,2532.6 L1358.2,2532.6 L1359.5,2532.6 L1360.8,2532.6 L1362.0,2532.6 L1363.2,2532.6 L1364.5,2532.6 L1365.8,2532.6 L1367.0,2532.6 L1368.2,2532.6 L1369.5,2532.6 L1370.8,2532.6 L1372.0,2532.6 L1373.2,2532.6 L1374.5,2532.6 L1375.8,2532.6 L1377.0,2532.6 L1378.2,2532.6 L1379.5,2532.6 L1380.8,2532.6 L1382.0,2532.6 L1383.2,2532.6 L1384.5,2532.6 L1385.8,2532.6 L1387.0,2532.6 L1388.2,2532.6 L1389.5,2532.6 L1390.8,2532.6 L1392.0,2532.6 L1393.2,2532.6 L1394.5,2532.6 L1395.8,2532.6 L1397.0,2532.6 L1398.2,2532.6 L1399.5,2532.6 L1400.8,2532.6 L1402.0,2532.6 L1403.2,2532.6 L1404.5,2532.6 L1405.8,2532.6 L1407.0,2532.6 L1408.2,2532.6 L1409.5,2532.6 L1410.8,2532.6 L1412.0,2532.6 L1413.2,2532.6 L1414.5,2532.6 L1415.8,2532.6 L1417.0,2532.6 L1418.2,2532.6 L1419.5,2532.6 L1420.8,2532.6 L1422.0,2532.6 L1423.2,2532.6 L1424.5,2532.6 L1425.8,2532.6 L1427.0,2532.6 L1428.2,2532.6 L1429.5,2532.6 L1430.8,2532.6 L1432.0,2532.6 L1433.2,2532.6 L1434.5,2532.6 L1435.8,2532.6 L1437.0,2532.6 L1438.2,2532.6 L1439.5,2532.6 L1440.8,2532.6 L1442.0,2532.6 L1443.2,2532.6 L1444.5,2532.6 L1445.8,2532.6 L1447.0,2532.6 L1448.2,2532.6 L1449.5,2532.6 L1450.8,2532.6 L1452.0,2532.6 L1453.2,2532.6 L1454.5,2532.6 L1455.8,2532.6 L1457.0,2532.6 L1458.2,2532.6 L1459.5,2532.6 L1460.8,2532.6 L1462.0,2532.6 L1463.2,2532.6 L1464.5,2532.6 L1465.8,2532.6 L1467.0,2532.6 L1468.2,2532.6 L1469.5,2532.6 L1470.8,2532.6 L1472.0,2532.6 L1473.2,2532.6 L1474.5,2532.6 L1475.8,2532.6 L1477.0,2532.6 L1478.2,2532.6 L1479.5,2532.6 L1480.8,2532.6 L1482.0,2530.7 L1483.2,2530.5 L1484.5,2532.6 L1485.8,2528.0 L1487.0,2530.1 L1488.2,2519.1 L1489.5,2511.8 L1490.8,2507.9 L1492.0,2486.2 L1493.2,2499.2 L1494.5,2502.3 L1495.8,2510.6 L1497.0,2505.9 L1498.2,2511.9 L1499.5,2532.6 L1499.5,2532.6 Z" fill="#cfcfcf"/>
<path d="M107.0,2532.6 L107.0,2532.6 L108.2,2533.9 L109.5,2532.6 L110.8,2532.6 L112.0,2532.6 L113.2,2532.6 L114.5,2532.6 L115.8,2532.6 L117.0,2532.6 L118.2,2532.6 L119.5,2532.6 L120.8,2532.6 L122.0,2532.6 L123.2,2532.6 L124.5,2532.6 L125.8,2532.6 L127.0,2532.6 L128.2,2532.6 L129.5,2532.6 L130.8,2532.6 L132.0,2532.6 L133.2,2532.6 L134.5,2532.6 L135.8,2532.6 L137.0,2532.6 L138.2,2532.6 L139.5,2532.6 L140.8,2532.6 L142.0,2532.6 L143.2,2532.6 L144.5,2532.6 L145.8,2532.6 L147.0,2532.6 L148.2,2532.6 L149.5,2532.6 L150.8,2532.6 L152.0,2532.6 L153.2,2532.6 L154.5,2532.6 L155.8,2532.6 L157.0,2532.6 L158.2,2532.6 L159.5,2532.6 L160.8,2532.6 L162.0,2532.6 L163.2,2532.6 L164.5,2532.6 L165.8,2532.6 L167.0,2532.6 L168.2,2532.6 L169.5,2532.6 L170.8,2532.6 L172.0,2532.6 L173.2,2532.6 L174.5,2532.6 L175.8,2532.6 L177.0,2532.6 L178.2,2532.9 L179.5,2532.6 L180.8,2532.6 L182.0,2532.6 L183.2,2532.6 L184.5,2532.6 L185.8,2532.6 L187.0,2532.6 L188.2,2532.6 L189.5,2532.6 L190.8,2532.6 L192.0,2532.6 L193.2,2532.6 L194.5,2532.6 L195.8,2532.6 L197.0,2532.6 L198.2,2532.6 L199.5,2532.6 L200.8,2532.6 L202.0,2532.6 L203.2,2532.6 L204.5,2533.4 L205.8,2535.6 L207.0,2532.6 L208.2,2532.6 L209.5,2532.6 L210.8,2532.6 L212.0,2532.6 L213.2,2534.3 L214.5,2532.6 L215.8,2532.6 L217.0,2532.6 L218.2,2535.3 L219.5,2534.3 L220.8,2532.6 L222.0,2532.6 L223.2,2532.6 L224.5,2535.3 L225.8,2536.8 L227.0,2532.6 L228.2,2532.6 L229.5,2532.6 L230.8,2532.6 L232.0,2532.7 L233.2,2532.6 L234.5,2532.6 L235.8,2532.6 L237.0,2532.6 L238.2,2532.6 L239.5,2532.6 L240.8,2532.6 L242.0,2532.6 L243.2,2532.6 L244.5,2532.6 L245.8,2532.6 L247.0,2532.6 L248.2,2532.6 L249.5,2532.6 L250.8,2532.6 L252.0,2532.6 L253.2,2532.6 L254.5,2532.6 L255.8,2532.6 L257.0,2532.6 L258.2,2532.6 L259.5,2532.6 L260.8,2532.6 L262.0,2532.6 L263.2,2532.6 L264.5,2532.6 L265.8,2532.6 L267.0,2532.6 L268.2,2532.6 L269.5,2532.6 L270.8,2532.6 L272.0,2532.6 L273.2,2532.6 L274.5,2532.6 L275.8,2532.6 L277.0,2532.6 L278.2,2532.6 L279.5,2532.6 L280.8,2532.6 L282.0,2532.6 L283.2,2532.6 L284.5,2532.6 L285.8,2532.6 L287.0,2532.6 L288.2,2532.6 L289.5,2532.6 L290.8,2532.6 L292.0,2532.6 L293.2,2532.6 L294.5,2532.6 L295.8,2532.6 L297.0,2532.6 L298.2,2532.6 L299.5,2532.6 L300.8,2532.6 L302.0,2532.6 L303.2,2532.6 L304.5,2532.8 L305.8,2532.6 L307.0,2532.6 L308.2,2534.8 L309.5,2533.7 L310.8,2537.7 L312.0,2539.6 L313.2,2541.4 L314.5,2533.5 L315.8,2538.9 L317.0,2535.7 L318.2,2535.8 L319.5,2536.8 L320.8,2532.6 L322.0,2532.6 L323.2,2532.6 L324.5,2532.6 L325.8,2532.6 L327.0,2532.6 L328.2,2532.6 L329.5,2532.6 L330.8,2532.6 L332.0,2532.6 L333.2,2532.6 L334.5,2532.6 L335.8,2532.6 L337.0,2532.6 L338.2,2532.6 L339.5,2532.6 L340.8,2537.5 L342.0,2546.3 L343.2,2547.1 L344.5,2550.2 L345.8,2548.6 L347.0,2545.2 L348.2,2544.5 L349.5,2546.5 L350.8,2547.1 L352.0,2553.9 L353.2,2558.9 L354.5,2557.4 L355.8,2560.5 L357.0,2565.1 L358.2,2560.9 L359.5,2559.7 L360.8,2557.1 L362.0,2553.6 L363.2,2570.0 L364.5,2555.5 L365.8,2564.7 L367.0,2566.3 L368.2,2571.3 L369.5,2566.9 L370.8,2564.2 L372.0,2579.3 L373.2,2567.7 L374.5,2570.2 L375.8,2572.8 L377.0,2573.2 L378.2,2584.2 L379.5,2571.3 L380.8,2581.9 L382.0,2571.3 L383.2,2585.6 L384.5,2580.3 L385.8,2598.3 L387.0,2602.2 L388.2,2586.3 L389.5,2614.1 L390.8,2603.6 L392.0,2602.2 L393.2,2613.2 L394.5,2606.9 L395.8,2598.2 L397.0,2610.1 L398.2,2615.8 L399.5,2617.2 L400.8,2610.8 L402.0,2626.4 L403.2,2648.6 L404.5,2614.5 L405.8,2619.2 L407.0,2628.4 L408.2,2633.6 L409.5,2671.7 L410.8,2647.4 L412.0,2635.4 L413.2,2640.3 L414.5,2658.5 L415.8,2685.4 L417.0,2660.2 L418.2,2653.7 L419.5,2652.4 L420.8,2647.6 L422.0,2658.6 L423.2,2633.3 L424.5,2633.6 L425.8,2628.3 L427.0,2625.6 L428.2,2614.0 L429.5,2630.6 L430.8,2617.8 L432.0,2611.8 L433.2,2602.3 L434.5,2602.1 L435.8,2609.8 L437.0,2611.1 L438.2,2622.1 L439.5,2618.4 L440.8,2597.6 L442.0,2596.0 L443.2,2590.0 L444.5,2597.0 L445.8,2580.7 L447.0,2586.5 L448.2,2590.7 L449.5,2585.2 L450.8,2582.5 L452.0,2591.1 L453.2,2598.3 L454.5,2593.7 L455.8,2584.1 L457.0,2596.1 L458.2,2596.6 L459.5,2568.7 L460.8,2576.2 L462.0,2578.3 L463.2,2568.5 L464.5,2574.5 L465.8,2568.2 L467.0,2560.1 L468.2,2563.2 L469.5,2549.7 L470.8,2554.0 L472.0,2572.6 L473.2,2556.9 L474.5,2565.3 L475.8,2561.0 L477.0,2563.7 L478.2,2558.8 L479.5,2549.4 L480.8,2556.2 L482.0,2566.8 L483.2,2561.0 L484.5,2555.5 L485.8,2563.1 L487.0,2557.4 L488.2,2550.7 L489.5,2553.9 L490.8,2558.3 L492.0,2562.2 L493.2,2556.2 L494.5,2556.2 L495.8,2547.8 L497.0,2544.1 L498.2,2537.9 L499.5,2540.8 L500.8,2542.1 L502.0,2539.0 L503.2,2536.8 L504.5,2532.7 L505.8,2532.6 L507.0,2532.6 L508.2,2532.6 L509.5,2532.6 L510.8,2532.6 L512.0,2532.6 L513.2,2532.6 L514.5,2532.6 L515.8,2532.6 L517.0,2532.6 L518.2,2532.6 L519.5,2532.6 L520.8,2532.6 L522.0,2532.6 L523.2,2532.6 L524.5,2532.6 L525.8,2532.6 L527.0,2532.6 L528.2,2532.6 L529.5,2532.6 L530.8,2532.6 L532.0,2532.6 L533.2,2532.6 L534.5,2532.6 L535.8,2532.6 L537.0,2532.6 L538.2,2532.6 L539.5,2532.6 L540.8,2532.6 L542.0,2532.6 L543.2,2532.6 L544.5,2532.6 L545.8,2532.6 L547.0,2532.6 L548.2,2532.6 L549.5,2532.6 L550.8,2532.6 L552.0,2532.6 L553.2,2532.6 L554.5,2532.6 L555.8,2532.6 L557.0,2532.6 L558.2,2532.6 L559.5,2532.6 L560.8,2532.6 L562.0,2532.6 L563.2,2532.6 L564.5,2532.6 L565.8,2532.6 L567.0,2532.6 L568.2,2532.6 L569.5,2532.6 L570.8,2532.6 L572.0,2532.6 L573.2,2532.6 L574.5,2532.6 L575.8,2532.6 L577.0,2532.6 L578.2,2532.6 L579.5,2532.6 L580.8,2532.6 L582.0,2532.6 L583.2,2532.6 L584.5,2532.6 L585.8,2532.6 L587.0,2532.6 L588.2,2532.6 L589.5,2532.6 L590.8,2532.6 L592.0,2532.6 L593.2,2532.6 L594.5,2532.6 L595.8,2532.6 L597.0,2532.6 L598.2,2532.6 L599.5,2532.6 L600.8,2532.6 L602.0,2532.6 L603.2,2532.6 L604.5,2532.6 L605.8,2532.6 L607.0,2532.6 L608.2,2532.6 L609.5,2532.6 L610.8,2532.6 L612.0,2532.6 L613.2,2532.6 L614.5,2532.6 L615.8,2532.6 L617.0,2532.6 L618.2,2532.6 L619.5,2532.6 L620.8,2532.6 L622.0,2532.6 L623.2,2532.6 L624.5,2532.6 L625.8,2532.6 L627.0,2532.6 L628.2,2532.6 L629.5,2532.6 L630.8,2532.6 L632.0,2532.6 L633.2,2532.6 L634.5,2532.6 L635.8,2532.6 L637.0,2532.6 L638.2,2532.6 L639.5,2532.6 L640.8,2532.6 L642.0,2532.6 L643.2,2532.6 L644.5,2532.6 L645.8,2532.6 L647.0,2532.6 L648.2,2532.6 L649.5,2532.6 L650.8,2532.6 L652.0,2532.6 L653.2,2532.6 L654.5,2532.6 L655.8,2532.6 L657.0,2532.6 L658.2,2532.6 L659.5,2532.6 L660.8,2532.6 L662.0,2532.6 L663.2,2532.6 L664.5,2532.6 L665.8,2532.6 L667.0,2532.6 L668.2,2532.6 L669.5,2532.6 L670.8,2532.6 L672.0,2532.6 L673.2,2532.6 L674.5,2532.6 L675.8,2532.6 L677.0,2532.6 L678.2,2532.6 L679.5,2532.6 L680.8,2532.6 L682.0,2532.6 L683.2,2532.6 L684.5,2532.6 L685.8,2532.6 L687.0,2532.6 L688.2,2532.6 L689.5,2532.6 L690.8,2532.6 L692.0,2532.6 L693.2,2532.6 L694.5,2532.6 L695.8,2532.6 L697.0,2532.6 L698.2,2532.6 L699.5,2532.6 L700.8,2532.6 L702.0,2532.6 L703.2,2532.6 L704.5,2532.6 L705.8,2532.6 L707.0,2532.6 L708.2,2532.6 L709.5,2532.6 L710.8,2532.6 L712.0,2532.6 L713.2,2532.6 L714.5,2532.6 L715.8,2532.6 L717.0,2532.6 L718.2,2532.6 L719.5,2532.6 L720.8,2532.6 L722.0,2532.6 L723.2,2532.6 L724.5,2532.6 L725.8,2532.6 L727.0,2532.6 L728.2,2532.6 L729.5,2532.6 L730.8,2532.6 L732.0,2532.6 L733.2,2532.6 L734.5,2532.6 L735.8,2532.6 L737.0,2532.6 L738.2,2545.1 L739.5,2536.4 L740.8,2535.7 L742.0,2537.9 L743.2,2542.5 L744.5,2540.1 L745.8,2544.8 L747.0,2543.5 L748.2,2548.2 L749.5,2542.5 L750.8,2542.7 L752.0,2543.4 L753.2,2545.5 L754.5,2540.5 L755.8,2549.3 L757.0,2545.6 L758.2,2548.4 L759.5,2546.9 L760.8,2550.0 L762.0,2548.5 L763.2,2551.2 L764.5,2555.7 L765.8,2552.6 L767.0,2551.9 L768.2,2552.3 L769.5,2548.0 L770.8,2549.8 L772.0,2555.4 L773.2,2561.5 L774.5,2558.8 L775.8,2549.3 L777.0,2563.9 L778.2,2562.0 L779.5,2555.2 L780.8,2556.4 L782.0,2557.3 L783.2,2557.6 L784.5,2551.5 L785.8,2561.2 L787.0,2557.0 L788.2,2561.8 L789.5,2558.1 L790.8,2563.6 L792.0,2557.5 L793.2,2561.0 L794.5,2554.9 L795.8,2563.5 L797.0,2554.7 L798.2,2561.6 L799.5,2564.4 L800.8,2563.9 L802.0,2562.0 L803.2,2565.2 L804.5,2557.8 L805.8,2566.2 L807.0,2571.2 L808.2,2566.7 L809.5,2549.7 L810.8,2543.8 L812.0,2556.3 L813.2,2567.8 L814.5,2563.2 L815.8,2564.1 L817.0,2576.5 L818.2,2562.3 L819.5,2567.3 L820.8,2571.5 L822.0,2570.9 L823.2,2576.2 L824.5,2565.9 L825.8,2570.0 L827.0,2568.7 L828.2,2583.9 L829.5,2584.0 L830.8,2566.7 L832.0,2565.7 L833.2,2566.6 L834.5,2573.7 L835.8,2577.6 L837.0,2575.6 L838.2,2565.1 L839.5,2564.6 L840.8,2571.9 L842.0,2563.8 L843.2,2570.1 L844.5,2566.2 L845.8,2568.9 L847.0,2569.0 L848.2,2568.6 L849.5,2566.2 L850.8,2558.2 L852.0,2561.5 L853.2,2561.0 L854.5,2562.3 L855.8,2572.4 L857.0,2566.1 L858.2,2553.4 L859.5,2552.7 L860.8,2554.8 L862.0,2557.6 L863.2,2553.0 L864.5,2558.4 L865.8,2555.3 L867.0,2550.8 L868.2,2546.5 L869.5,2551.6 L870.8,2551.9 L872.0,2544.4 L873.2,2553.6 L874.5,2555.9 L875.8,2550.8 L877.0,2551.4 L878.2,2562.1 L879.5,2552.2 L880.8,2543.7 L882.0,2544.7 L883.2,2544.4 L884.5,2545.3 L885.8,2536.3 L887.0,2544.1 L888.2,2541.7 L889.5,2546.7 L890.8,2542.6 L892.0,2544.5 L893.2,2540.5 L894.5,2538.5 L895.8,2549.2 L897.0,2544.8 L898.2,2546.8 L899.5,2543.5 L900.8,2540.1 L902.0,2537.8 L903.2,2541.6 L904.5,2536.5 L905.8,2539.1 L907.0,2535.9 L908.2,2532.6 L909.5,2532.6 L910.8,2532.6 L912.0,2532.6 L913.2,2532.6 L914.5,2532.6 L915.8,2532.6 L917.0,2532.6 L918.2,2532.6 L919.5,2532.6 L920.8,2532.6 L922.0,2532.6 L923.2,2532.6 L924.5,2532.6 L925.8,2532.6 L927.0,2532.6 L928.2,2532.6 L929.5,2532.6 L930.8,2532.6 L932.0,2532.6 L933.2,2532.6 L934.5,2532.6 L935.8,2532.6 L937.0,2532.6 L938.2,2532.6 L939.5,2532.6 L940.8,2532.6 L942.0,2532.6 L943.2,2532.6 L944.5,2532.6 L945.8,2532.6 L947.0,2532.6 L948.2,2532.6 L949.5,2532.6 L950.8,2532.6 L952.0,2532.6 L953.2,2532.6 L954.5,2532.6 L955.8,2532.6 L957.0,2532.6 L958.2,2532.6 L959.5,2532.6 L960.8,2532.6 L962.0,2532.6 L963.2,2532.6 L964.5,2532.6 L965.8,2532.6 L967.0,2532.6 L968.2,2532.6 L969.5,2532.6 L970.8,2532.6 L972.0,2532.6 L973.2,2532.6 L974.5,2532.6 L975.8,2532.6 L977.0,2532.6 L978.2,2532.6 L979.5,2532.6 L980.8,2532.6 L982.0,2532.6 L983.2,2532.6 L984.5,2532.6 L985.8,2532.6 L987.0,2532.6 L988.2,2532.6 L989.5,2532.6 L990.8,2532.6 L992.0,2532.6 L993.2,2532.6 L994.5,2532.6 L995.8,2532.6 L997.0,2532.6 L998.2,2532.6 L999.5,2532.6 L1000.8,2532.6 L1002.0,2532.6 L1003.2,2532.6 L1004.5,2532.6 L1005.8,2532.6 L1007.0,2532.6 L1008.2,2532.6 L1009.5,2532.6 L1010.8,2532.6 L1012.0,2532.6 L1013.2,2532.6 L1014.5,2532.6 L1015.8,2532.6 L1017.0,2532.6 L1018.2,2532.6 L1019.5,2532.6 L1020.8,2532.6 L1022.0,2532.6 L1023.2,2532.6 L1024.5,2532.6 L1025.8,2532.6 L1027.0,2532.6 L1028.2,2532.6 L1029.5,2532.6 L1030.8,2532.6 L1032.0,2532.6 L1033.2,2532.6 L1034.5,2532.6 L1035.8,2532.6 L1037.0,2532.6 L1038.2,2532.6 L1039.5,2532.6 L1040.8,2532.6 L1042.0,2532.6 L1043.2,2532.6 L1044.5,2532.6 L1045.8,2532.6 L1047.0,2532.6 L1048.2,2532.6 L1049.5,2532.6 L1050.8,2532.6 L1052.0,2532.6 L1053.2,2532.6 L1054.5,2532.6 L1055.8,2532.6 L1057.0,2532.6 L1058.2,2532.6 L1059.5,2532.6 L1060.8,2532.6 L1062.0,2532.6 L1063.2,2532.6 L1064.5,2532.6 L1065.8,2532.6 L1067.0,2532.6 L1068.2,2532.6 L1069.5,2532.6 L1070.8,2532.6 L1072.0,2532.6 L1073.2,2532.6 L1074.5,2532.6 L1075.8,2532.6 L1077.0,2532.6 L1078.2,2532.6 L1079.5,2532.6 L1080.8,2532.6 L1082.0,2532.6 L1083.2,2532.6 L1084.5,2532.6 L1085.8,2532.6 L1087.0,2532.6 L1088.2,2532.6 L1089.5,2532.6 L1090.8,2532.6 L1092.0,2532.6 L1093.2,2532.6 L1094.5,2532.6 L1095.8,2532.6 L1097.0,2532.6 L1098.2,2532.6 L1099.5,2532.6 L1100.8,2532.6 L1102.0,2532.6 L1103.2,2532.6 L1104.5,2532.6 L1105.8,2532.6 L1107.0,2532.6 L1108.2,2532.6 L1109.5,2532.6 L1110.8,2532.6 L1112.0,2532.6 L1113.2,2532.6 L1114.5,2532.6 L1115.8,2532.6 L1117.0,2532.6 L1118.2,2532.6 L1119.5,2532.6 L1120.8,2532.6 L1122.0,2532.6 L1123.2,2532.6 L1124.5,2532.6 L1125.8,2532.6 L1127.0,2532.6 L1128.2,2532.6 L1129.5,2532.6 L1130.8,2532.6 L1132.0,2532.6 L1133.2,2532.6 L1134.5,2532.6 L1135.8,2532.6 L1137.0,2532.6 L1138.2,2532.6 L1139.5,2532.6 L1140.8,2532.6 L1142.0,2532.6 L1143.2,2532.6 L1144.5,2532.6 L1145.8,2532.6 L1147.0,2532.6 L1148.2,2532.6 L1149.5,2532.6 L1150.8,2532.6 L1152.0,2532.6 L1153.2,2532.6 L1154.5,2532.6 L1155.8,2532.6 L1157.0,2532.6 L1158.2,2532.6 L1159.5,2532.6 L1160.8,2532.6 L1162.0,2532.6 L1163.2,2532.6 L1164.5,2532.6 L1165.8,2532.6 L1167.0,2532.6 L1168.2,2532.6 L1169.5,2532.6 L1170.8,2532.6 L1172.0,2532.6 L1173.2,2532.6 L1174.5,2532.6 L1175.8,2532.6 L1177.0,2532.6 L1178.2,2532.6 L1179.5,2532.6 L1180.8,2532.6 L1182.0,2532.6 L1183.2,2532.6 L1184.5,2532.6 L1185.8,2532.6 L1187.0,2532.6 L1188.2,2532.6 L1189.5,2532.6 L1190.8,2532.6 L1192.0,2532.6 L1193.2,2532.6 L1194.5,2532.6 L1195.8,2532.6 L1197.0,2532.6 L1198.2,2532.6 L1199.5,2532.6 L1200.8,2532.6 L1202.0,2532.6 L1203.2,2532.6 L1204.5,2532.6 L1205.8,2532.6 L1207.0,2532.6 L1208.2,2532.6 L1209.5,2532.6 L1210.8,2532.6 L1212.0,2532.6 L1213.2,2532.6 L1214.5,2532.6 L1215.8,2532.6 L1217.0,2532.6 L1218.2,2532.6 L1219.5,2532.6 L1220.8,2532.6 L1222.0,2532.6 L1223.2,2532.6 L1224.5,2532.6 L1225.8,2532.6 L1227.0,2532.6 L1228.2,2532.6 L1229.5,2532.6 L1230.8,2532.6 L1232.0,2532.6 L1233.2,2532.6 L1234.5,2532.6 L1235.8,2532.6 L1237.0,2532.6 L1238.2,2532.6 L1239.5,2532.6 L1240.8,2532.6 L1242.0,2532.6 L1243.2,2532.6 L1244.5,2532.6 L1245.8,2532.6 L1247.0,2532.6 L1248.2,2532.6 L1249.5,2532.6 L1250.8,2532.6 L1252.0,2532.6 L1253.2,2532.6 L1254.5,2532.6 L1255.8,2532.6 L1257.0,2532.6 L1258.2,2532.6 L1259.5,2534.6 L1260.8,2537.5 L1262.0,2532.6 L1263.2,2532.6 L1264.5,2532.6 L1265.8,2532.6 L1267.0,2532.6 L1268.2,2532.6 L1269.5,2532.6 L1270.8,2532.6 L1272.0,2532.6 L1273.2,2532.6 L1274.5,2532.6 L1275.8,2532.6 L1277.0,2532.6 L1278.2,2532.6 L1279.5,2532.6 L1280.8,2532.6 L1282.0,2532.6 L1283.2,2532.6 L1284.5,2532.6 L1285.8,2532.6 L1287.0,2532.6 L1288.2,2532.6 L1289.5,2532.6 L1290.8,2532.6 L1292.0,2532.6 L1293.2,2532.6 L1294.5,2532.6 L1295.8,2532.6 L1297.0,2532.6 L1298.2,2532.6 L1299.5,2532.6 L1300.8,2532.6 L1302.0,2532.6 L1303.2,2532.6 L1304.5,2532.6 L1305.8,2532.6 L1307.0,2532.6 L1308.2,2532.6 L1309.5,2532.6 L1310.8,2532.6 L1312.0,2532.6 L1313.2,2532.6 L1314.5,2532.6 L1315.8,2542.3 L1317.0,2541.5 L1318.2,2532.6 L1319.5,2536.6 L1320.8,2535.6 L1322.0,2535.3 L1323.2,2534.8 L1324.5,2532.6 L1325.8,2535.8 L1327.0,2535.8 L1328.2,2534.2 L1329.5,2533.2 L1330.8,2539.9 L1332.0,2535.3 L1333.2,2533.0 L1334.5,2533.4 L1335.8,2537.6 L1337.0,2539.0 L1338.2,2537.7 L1339.5,2537.7 L1340.8,2532.6 L1342.0,2533.9 L1343.2,2534.8 L1344.5,2536.6 L1345.8,2536.9 L1347.0,2534.2 L1348.2,2547.9 L1349.5,2544.5 L1350.8,2551.3 L1352.0,2548.9 L1353.2,2550.8 L1354.5,2554.6 L1355.8,2538.1 L1357.0,2545.7 L1358.2,2555.1 L1359.5,2551.2 L1360.8,2548.7 L1362.0,2546.6 L1363.2,2560.8 L1364.5,2560.1 L1365.8,2554.3 L1367.0,2556.7 L1368.2,2557.0 L1369.5,2553.6 L1370.8,2557.3 L1372.0,2561.3 L1373.2,2564.3 L1374.5,2567.0 L1375.8,2561.9 L1377.0,2559.6 L1378.2,2567.8 L1379.5,2558.3 L1380.8,2557.0 L1382.0,2566.7 L1383.2,2562.8 L1384.5,2564.6 L1385.8,2566.2 L1387.0,2571.2 L1388.2,2567.3 L1389.5,2574.6 L1390.8,2566.1 L1392.0,2574.4 L1393.2,2560.6 L1394.5,2554.5 L1395.8,2566.8 L1397.0,2568.7 L1398.2,2571.8 L1399.5,2570.2 L1400.8,2566.4 L1402.0,2570.4 L1403.2,2578.1 L1404.5,2582.5 L1405.8,2574.1 L1407.0,2573.2 L1408.2,2570.0 L1409.5,2570.9 L1410.8,2573.5 L1412.0,2580.7 L1413.2,2569.8 L1414.5,2561.6 L1415.8,2556.7 L1417.0,2556.8 L1418.2,2564.8 L1419.5,2574.5 L1420.8,2572.7 L1422.0,2560.4 L1423.2,2557.3 L1424.5,2567.5 L1425.8,2565.9 L1427.0,2558.6 L1428.2,2567.0 L1429.5,2565.9 L1430.8,2568.9 L1432.0,2565.4 L1433.2,2565.8 L1434.5,2561.9 L1435.8,2562.2 L1437.0,2556.7 L1438.2,2556.3 L1439.5,2560.4 L1440.8,2552.6 L1442.0,2556.9 L1443.2,2559.3 L1444.5,2563.1 L1445.8,2563.8 L1447.0,2559.5 L1448.2,2548.3 L1449.5,2557.1 L1450.8,2559.6 L1452.0,2550.0 L1453.2,2543.1 L1454.5,2549.6 L1455.8,2551.0 L1457.0,2546.7 L1458.2,2550.1 L1459.5,2553.6 L1460.8,2550.3 L1462.0,2552.5 L1463.2,2552.0 L1464.5,2549.0 L1465.8,2547.3 L1467.0,2545.1 L1468.2,2548.4 L1469.5,2542.8 L1470.8,2541.2 L1472.0,2544.2 L1473.2,2540.6 L1474.5,2543.3 L1475.8,2544.8 L1477.0,2541.5 L1478.2,2540.2 L1479.5,2541.4 L1480.8,2538.6 L1482.0,2532.6 L1483.2,2532.6 L1484.5,2536.2 L1485.8,2532.6 L1487.0,2532.6 L1488.2,2532.6 L1489.5,2532.6 L1490.8,2532.6 L1492.0,2532.6 L1493.2,2532.6 L1494.5,2532.6 L1495.8,2532.6 L1497.0,2532.6 L1498.2,2532.6 L1499.5,2532.6 L1499.5,2532.6 Z" fill="#dedede"/>
<path d="M82.6,2377.9 V2687.3" stroke="#111" stroke-width="2.2" fill="none"/>
<path d="M77.6,2377.9 H82.6" stroke="#111" stroke-width="2.2"/>
<text x="73.5" y="2385.5" font-size="21.2" text-anchor="end" >2</text>
<path d="M77.6,2455.2 H82.6" stroke="#111" stroke-width="2.2"/>
<text x="73.5" y="2462.8" font-size="21.2" text-anchor="end" >1</text>
<path d="M77.6,2532.6 H82.6" stroke="#111" stroke-width="2.2"/>
<text x="73.5" y="2540.2" font-size="21.2" text-anchor="end" >0</text>
<path d="M77.6,2609.9 H82.6" stroke="#111" stroke-width="2.2"/>
<text x="73.5" y="2617.5" font-size="21.2" text-anchor="end" >-1</text>
<path d="M77.6,2687.3 H82.6" stroke="#111" stroke-width="2.2"/>
<text x="73.5" y="2694.9" font-size="21.2" text-anchor="end" >-2</text>
<text font-size="24.5" text-anchor="middle" transform="translate(19.9,2534.5) rotate(-90)">pooled screen</text>
<text font-size="24" text-anchor="middle" transform="translate(44.8,2534.5) rotate(-90)">log<tspan font-size="15" dy="4">2</tspan><tspan dy="-4">(surviving/uninfected)</tspan></text>
<rect x="98.8" y="2532.6" width="4.8" height="17" fill="#111"/><rect x="159.3" y="2533.6" width="2.8" height="8.5" fill="#111"/><rect x="218.8" y="2533.6" width="2.8" height="8.5" fill="#111"/><rect x="278.3" y="2533.6" width="2.8" height="8.5" fill="#111"/><rect x="337.8" y="2533.6" width="2.8" height="8.5" fill="#111"/><rect x="396.3" y="2532.6" width="4.8" height="17" fill="#111"/><rect x="456.8" y="2533.6" width="2.8" height="8.5" fill="#111"/><rect x="516.3" y="2533.6" width="2.8" height="8.5" fill="#111"/><rect x="575.8" y="2533.6" width="2.8" height="8.5" fill="#111"/><rect x="635.3" y="2533.6" width="2.8" height="8.5" fill="#111"/><rect x="693.8" y="2532.6" width="4.8" height="17" fill="#111"/><rect x="754.3" y="2533.6" width="2.8" height="8.5" fill="#111"/><rect x="813.8" y="2533.6" width="2.8" height="8.5" fill="#111"/><rect x="873.3" y="2533.6" width="2.8" height="8.5" fill="#111"/><rect x="932.8" y="2533.6" width="2.8" height="8.5" fill="#111"/><rect x="991.3" y="2532.6" width="4.8" height="17" fill="#111"/><rect x="1051.8" y="2533.6" width="2.8" height="8.5" fill="#111"/><rect x="1111.3" y="2533.6" width="2.8" height="8.5" fill="#111"/><rect x="1170.8" y="2533.6" width="2.8" height="8.5" fill="#111"/><rect x="1230.3" y="2533.6" width="2.8" height="8.5" fill="#111"/><rect x="1288.8" y="2532.6" width="4.8" height="17" fill="#111"/><rect x="1349.3" y="2533.6" width="2.8" height="8.5" fill="#111"/><rect x="1408.8" y="2533.6" width="2.8" height="8.5" fill="#111"/><rect x="1468.3" y="2533.6" width="2.8" height="8.5" fill="#111"/>
<text x="407.2" y="2574.8" font-size="24" text-anchor="middle" >50,000</text>
<text x="697.4" y="2574.8" font-size="24" text-anchor="middle" >100,000</text>
<text x="995.2" y="2574.8" font-size="24" text-anchor="middle" >150,000</text>
<text x="1291.2" y="2574.8" font-size="24" text-anchor="middle" >200,000</text>
<text x="1339.3" y="2574.8" font-size="24" text-anchor="start" >bp</text>
</svg></div>
<script>
(function(){
var D="UUWUTTU.UVUVVXV.UTTZWVV.TTRTRRQ.UVUUTVV.TRPPOOQ.USSRVUS.UWYUWVR.UUQVLSV.UUUPTST.UUTPQSU.UWWVWXZ.TTQRPQX.TRRQRRO.TOQRPSR.UTVPUST.UXWVTSX.VVWYUZY.UVTTRUT.UWTRUWW.UWVUZWY.UVWUVZW.UVVVUVW.UUTWWVW.UUWTVWX.UVWWYXY.UUWUVUV.UUVVXWV.UVXUWXY.UWWVWVW.UVUUUVU.UTTTTSS.UTQQSUS.VVUVWUW.UVRXWWV.UTUQWTT.UVRXUUV.UURSURO.USTTRSR.UWVXTZV.UUYTUbY.UUVVXWR.UVTRRTT.UUUUSNN.URROQWP.UTLTTSJ.UQRKRSK.UTTPURT.UWURUUR.VXabaaa.USNSRSH.UVTUTWT.UVVWVXY.UVWWWVW.UVWWWWV.UUVTUUU.UUUVUUU.UVWWVVW.UUUUUTT.UVUVWVW.UUWWWWW.UVUUUVV.UUUVVTV.UUUTVTT.TSRQTUP.UTTVRRQ.UTUVUWU.UTSTUQT.UWWVVWV.UTUSTPT.USTVXRH.UVTULPT.UTSUWRW.UTWVPTN.URSOUVR.UTVTSUP.UVRQOMM.USSUUSU.TSQQRLN.UTTRRTU.URHCEET.UUUVZZX.URTSQQB.UUUXXU2.TVcYXWW.UUUTTTT.UUSUSSS.UTTISRE.UTkMTTU.UTfSSfS.UHRTSQS.UTPTGTU.UTTTUUj.UTTSSST.UTekASS.UhTTTTT.TSTTSOR.TSRSTSR.UUWVXWV.UURTYVX.UWXWabX.UUWWVTW.VUUXUZJ.UROSTQQ.TWUTUVV.URVUSTN.TSRQQOQ.URSSUSR.UUVTUVV.UWYWWWW.UTTPTRR.TOROQNZ.UVWUTWU.UVVUUWT.TUROLTB.UTYUXWZ.UVUTVVU.UUTUWUU.UTUVUTV.UUTSUTT.UUVVTTV.UUUTTST.UTUUTTS.UUTUSUU.UTVTVSU.UTSTRSS.UTVUSST.UUTSSST.TTWTVSS.UUSQUUI.UTRUWSQ.UTRRSRS.UUVQTSS.UUSRTSU.UXWXZWO.UTTSUPQ.USTRWRP.UQNMPWD.UTOUTMR.TTPRPTQ.TRROMPP.UTSUTWU.UVTVVYQ.TSRPPME.UUXVRWW.UUTRUVU.TSOOQV0.URQTUPR.UUUTTPS.UUUTSRS.UOiTTVU.UTUTUUU.UUVUWUU.UTTSTTT.UVUUUUU.UTSSRRR.UVVVUVU.UUTVUUV.UTTTTUU.UTSTTTR.UVXXXWb.UWXUaaQ.UUSQRRR.UTSPTQR.UUSSQUV.UTUSSTS.VWaWYYI.UTUWWVU.UWUXaUU.UTPUVXU.UUVUYTW.UUUSWTO.UTUSVTR.USTPQUS.UVWQVPX.UTTRVUN.UXZSaXX.UUUYPRV.UVVWSRA.UUXVVUV.UVUVWVX.UUTTTVT.USfUVUX.UVVTVWU.UUWWVUW.UVUVVWV.UUUTTUT.UTUTUWT.UUVVVXW.UVWWWXY.UTUUTVV.UVUUVUT.UTRSSST.UWVUYVJ.UTSTTwV.UROQSQO.UUUTVWU.UTSUSTP.UXWYVWK.URQSUPX.UUVNXSR.UOOVPTU.UUTVQVQ.USTTTUG.UTUSWTM.URSLQQk.USQPMOT.TPTNWPT.UIE6GAF.UVUTPSQ.TVTPQQO.UVWMTTQ.VQRTLSM.UUTTSSR.UJbSUTR.UVTTTUU.UTTSRSS.UTSTSSS.UTRSRRR.USTSTRS.UTSUTUV.UTVVVVT.UTSTSUG.USTSSST.UTSTPRH.UTQSSTM.UWXXYom.USTURTR.UWYYZXU.UUWVQTT.UWZVXWS.UTSTRSS.TWVUWUT.TTQPQQU.TTSNTVR.UUUURSF.UUVQXUX.UUSPUVM.UQTQVTS.UTPQSOL.UPEKBAB.TVUWTWU.UTWUSSK.UVTWVTR.VTMQOOV.UTTRSSS.UUaUSSS.UUTSVTQ.UUUSTSS.USRSQSQ.USTSQSQ.UTSSSRS.UTTTSRR.UUUVUUU.UUUVUUU.UTTTTUT.TSSSTWQ.TSQSRSK.UWXXVyV.UTURUSQ.VYaXYYX.UTSRUSo.UVXYVUO.UUTWVSP.TSTPRRW.TRVWWSR.UUVMSVU.USVQWUI.URWSSRU.UUXVRPP.UUUWTTW.USRQORQ.UOIBEA1.USTZTZv.USMNOOA.URTNUSJ.VUPTONS.UTRSRUQ.UUdTUVV.UTTTSST.UTTTSRS.TSQQQRR.URQSSSP.UTTTSTS.UTTSTRR.UUTSSSS.UUUUUUU.UVVTSVW.UUUTTTT.TUSSQOJ.UXZWYxZ.USTXTRU.UXWWXXa.UWXYWZZ.UVXYWTN.UVUTRPX.UUWVTPR.UTVVWTQ.UTRSMPO.VVXXYVO.UUUTVTT.UUVSTRV.UURVPWW.UTUSRRT.UUTUVVW.UUURUUY.UTQQRPS.UUVQMSO.VXUVYWJ.UTTTSTg.UUUVWUW.UTMUSTU.USSSbQR.UTTTTTU.USSRQRP.UVWVUTV.UUUTUUT.UTVUTTU.UTTUTUV.UUVVWUV.UUTPRRU.UWWTYXW.UVVUVhU.UUSVTWW.URSOPRA.VYXYYZW.UVUWWVK.UTQXTTc.TOOPRMO.UTUYXWV.UQSNONQ.VSTWYTS.UTROSVU.TQPNQVU.UPUXXVO.UUQQMPT.USRQRUH.UWRUWVX.UVRVUUV.UVWYTWX.UUWWVXN.UUTSVUT.UUVTUVU.UTQRUTT.UTSTWSU.UTUTUVU.UURRSSS.UUTWSTU.UUVUTVT.UUTVVVT.UUTTUUU.UVVVVVV.UUWRRVZ.UWWWXaM.UUUVTkW.UUTUSUT.UTQTRUP.VXXaYaZ.UWXYXXM.UVXXUXZ.UTXVKVU.URSUOWV.USTVSVW.UVXYWXQ.UUTUNTX.TRRSOPN.UOWZXVU.UYXUUWV.UVQWXZb.UVVVVVW.UVWWUXV.UVRUSVX.UWaYYYI.UUSRSTS.UUUTTTT.UTOSSTT.UUVVeTV.USTTUTT.UUUSUUS.UTTSTUU.UUVUVTQ.UUTTUSU.UVVVUXV.UVUVTVX.UURPQRN.UWUXYaY.UUZXWVZ.UTTQSWT.UTUUXVY.UUTXUXW.UTWVWUP.TSPUUKS.UVYYWVj.UTQWUYS.UVWSUWS.UTTQSQR.UUVTTNR.URPSTSQ.ULZWWXb.UVSYYWX.UXWWYZQ.UWSSWTZ.UTUVRSU.UURQPRO.UWXZWaM.UTTSTSR.UTTSTST.UTPTSTU.UUTTfUT.UVWVUWW.UUTUUUV.UTTTTSU.UUUTTUP.UUUUUSS.UVUVWWV.UVVWWWV.UTTPPTS.UYYXVYW.UWUVYRU.UUTTUUT.UWTUVWT.VXWZXYZ.UVSUWWT.UTTSQTO.UVYYRWW.UVVWTRj.TVTQXVY.UTSSRMO.UWWXWaS.UUSRPSI.UUXVUWT.UUQMTTU.VUVVVVV.USXXUVY.UVWUVUZ.USORNQR.UUUaZae.UUTTVVT.UUSTTTT.UUOTUTT.UUSTdVT.UVVVWUU.UUUVUUV.UYSTSRd.UTTTTTN.UVVVWVV.UVVWUUV.UVVVWaX.URRPTWR.UUVTWVW.UUWXWXX.UUSWXUX.UTTVWTn.VWWUYWX.UUVWZVU.UUUUXUX.UURTUOV.URRPPRa.TTRRQTX.VTSXRVU.UWWSYXV.UURTTSO.UTWUTWI.URSSRTT.TTUUTTS.UWWWUNK.UTTWSSR.UTNRPQR.UVVUVTb.UUVVWUW.UUUTTUV.UUOVVVV.UVUTYTU.UVVVUVX.UUUVVTV.UXTVWSX.UUTTSSQ.UVWWXWW.UUVUWUU.UWXXXaW.UUVTSRS.UUSTXXR.VYaYXZa.VWaZZaZ.USVVVW8.VXXXZXZ.VZYYWYa.UUWYWYR.USUSUVW.USPMSPZ.UTQOLPJ.UUYZYYY.UWWVYYh.UWVVYXX.UUUQWXV.UVTUTKU.USUSQUT.UVSWTRG.URWPTVR.TRSRURQ.UVWYVTy.UVVWWWY.UVUUXWW.UUMVTWU.UWXVhWV.UVWVXXV.UUUVUUI.UXVUTVU.UVUVUUP.UVWXVWW.UUUUUTT.UWWWVYX.UWUYYXW.UWZYVbc.UYaVcbc.UYXbaZf.UWWZXZW.UZacceg.UWWcZae.VVWVZWW.USRTQUS.UUQOOUX.TSPRRPP.UVVWNSY.UWXXYVY.UUVVYRa.TSSNRQO.UUVQTTR.UUSUVSU.UUUTTTH.UUXUVVM.TSTQNQP.UVXXVWc.UUUVXWW.UUUVUTT.UUUVUUT.UVVVUVW.UUVUWVV.UVVWWWV.UaVXXXX.UUUSUSN.UVWUWWW.UVVVUUU.UUWUWdV.UXaZVcq.UZVWTXG.UYXZaeV.UZVXchV.VXcfgcv.UWXcYit.UXYXQay.UaXdeXY.TWYVRYp.TTYZVby.TSRWRVS.UUXPZXQ.UYbWaZX.UXVTWbT.TTVXVQL.TWZUUQQ.UUVVXVm.USTRXQP.UWVSWSV.USTQTRP.UUVVVll.UUVVXV9.UUTUTTT.UVVXVWV.UUVTTUU.UUUUVWV.UVWWVVW.UYWXZYY.UTUUWUO.UVXWVVW.UUUUUUT.UVWWVYU.TUSQSQj.UUVVUSU.TRRQMPQ.USSTSZS.UWUZXXr.TSPONRg.TPPPLMy.TSRRQTQ.TPLMRPe.UVUUTVv.TURRRRM.UVRSMVS.UTQNLPP.TRTOPOJ.UTQRORI.TQPOPNK.UTSRNSR.UTRNSQR.USPSTVa.TSOPPRG.TMFGOdf.UUUUUUU.USSTTSS.UUTUUUU.UVXWVUV.UVVVVSU.UTUUUVV.UWUUSSU.UUTUVTO.UUUTUUU.UTSSSTS.UUUVVVU.UUTURST.UVVTZUX.USROQUR.USSTSZN.VVXWWbJ.UUTTURR.TTTTSOQ.TTQSRST.UUUPUUQ.URTTUQN.USWQQQP.TUWTUSW.UTTRRUU.TSOVRQQ.URTQQPR.USURSRT.URSSSQP.UWUWWQu.UTTUTVg.USSTOR5.TRcXWNU.UVTTUTU.UTUVUUW.UUVTSTS.UWVWWWV.UUVVTTV.UUUUTSU.UUUUUUW.UUUUUU7.UVXUXUW.USUSTST.UTTTUTS.UUSTRTU.UTRWWUT.TRPRTPR.USSTSSO.UUXYTTN.UWTUVTV.USTQQQO.USRPTVS.UTPSPNO.UUWRUXL.TUSQRIO.TRTPPUR.TSRQQPR.TSNPPRO.UTOPRRS.UUVVPMQ.URSORRT.TVVYWVU.UQVRTXf.UTTUSS6.UWWfZYV.UUTUUUT.UUVUWVW.UTTSUST.UUTTTST.UUTTUUS.UUTRTTR.UUUUUUV.UUTSTVT.UVWWWWX.UUTSRRU.UUUVUUT.USNQPRM.TRQQOOM.TRQKMJ7.TRRPNRP.UTSTPPC.USSQPPR.TTRQQPL.TQPOMSP.TPPPOPL.TSQVPTX.TSTQQSS.TSTUNO0.TTRPHOQ.UROMQMN.UTSPTRP.URRTORT.URVNPST.USTRNQR.UTRRPXe.USSXPR3.USUWVbX.UTUSTST.UTUTUTT.UTTSTSS.UTTUSTT.UUSTTTN.UTTSSRT.UTUSRTS.UUTUUTU.UVUVVXV.USSSSSU.UTTVTVS.UUVWVTR.USTSPSP.UTWSTTG.URTRTVR.VVUWYWO.UVVTUSW.UUVZXTW.TUTXTWW.UTZZXaX.UVUTUVg.UVWVTVS.UVXXXWX.TUUTPOU.UWRXWYi.UWWYYUX.UUTRTWN.UUXUXXZ.URVVXVZ.UUMRQUc.UXUYZYd.Vddijni.UUWVWXS.UUVUUTT.UUVWWWW.UVUSUU5.UVUUTTM.UUVUVVV.UVUXWXW.UUVVWSU.VVVXXWW.UUVWVVW.UVUUUVT.UWYTTYT.UTSPRRT.UVUTVSR.UTFVTSV.UVVXXYR.UVUTUWT.UTRTTUW.UVVWXVV.UXVXSVN.UTOSUVg.VVVRUXU.UTTUTTS.UUVVWRV.UWTXWWa.UTWXVWU.UTQPQQS.UVWYXYT.UWUTQZX.UUWXZXn.UXYbXWZ.VcZhhcf.UVXYXWU.UUVUWVU.UVVVVWX.UUSTSTS.UUUTTVQ.UUWUVWU.UVWWWWW.UUUTTTV.UUUVVVV.UWUVVVT.UVTUUVU.UUSTTTR.URORSQP.UUVWWYW.USEQSSQ.UTUTWTm.UVVVTXa.UVVVSVS.UUYVVYZ.TSSWMRT.UTVOVUi.UURSPRV.UQSRUPR.URVWVXV.UUWPYXO.UVWUVXP.USPUQST.UVUXPTT.USVSRZV.UUYWTXa.VRVUXVT.VaegqkV.UVWVVWR.UUUVVWU.UVUUWTV.UUTTTTS.UVVUVUP.UUVUUUU.UVVVUVT.UUTVUUV.UUVTWVU.UTTTTTR.UVWUVUY.UUVQSPV.UTUUUSW.UUVUXWT.USMTVRR.UUQRRQL.UUSTSWV.UWSQUUQ.UXRWVVX.UUQURRS.USSUTU7.URTVTUP.USPNONQ.UTWXRYS.UtTSSVU.UTROQTS.UPWUVVV.UjUUUVb.UUURRVY.TVTUVXX.UUQUQWR.UcYcskk.UVWWWVP.UVWVVVU.UVUVVVW.UVUVVVU.USUSTRN.UVVVXXW.UUVUUUU.UVUUTVT.UUTSSUT.UUUUTSS.UVWVVWW.UWVTYWY.UVUWXWa.UUUTSVP.USUUUVV.UUWVVSL.UUTVYXV.UWXaWZ8.UXSWZTU.VWUWQWQ.UWVWWWF.TUUVTUT.USTRPSS.UTYYVWS.UtXPWYY.UTUVMSM.USVTSTR.VkVWYZY.UXZXYZY.UVWVXRU.UVVXUXW.UXXaZYW.UVWWXWQ.UVWVWWW.UVWXWXW.UWVWVXX.UUVUTVQ.UUXXYYX.UUUVVVW.UUUVVUU.UUTTUVV.UUWWUXX.UWWVWXW.TSSQQOR.USTRPPT.TSRROPP.TRPNNQO.UVVRSPS.UeRSPTR.USTSTVL.TQQKLNJ.USRPPRR.UTPRLPI.USRUNPS.UTLPPSQ.TRRQKDP.UaOPQPL.UPRPLTP.TRRNNQQ.TeRRNRS.UTUOQRT.USNMPQM.TVTTRUT.UUjjmim.USTRSRS.UVUVUVU.UUWVUUW.UTTSSRT.UUUTSTP.UVVVVVV.UTTTTRS.UTURSTR.UTTRRUS.USTRRSQ.UTUUSVT.UUVRTVS.UVWVUTT.UVUUVRG.UUXVXUT.UVVSYYW.UkVTVVV.UURSUSO.UQRMSN7.UQQOFKR.USVTQXM.TRHGPRR.UPOUMRP.UTRRIAL.TrRNVLR.UPKPOQP.UONKOPN.UkVYQXT.UVXOZXG.UVWKWWX.UPWSXXU.UYbacca.UUUVXWW.VWWVWXX.UWWXWXV.UTUTTTU.UVTVWVS.UVWXWXV.UVVVVVX.UVWWWWV.UWWVVYX.UUUTUUU.UVUWXVX.TQNOPMN.UTPOQPP.TRMNNNA.TTTRRQP.TQMPQPN.ThZRNMP.TRMOOPE.ULNOK60.TMMLEAH.USOQMME.TOLLA6F.SRTJHOC.TPcNONL.ThDLMK0.TMKKHGL.TLGJJCG.UaSPTNR.UVUSSZa.SSRTPRO.TRTSPRQ.UTTRssw.UUUUSTV.UTTTSTS.URRRRQQ.UTSTQQQ.UTTTSVT.UUVTTSS.USRQPQQ.UTTSSRT.UTQTRSR.UTSSRRQ.UUUTUUR.UKCC9G4.USTRSUR.TOLMMNI.USRROPO.USONLPP.UTeTOPP.USTSSQM.SQMKPIA.TQLLAJH.UOTPUUT.UQQSAMN.UQcQPRR.URWSSPQ.TjOMLNM.TRPONLG.UOOOENH.UjTTVOR.TWXYXXV.UULWRWQ.USSWVSQ.UXbabbZ.UUVUUVV.UUVTUTU.URSSSQK.UUUUTVU.UTUTTRT.UUWWUVW.UTSTTUK.UVUVVUW.UUUTTST.UUIVUVU.UWWXWVV.ULFHB45.UILGHG7.TJC89C0.URPMMJJ.UQMOOQN.UfgPSTT.UTQPRPK.UUTMOTE.TTRSQQH.URSSTRL.URSQMNh.USXTOIi.TQQNQLY.TPBJJJd.UONMDMp.UGGIMLk.UdSTISU.UVNRVJX.UTTSQET.TTTQHRU.Vcfhrsh.UTUUTUU.UTTRSRT.UTSTTST.UTTTKUT.UTSMRRR.UUVVUVV.UTUTTHT.UUVVUST.UTTTRRS.UUUUNTS.UVXYXWT.USQRRRT.USPQOQL.ULFBAEE.UIJF768.USQSROQ.UbhQRSR.UPMPMOQ.UTGQNT8.TOCLPMJ.USRNQKR.UTQRGNR.URkLTMO.UQdKLHF.UPPLPMO.URNOJJX.T7QFMMM.VsUXWUM.UUPXULQ.TRQTTIU.URVQLPK.VZcgvtm.UVUUUVV.UTRSRTS.UTFUUUU.UTUUUJW.UUTUSVT.UUUTTWX.UUGUITU.UTTTTTR.UUUTGKT.UVVIUVV.UVWVWWO.UTQSPOO.UVRTUWR.USRTSPT.UUTWWRW.UGE4C60.UUhRQTP.UTSQSRM.TRRTSMC.UQQNOLC.USREVPX.ULPLUMO.USgMKPR.TPbKI7D.UTRSOTO.UTRTQRn.ULMSO9P.SUXVPPN.VUUbaNZ.UQOSNOJ.UTUNSPU.VZddfdr.UUUIUTN.UUTTULS.UUUUTTS.UTUUTUX.UVUVWWT.UUUVVVX.UUVUMUU.UTTTSTT.UWVVWOV.UUUTVUF.UVVUWVO.USSNPPQ.USSRROS.UTTRTST.UVSUXWU.TQNPNKK.UZZFF9D.UMMLGLR.USIRONF.TSNOJN8.ULQQTOP.STQROTG.TSZFGPC.UPLFNLI.UTQQSTP.URTRPQh.UJTRVSS.VUWVOQT.TYSKXYV.UUXVZJY.TYZTZdY.UWWXXXY.UUUUTUV.UVVUNPV.UUCTUUU.USPRJTU.UVVWVHW.UVWWUXQ.UVVLVWV.UUOVTVW.UUVWVUX.UTTUTTU.UVWUVUP.URPRPNP.TPMKLLL.URSONRM.TQPPNNN.TOMMMPM.TPYQOLN.UPNIHCG.USJQNRT.TLPGMC5.UTRPSTN.USRTPMB.TKqTUDM.UVPMORQ.URUOWNP.UTURRPO.UEVRJVT.UVWUPWW.UUQRQWS.UUUTLLR.UVVLTRP.UTTSSVU.UUUUTUT.UUTRSTT.UUSTSTS.USTSSSW.UUUWTUV.UVVVVVU.UUUTSRS.UUTSVTT.UUUTSSU.UTTSTUT.UTTTTTT.TSUTTRR.TRSRPL5.UUTTUSU.TSTOSPW.UVVVVSQ.USdUTQV.UVVUWWe.TPSORPN.RKMN6K6.TSTWUVK.TSPSNBO.SOLR9NI.TNQSPON.UQOPQMG.UUTQNEN.T9ONMRG.TWaVccW.TSQOTTT.TUYRUGA.UVWPUWV.UUTWVTU.UUUUUTT.UTSRSRR.UTTTSSS.UTTTTQV.UTUUVUV.UVUUVWV.UTTSSSS.UUTSTTU.TSSRRSR.UTTZTSS.UTUUTVU.TQQSPOP.UTTUSSU.UVRSUUR.TQQPNMd.UUTSUVW.UTSTSUD.UUTUTTe.TQNJPML.UOJFQRG.URTOUPg.UURPQIL.TSMTOWB.URLQFRF.TTQRPQS.SSTRUUQ.UTRRNRS.UVTKUOV.UWPTPNR.VWVPYQH.USMWVUU.UTUSUVh.USSTTSS.UTTTSRR.USRTTST.UTTSSRT.UUUVVVV.UVUTTVA.USSRSQR.UTUTSST.UTSSSST.USSaQRP.UUTSTS5.USSPQQX.UUVXWUU.UTTTTWE.TSRPSQb.VVXXWXa.UUTUUVT.UUTTTTP.TQNPOSQ.UWXVVVG.UPPVOSQ.URSgSRR.TROQQOQ.VPOWUVX.STSSPQP.SLSJRDM.UOTTWOO.TQUIPRP.URQTWWG.TWRYYMI.UVSXTJP.UWVWWVq.UTSTTTT.UWVVWVW.UTTUTUS.UTTTUUT.UUUUTVV.UUUTSTU.UTTUVUT.UTTTUTS.UTRSRRS.UTTbSRS.UUUVSUS.UTSQVSW.UTUVWTU.URTRTQR.USSTXSX.VUTXWWX.URRSQRQ.UUVXTVU.UOQR6PE.UTVWMU8.SQOJLQb.UKMiIPm.TURRBEP.UUTTLQO.USSRSUT.USVUQQU.USOSQSP.SUVTQRU.USUOPRN.USXUSSY.TUVSSXU.UUUWXXs.USRSRRR.UUTUSUU.UTTUSTS.UUTUTTS.UUTSTTT.UUTTQTT.UTUTTST.UUSRSTS.TSRRSRQ.UTTcSTV.UUUVTST.TRRQRTQ.UUXXUYW.UWYUWWW.VWXXYYm.UXWVVWX.UTUTUTV.UVYXXQV.TLG8IC6.UJHGD19.TPSRPNQ.TSQfQLN.SNKGGIG.UPSLKJM.UPSBIMN.URMMEPK.TQNPHRC.UUKRRVR.USQQQNO.TQOOQQP.TORGORD.UUVUUYr.USRRRSP.UTSSRRS.UUTSRUT.UTTSQPQ.USUTUTT.UTRQRRR.UTTSSSQ.USTSSQQ.USSPSTR.UTUaTUS.UTSSQRe.VZaYeej.UXXYWbb.VZaZaXb.Vaaecbw.VZdcieg.VYbZbZe.Vbegfii.UNMDEFC.UDIDJCE.UKI7JEE.TUTYOQN.URMRQLP.UQTPPPJ.TQTUUPP.TNDPSQL.TOQEQD0.UOUUKPS.UWUTXU5.UUXTTRG.TSQPRSV.VWVVXsn.UUTUTUS.UUTUUTU.UUVWVWV.USQRQRR.UUVUVVT.UUUUTST.UUVUTSU.UTSSTSR.UUUUVUV.UTTTSUU.UUTVUTV.Ufprlpu.UVYWYSd.Uaccbfb.Ucclmqy.Vcgfnnj.UZgjnXj.Ufafakl.TI66103.UHDFHAE.UMFE0II.UTRUUSO.TPNIBEB.UQRSQQH.TOLNIGJ.TMLBIHH.TQNMPL9.URRPSRF.URUNURS.TPRQPNP.TSQTNQK.UVVWVqr.UTTVTTV.UUUTTUT.UTTTTTT.USQQPPR.UUTQSUS.UTUSSTU.UURTTUR.TTTRSRO.UTSTTTT.UTSRQPQ.UVVTUUU.Vjmtlvy.Uccbfif.UdaZcYf.UbXkmbk.Ucgjepp.Vcebodj.Ujbgnqn.TH809A0.UOHFHF5.ULE5IB3.TMNLF9D.UPPKMIE.USPMLRR.TQNLI6M.TKOKJH7.UNJLMJG.TTFRPTT.UUXWTWT.URTMRRP.TTOSOLO.UUUVYmj.UTTTUTR.UTSSTTR.UUTUTVT.UTTSTQR.UUTTRQT.UTTTTTS.UTTUUSl.UUVUUTP.UTTTTSS.UUUTTST.UUTUVUV.UZaYXbT.UUWTUUV.VUYWTZW.UUWXRTY.UVUXWWY.VVXVZUW.UWcecaf.TNFGMGI.UJEHCE7.UfIJE79.ULLkBGH.URIQMOQ.UNQNQPH.UROOMQL.TPHAaPL.TRLJMLF.USLRUSQ.UULUWDS.UQPQNFN.TRRNOJO.UWUUSPV.USSTSTR.TSQSSRQ.UTTUSRT.UUVTVVW.UTUVTTL.UTTSSSQ.UUVTUUU.UVTTUVP.UTTVWTT.UUUTUTT.UTUUUVT.Uhrvgqs.Uiqrujs.Uemitwv.Ugklpmv.Ufoixlo.Udgokgk.Umldqdy.TTLTSTV.TKLC91H.UiQJTSS.UMHfBLF.USKROK9.TSSUQPP.TUTZWYU.TQRPfMV.UQMURQJ.UOTOHSU.URNHO9S.URROQW0.TYHMLZD.Uvfyyoy.UTaTSad.UTUcTTU.UTTaSSV.UUfhVfZ.UTUUUSP.UTSSQaY.UbSTTfb.UYTfScY.UUVUeTy.UUbeSRT.UUcfabS.UVXVYXa.UXaYZZd.VZYXaZb.VZWZbcY.VXZbWeZ.UVTXTbZ.UUVTVZV.USVVPUX.UXOTTYW.UmWVTTZ.USMJUVc.UVVUUTU.TPVTUFS.UYXcYZa.UUVVfVq.TOXUSU9.TFG6B3T.UUHHGM0.TQISLJR.TQPOPQO.UUYWVZS.UUTVTTW.VWXWXWY.UTTTUTa.UVUVTTV.UUTVTTE.UUUTQTT.UUTUTRT.UTVUSRP.UVUUUVT.UUUVUVT.UTRTSTT.VXbaZZa.UUXWVWa.VXXaVZU.UUXVTVX.VVXYbZa.UVVVUXW.UWUTZVX.UQUTWSK.UTWVSWT.UyXUTRT.UUUTSVR.TJKTLLP.USUIJQR.VWWXSXW.TQRIcPT.UVTTDO3.ULKIEF6.UPKBCE1.TJNOOKL.TKNJLNL.VVVXVWV.UUUUVTU.UUUVUTV.UTTSRSX.UTSURRT.UUUVTUI.UUTUUSS.UUUUUSY.UVTVUUU.UUTTTUT.UUUSSTT.UUUTTST.UWYZWWa.UWYXWYT.UWWVYWV.UVVVXYX.UXXWYWc.VYYYbXW.UVWUWZb.UXVRXTH.UTVVSST.TtRTNLN.TTTSSOV.SSKTLPM.SQQMNPO.TWSVQST.TKLRTOO.TSSTSQI.TL6EBH3.UQL50E0.TLCPOJJ.UQRKOM0.UYccdRU.UUSUSTS.UUUSUTT.UTSTRSZ.UTTSSTU.UUUUUTP.UTSRSRT.UUTVRUd.UTTSSUU.UTUSTUS.UTSTTSS.UUVUVVV.VYaZcec.VWWXbXX.VYbXXYV.UWXWYZZ.UUVXXYZ.VXZacZe.UVaVXZX.USUUOLR.UWUMXSW.UlTMXUS.UTVTZTE.USQRPUD.TTNJOPT.SURUTIT.TQJNOPO.UTVUXUH.UT5GG7D.URJ0A2K.TQOQKEM.UTLLHO0.UYkblTW.UTTTTRZ.UTSZTZZ.UTTcSRg.USebSPR.UUSbSUM.UTSVTcV.USTSSSX.UgUTUUe.UTTUTbb.UTTbTUT.UTVVUUV.VWaVaac.UUXVXUW.VWXYZdQ.UVUZXZZ.UUTSTTT.VZZbfdY.VWWWWVY.UTSQOOP.UYVXWbI.UVUWRUV.TSSKQSH.UUSQWRG.UTTRMKS.UUTSROQ.TTEQLLO.USUSMSD.TTOK3FE.TPM0076.UPONKIN.URRPLUQ.TSTQSSU.UURSTSS.USSSQPS.TSRRQQU.USSSRSR.UTTTVTT.UTTTSSU.USSUTTY.UUVTSUU.UTRUUSR.UTRSRSS.UTSSUSp.UVXVYZV.VVUVaVS.UVWYZaP.UUXVXXY.UVYVVVS.UUXTWUW.VUWXTUW.TPRQPPC.TRTMYWV.SUUJQWY.UTVRRXY.UURVTUs.USLGNWP.UUSTUUU.TSRMQRL.USVOSP0.TRNJA9L.USJ787F.TJLKHJL.UTRJRTB.USTRQRR.UTTUTUR.UTRSQST.TSRRRRQ.USTSTSS.USSRSRS.UTUTSTT.USTUSSU.UUTTTTU.UTQTSRQ.UTSTRSS.UTSUSRT.VYcbbaf.VXYYXab.VYbZZbb.VXYZZbc.Vaacefc.VXZYZXa.VWbWYZa.TWRXTTD.UUSSWXJ.UVXZYYY.URUTWWa.UUTUTSQ.UQUWVQU.VRWXWJT.UQJSOSN.UPUQQVR.UMKOLAJ.TSKLB3P.TONHEMJ.VLRUVR9.UUSUSTW.UUWVVWW.UUUVUUT.UUTTTUU.UTTSSUR.UUUTTSY.UUTUUSS.UUUTVTY.UVTTUTV.UUTTTUT.UTTTUVV.UUVUUUV.VXbYbYa.VYbYcXc.VYZbbbY.UYXYZZY.VZddbgh.VXcddce.VYZdcee.UNWWWQZ.UUTWPNW.UVSMRUS.UVXSUNP.UVUHUSS.USUVYWV.UTXRbZW.UWPXSTV.UQVLVQP.UKIECEG.TOM9030.TNNKJJM.USPJRRB.UUWUVSW.UPEVUWV.UUWUVVW.UUUUUVV.UUUVTUW.UUWTVVW.UTUTUTU.UUTTTUR.UUUVTUV.UUVTTUT.UUTTSUT.UUVTWWV.VXXWVWX.VVVYbZa.UVWXUVX.UUUTSWr.VYZZcaZ.UXYZZaZ.UWWaYYZ.TSRREPN.UQSSSPN.TSTRJPC.USIaURL.TSQLLNN.UUKSQUS.UWVSUIL.UVHRPRT.UTUQUNB.TSG8IDM.TRHK65D.SPLLIJJ.UOLLJD7.URSRPOP.UTUURUR.UTUTSSQ.USTSTUT.UTSPRRS.UURSSRW.UTRSQRP.UTSSSSS.USSQSRP.UTTSQTS.UUTSSTQ.UVVTVTW.VWabZZY.Vadghge.Wbfejjg.UXZbaay.VZddbef.VYbcedc.VWabYaZ.UULVWSU.UWWOYUM.VWXZYTc.UXYaWWV.UVVLVQT.VYYabYZ.UVURXWX.UUVUVWV.TUXZXXG.TWQAPIN.TUOHPL9.UQQQPNP.UNPIKOA.UVWUVXa.UUVTVVU.UVVUVUU.UUWUVVW.UUUVUUU.UVVVWWZ.UUTTTRU.UUVUUUS.UVTVUUV.UTTTUTS.UVWXVWW.UUUWWVU.VYbcefd.Vbbegey.Vadeidj.UYZbabY.UVXbXZX.Vbcbcgg.VXYafca.UVXUWdU.TVVQYWR.VWZYXUZ.URbLXbb.VVWXTMT.VZbacXb.TVKYWTU.TRTPQTV.TWWZUME.USOTALI.UaTWHFI.URONPOQ.UTSQNR3.UVWVUVU.UWTUUUT.UUVVWVV.UUVVWVU.UWVVWUW.UUVVVUV.UUUTVTS.UUUTUUV.UVWUUVU.UUWVVWU.UUVVUUU.UVVWWVV.VYYYYZY.VWVYXYY.UUUYUUU.UWTYWYU.UUTTUPT.VXZYZbc.UUXVUVU.UWVUTST.UWTSTUS.UUOQHCO.UXTXUVW.TPSMJST.UNRQTFQ.UPNMKFJ.UTQQIHO.TVRJQQA.TSHGO6O.TTJJ3B8.TPLJ7FK.UOBOOL9.TQPNOON.USSRRT8.UTSRQRQ.UUVWTWS.UTTTSSS.UTTSTSU.URQRQPP.UTSSRAR.UTRTRTQ.UUUUUUU.UUTTSSf.UTUSSST.VWZYbZa.UWYYZab.VWZXZXa.VWYZZcX.VXZZXbf.VYZZYba.UWYXaYI.UXMXWUQ.UWRWYWU.UTKPNUL.UXZaXWZ.UVXTXIT.TTUVWSS.UVRQTQI.TUUJJYQ.USWQOaB.UTIRGAJ.VTVIENC.UQOQMMU.URNPSOL.UTTUUVV.UTUTSTT.UTSTSQR.UUVVUWV.UTUUUVT.UTTVWTU.UUUVTTS.UTSTRNS.UUUVWTW.UUUVVVV.UUUVVUg.UVUTVWV.UVWTYWU.UUYXWYW.VWaYbaa.UVWWXWZ.VYZXeYJ.VXWYWeb.VXXZZca.UQRQQUQ.UVVNTJS.UUORKRL.UUTSRTO.UTSRTQV.UUVWSUW.TUVSTPJ.UTUYWRR.UTWZKXH.UTNJSQD.URTSMPR.USMOMNO.UPLPOM0.UbcgfWZ.USSSTRQ.UUSSTTS.UTRSRRQ.UURTSTU.UTTTTTV.UTTTSSR.UTSTTRU.UVVUUUV.UUTUTUU.UUUSUSX.UUUVVVW.VZYxZpa.VWIYXZZ.VNWZbsa.VXWZjXa.VYEacbf.VXxMmZw.VKZtacg.UrSTSYV.TVC7WWh.UDlWNTP.UhUUZjS.TBRRmOc.VkXBWiT.TYUYaaI.UD4SL9w.UVaakX1.UCIM7N1.U6QU61K.SQj7SKP.UOMOIW4.VWYHYjY.UTT5CTG.UVVeHKU.UTTTmTU.UTeUIQn.UBV6TUR.UUqHVAW.UDCqUUB.UTT4TEf.UTUUTSE.U9TT4UE.UVVTlUU.UTTVXVW.TTRRTPQ.UURQQUQ.UUUWTUS.UTUSSTS.USUUSUU.UTTTVSR.SRMMDQQ.URQQCWP.TSTSSSO.UTQLNRK.TPPFMLM.TTSTPMT.UNKTLTQ.UPIPRSL.TQSSNTO.TSNKNPM.TQNK1NC.SKOLCKI.SOKIM90.USSTTPQ.UTRRORQ.UTRTSTS.TSQRQQQ.TSWQPPP.TSQRQRK.USSRRSP.USTSaSR.TSRSRQO.UTRQSSR.URSPQPO.UUUUUST.UXYZYXX.VWXaYUY.UUVYWUT.VYXccda.UVTXSVU.VXWaYZZ.UVYZaac.UTWVUUR.UUXNVUW.TPVWUWQ.USWXYaj.UVVYRUT.UWSXcVZ.UQOSVOU.UTTTUZS.UVPWaYO.UROOKQQ.UTMR9OH.USQGA4B.URUQUTK.UUVSVaV.UUTTUUU.UUVTSTU.UTTSRRS.UUbSTSS.UTSSSSN.USTSTUR.UUUUZVU.UUWWUWX.UTUSTTU.UUTWUUT.UVUUVWV.VYXYXYZ.UWXVYYW.UUXUXWX.VXXZZZb.UXVXZWK.UWVVYVY.UXYXXYb.URTWVRA.TTZVUSY.TSbNWUJ.UUUSWTH.UROTRTN.UXWVRWW.UWVTTPR.UTSRRUQ.UTVWXRN.TQMOMM0.UQQL7P7.UUEJDO8.UUUSXV0.TRRTQRS.UUVTUTU.USSSRTR.USRRRRR.USgSTRS.UTTTTQP.UTSTSTS.UTUUZUT.UVUWVXW.UUSTSTU.UTUTUTT.UUTTVVT.VZXZYZX.VYYaZYe.VUYXYXX.VXYZYYa.UWYXaZZ.UWTVYUY.UWaZaYa.TTXWUSW.UWVNNYR.TMQTORE.UVRVWXg.UUVVWTX.USXYXWU.UYWPZXU.TRSUVPU.UWOULOM.TSPMPOK.TNHKKLD.UTID05J.UUUHTVZ.UVUTTWQ.UVUVVVV.UYTRRTR.UTSTSTS.UTdSTTS.USUUTUM.UTSTTTU.UUUUTUT.UVUUUUU.UTUSSTP.UUTTTTS.UTSUTSS.UVZaYaV.VZZbcYc.VXYWYVW.UWUXYab.VZZaaaZ.UYaabYY.VYXaZaa.UWRTJNS.UUXUTWU.UWlTLSD.UQTURVR.VWYVVaV.UVTTWXX.UXXWXOa.USQOSQT.URTXWTU.URUQLQP.SRONNMA.TRDO80A.UOJEYOi.UWWXaWY.UTVUTVT.UaUTTTS.UUUVUVT.USTUSST.UTTTUST.UUTUUVV.UTUTTUV.UUTVVUU.UTTUTRS.UUUVTVT.UTTUOTT.UVXWZXV.VXXcdbd.UVWWUSS.UWXWaZU.UVVUWWV.UZXZZdc.VYWWabY.TSQQHNR.TTSQPQQ.SVcUKJH.TRLRPFD.UTNVPSU.UPSUWTS.TUVRUTY.URMNLQS.USSJKIH.UTLPTRU.TNJM770.UMEE290.ULEA3J6.URPPOSO.USSRSRQ.UdSSRQS.UTSRQQR.URRQQPQ.URRPQPR.USRRSRQ.URSQQQP.USRRRRS.TSRPPQQ.UTTTTTS.UTSSQSS.VYZXbcb.Vabcdde.UXVYZWZ.VYZbYba.UVWZXVV.VZcafce.Vaadbef.UUWVSVW.UTYYVWU.UNYJMT5.TTSSMNQ.TVSWPWD.VVbYNMa.UWVYLUW.URXUJWQ.UQUKUQ0.STQTRQR.THOCNGF.TTE840H.TL9NGD8.UYehfow.UbTTSbU.UTTTTSQ.UaTSTUT.UTcbSTS.UTSTTRe.UTUSTVS.USSSbRR.UTTTbSd.UVUdUWd.UUUVdUV.UUUTRUV.UZZaZdb.VXXZbaZ.UXaYbbY.Vacfffe.VZdaYZd.VXXWZac.VYZabdg.UVSUUOC.TRMUYRc.URZSTTW.UVRQLNJ.UVSVUTU.UXVaWcX.UPVYYWH.UVWJTVV.UVTNSUN.TSQMRPT.TQMOML2.UT89I8B.TMJOCN0.Vihfolo.UfTUTcU.UUTTRUU.UUdUeaS.UcVUUVV.UgTVTUd.UTTSSUU.UUaTeTU.UTUTTUT.UVUUUVo.UUUTUUS.UUTVNVU.VXbbbcc.VYYbZdd.VYZZbcY.Vbegfge.Vabcdfh.VYedccZ.Vaaaddc.UTUUQUK.VYaXbfX.UOWVWRS.USWVVTV.VWSRULX.USTURUU.TROWdOa.UVXWVPT.TVRYZMK.URRPRRQ.TROMMQD.USHAHSC.UMDGDE0.Vgdyenq.UUUThUT.UUaUVWV.UUUUUTQ.UTfeUV7.UUVWVWU.UUSTSeT.UUTUVVS.UUUUVhT.UVVWVVY.USTUSUU.UVWVSVV.VWacXYY.VYZaaeY.VZacddy.Vbcbcgd.Wchhkji.Vaafijg.VZaaYcc.UVSMYVP.UXWVTXQ.UUfTQSh.VWYWLYT.UWXVZcW.UUWQUWT.TTURKR0.UTVUUXQ.USNWMWF.UOXRQSU.USOQKJI.UVNB6HD.UKD9D80.Vbdaeao.UUUTTVf.UVWUVTV.UUTUWTU.UTTTSST.UUTRTSS.UUUTTTY.UVVVWVW.UbVVTTU.UVVVVWa.UUTUUTU.VVWWRXV.VZXbabc.Vacdceh.VYaZcea.VYYabcZ.Wejkmki.Vbbfgbf.VXabfcb.TVWYZXV.UTSTVTJ.UTQSPUP.VVXWZWb.UNWWUZP.URTTUVL.TRORPPQ.UVXZWTr.UWRVUUG.UQVLQYK.URRdMRF.UVHEIJ0.UEOA200.UVVVUWV.UTUSSUa.UTTUUSR.UTSTUUS.UUTUUST.TSRRQQR.UUTUSSe.UUVUUVV.UaTTTSS.UUSSUUd.UUTTSTS.UVVVVUT.UXXWbVW.UVXYWab.UWUUTUU.UWYYXXa.VXZdZbF.UUVTVVX.UVVWVYV.TTOTMLO.TTMSVWK.TPGNOCH.UUQQRUI.UWWYYXZ.TSUSVPU.TUUTTRS.SNURSQI.TTTRQOI.TOWPPRW.TRNVUSI.TRIDH18.UQAC000.UVWTUYL.UTTEISP.UTKJRIR.USTLRRS.UUUTUUL.UTSRSQR.UUTTUSV.UTTUUTJ.UeFTTUS.USSSSRa.UUVMTUW.UTTUUSQ.UYWWWXZ.VWWWVTX.UWWVYZa.VXabcda.VYdYaeU.VYZaadc.UWXUYVW.UVYUWUW.UUMVRVC.VUTFSTC.UXSUUWL.VXWWZcW.URXWXYU.UVQUJTG.UWXPZVX.VVVVWPJ.TUSSVUU.VUWhYTN.TSB47F0.TNEB576.UJYZLUW.UBF8INN.UPDNIDQ.UHRTTRD.UVUWLWO.UTUTTSS.UMVWWQe.ULUUTTU.UcTTTUU.UUNVUTe.UVWWWVV.UUSTRMT.UUSWVUU.UUWWTWX.UUVUYUU.VWXXcba.UVYTVVL.VXaYZbb.UTQRSUQ.URSRTIH.UTVSRaM.UNTSSHC.UWLUUOV.UQXbXUU.UVUSWSV.UVPTYYV.UQTSUPU.UVXVNVa.TNKNUOP.UTRTTSD.TSRQNLP.TQRQQO1.UNKHKMF.UGI53MI.UDOL5MK.UOLIESG.UX3INP8.USOPOGN.UIUPSET.UTTTQTS.UUSGSVU.UUTTUVT.USRTQRQ.UTSRQEQ.VVYXYYX.UWbYXWb.UVUWTTV.VYaYZeq.UUVWVZF.UYaadbc.UUUUXZW.UUQVSUT.VVNYXPC.TUXUQTR.URWVWZb.VWXYSJX.UUSMTZR.TVXVaNd.URSRTNV.VUUYZZO.UTSWMTs.VUSIURI.UVTXTXT.UPVWXX0.VRKLKNK.UTLQJNR.UOSQOP0.UTRKPTL.UQOKGMN.UTRUNNM.UQNNIPW.UTSTSSS.UWUSUUR.UVWVVXT.UTSTSTT.UUTUTNT.UVUUVYV.VVTVrUW.UVWXXZU.VVWWZZW.UWTWVVY.UWWaYYY.UUTXXWT.UNVNQbQ.VYXYcdW.UWWVVUG.UUSTTVS.UVXUYWa.USUSLTQ.UTVVUTa.UUPYNQU.TRUaWbF.USRTRU5.UXWUNRZ.TVROVVS.TSVUWUB.UOJDNGG.UNOQMOQ.UPFOKEF.UPWKLYA.USHJRGT.USRKQJJ.ULQNOPL.UTTTUTT.UeVUTUU.UWWVVWU.UTUUTUS.UTSTSQT.UWXYaXX.UTRQcQR.TVVWVTM.UWVUUUV.UVWZXWj.UUXWXUU.UVWXVXX.UVWQQVP.UTNOYQa.UPLNSSW.USRROQf.UTUKRWS.TWVMXSb.TXUaVZV.UVTKZXU.UTPSLTI.UPSRUUR.UTSTPXP.USRQPQQ.UTRSHG3.UOIJOEG.UOMIPEY.UOLILIM.UTOISTI.UZDEJKG.UTMLJIJ.UPTLPHQ.UTTTTVT.UbUUUVT.UUJUUVV.UUTUUUU.UUUUTJV.VXaYbbW.UTTTdRV.UUTWSUO.UTXVTUU.UWaaaYY.UVWUWXV.VXWXYTX.URTTVGs.STPTPKr.UURTWRP.UQSRSPu.TTUZZZo.URZIWUY.TXYZYXe.TWZTWUW.UUPXXTX.TQSPPGm.UUTNZSm.TTRUQST.USUVTSE.UUVTVWU.UKLLNGK.UPSQOGM.USNOQOD.UXPGZVE.UPMQSlF.UQLUMNS.UUVUVTU.UUVUTTU.UTJTRTR.UVUVTVW.UUXWXRm.UWUXXXW.USTTjRR.UTVXVUK.UWUTUWW.UUVZTWW.UUVTUQU.VVXWVXZ.USOHSXN.STRQPOR.UNPHNVB.TSLQMEV.UTXXVVP.SSVWPHS.UTLUVSF.UUQRSQN.USVVURF.USNPNLO.TSPQUDP.TNRQLOP.UTTVRT6.UUSSTWV.TOHKKGB.UPQNNOG.UQKLPBN.UULGJGN.URNLLMN.UPILNLJ.UUTTTSS.USRPRPR.UTLTRRT.UUUUTVT.UUVUTTS.UVXUUWX.UVTVpVW.UVWUVaQ.VXXYbab.UVVVYWZ.UUVUUWV.UVVVTUV.USSVVWX.UTYSSWP.TWVWVSJ.UQNSVME.UWTUSUZ.USVYUVZ.UUSJQQd.UTVSRPG.UWOVYVG.TSTUTJB.UUQTPEc.UTNOSRG.SUUTXWH.UXZciZc.USTSSTR.UUODPNU.UMPKGG0.UZKGJKF.USRIROD.ULKHDRR.UTIDMGF.UTSUUUS.UULTSRT.UTTUSSR.UUTUTUS.UUXWXWZ.UUTSTRR.VVVXYbX.VUZYZXY.UWWTXXU.UVTWXUV.UUQURQT.UVNOXXb.UUSRVRT.UWTTUY0.TQMGSCN.USVUMQJ.UQOSTTT.TTREJPc.TRUVRSV.UVUSSQH.USMRKR9.TUSTRUa.USTRUPK.SQTLOQH.UVaWXaW.UTTUTUU.USTTQSR.UTTTTTU.UTTUTSS.UNJNLJH.USSRRRR.UJMEBDC.UTUTRSS.UTSRSTQ.USSSQSS.UTTSSTS.UXYYcYZ.VWXaZYb.VYcccdc.VYaZbZg.VXbYcbb.VXVaWWc.VYXXVZs.UMMTaWW.UVWWTMU.UTYUYVO.UUTRWXR.TSSRWSR.UVUNWWW.TUWSWUS.UWTXVXX.UXPZcYW.SSUTUOj.TNUDXWa.URWPTTD.UTWLTUX.Vbdgfgd.UVWWVXY.UUTSTST.UUVVVVV.UUVUVTU.UUUUUUT.UTSRQSS.UDC87AG.UOQNHHG.UVWVUWs.UUUUTTU.UVVTVVX.VXZYYXb.UWUZYYY.VYXabac.VbccdaZ.VYcZacy.VXcXcbu.VWZYaad.UVXUXWP.UXXYYZc.UWQUSQY.UVVRSUV.TPSKOUX.TPMVVbc.VZXbaWb.UROUXXS.VVQXMbT.UFFGBD5.TVTMIVY.TRSURNN.UTTYLJZ.VXYbead.UUVVVWl.UVVVUWV.UVVVXVY.UVWUXVW.UUVVVUV.UVUUXVV.UHD5CDA.URNMDBG.UKUPGHC.ULMPSDI.UWWWWXV.UYZVYZY.VYZZbca.VWaZZdd.Vbbefie.Vaeehef.VZadfcd.VZcbdeg.TUTURWM.UOWXUTW.UOUQQS3.SUSTSWa.UROMRPO.TQFOQUJ.UYaXTLY.TSSRSRN.SSSHQUE.SHFBCAC.URTTSLB.T1RALPO.TRTQPHS.Uedhlel.UTUTTTT.UUTUSST.UUUVUUT.TSSRRRR.UUSTTUU.UTVTTUT.UG99239.UJKKOFI.UNC7CAB.URIRLMK.UUVUVSU.UVUZXYW.VXaabae.UXUYYbc.UXYYYZc.Vcffomh.Vafbiji.Vehmmnk.TSJHQPE.UQSSRQN.UUPGQPL.TTPONCa.SUSQHIK.SRCMLEK.UVVTVWT.UTLVPSG.SRRTTPF.TMFHBEQ.TQMQDOL.UHORMRL.TRRQPMP.Uaejhqe.UTSSRQR.UTRRRSR.UUSTSTT.USRROPQ.UTTTSUS.UUSRSSS.UJJ69AF.UOJMOIJ.UJHJEGO.TQDLGFO.UUTTRTS.VadafZa.Vcdcigi.UXXXaYZ.VZbdabb.Wfmimpl.Wdgjqhm.Wfkpprp.UXUWYUP.UVTFSVT.TXYUMZQ.URSLOSS.TWQXUYS.USIUSUR.UWXOZXX.UXWVOTU.USUJUOB.UNLDJ8M.UUVUROU.UTRRURG.URVMURF.Uchkwjd.UTUTSUU.UUTUVUU.UUUTTUU.UTTTTQS.UVUVWVW.UUWVUUV.UHCNEGN.UQMPMDG.UMEDC5C.UPKGLGG.UVTUVVU.VXZgbeg.VZdccbc.UXVYZad.VYcbcYe.Vbeihij.Vcjomhl.Vcgloms.UTNURKO.TPQUHRN.UUXVSYR.TSQQFVP.UWNYWUR.UUGURUM.UXPVVVa.UQQSRIR.SLUVQKG.USTVQUT.URKNOVO.UPPOJOQ.UNROMPN.Uaahgfg.UTUTUTU.UUUVVVT.UTTTTRU.UTSTTTT.UUVUVVU.UUTUTTV.UNNLAEE.UPQPHH7.UOB64DK.UNUJMJT.UVUVUVT.Vbeacfe.VXWadZd.VZaaYab.VYadfdh.VdhhhqZ.Vfkelmk.Vblkmml.USKWYTV.UTURSUM.UUVTVWM.TTSPQQQ.UTVISRT.UUKTRPX.USUROZW.UTSPPVE.UOTTQSI.USNQRTU.UNUUUTO.TRPQRMR.UMTTOJT.UYhflkg.UVUUVUV.UTSRTQR.USSRQTR.UTSSTTS.UTSSSTS.UTTTRTS.URQHNMO.UPKLJLN.UNI0EGC.UOE3IJ5.UUSUTUU.Wcffijh.VZcddec.VZbYedd.WZecfig.Wgmmnqs.Whrrusc.Wflopro.VXcbdRY.TWVYaLb.VUVURHQ.TVKWVWV.UUXLUVZ.VWNOXWV.UTXUSZw.TVVRUVS.UXPWUSI.UWTaXSQ.VVWMTPZ.UOMWTWX.UYQWYTH.Vdkohmv.VWXXXXZ.UTTSUTV.UTTSURY.UTUTVVS.UUUTTTT.UUWVUVV.URHQPON.UNMHPKH.UQRIJFQ.ULKJHC4.UVXWWXU.VYYbcad.VYbbaee.VWXZcaZ.VYadace.Vemjjip.Wfllmrm.Vgjnojn.UUPUTUW.UTSRXUT.UTLTLGB.UQPPPIP.SUQTTOP.UUPUVQH.UTIPSPQ.UPTUSSU.UPWTYYF.TUOOQHN.TSRGTLW.TRRNER9.UTQTQSS.Uckhenm.UUVSVTT.UTSSTRR.UUTTTSY.UUWUVVV.UTTSRRR.UTKTTRT.UTTQNPQ.UURHKUM.UPEBHAK.UFCAB7D.UVVUVUU.VYZbeda.VZcbffe.VXYbbWZ.VXcadbb.Ubeglfk.Vcegicl.Velljop.STPPRNU.TMRTTSQ.URXUTX7.TMIQNRI.USSSSXO.TROPQQR.UTWRQQX.UQSSTPH.UVTTWVW.USTOQNQ.UOWWUTU.TRTUQRP.TTURNTJ.Udjiaki.USTQUTS.USQSRRQ.UTTSSTX.UTTSUUU.UTTTTRT.USLSSSS.UQOKPNI.URMCL8I.UMJPDKC.UFF8I7C.UUUTSSX.VZXbcZc.VXbbdZc.VXYXZaZ.VXZYcZX.Vadbdgd.Vbgdgif.VZbfkhd.UYSaaaW.UUXVWUF.UWYSUSG.SSVTXUU.UUXZXTT.ULLSSQO.TSOGTCR.TQQPQUC.UTQSWSB.UVPVPVS.VUPRWZX.URQTQTS.UOPVQDN.UUWTWST.UUTTTSR.USSQSRS.UUTTRTc.UTTUTUS.UTSTTVT.UULUTSR.UPRNLHR.UPFGA7B.UQKLHEE.UNKL66D.UUUVTVT.VZcedgf.UWZYXZY.UVVUYYY.UVYWWbY.UVZZZYW.VZbcedf.UWZaVXY.UZZWWgu.VXXbakt.VUXQPZk.UNTPXcu.UUUXZcV.UUWTXgZ.ULKVWXh.UQTTRev.UTSJUWZ.UTRFGRk.UUWLTSq.UUWKVRU.UUQQPPm.Ujmoyvx.UTTSTU3.UTSSSTT.UUTTVTb.USPPJLP.URHQKDG.UQILMOF.UOIOOMK.URLMSYT.UGFJFMV.ULKPOHD.UVVSWVU.Vftyrny.VYcYbac.VYXcaZY.VXYbZbc.VYaaaZc.VaZagdb.VXccbad.UWZWZev.UXWWVgp.VVYYTdf.VWVVZcs.VVXVXkL.UUUZZbO.UWRXZWs.UXZJMUy.UUSUTVf.UMLVQZt.UPVSTJm.UVcXWVX.TQQQHMi.Vhqqjqw.UUUVVVV.UUVUVWT.UUUTWUZ.UVVWVUW.UaYVUUV.UbkUSTT.UUUTWVT.UUUUUVT.UUVVWUV.UUTTTTS.UUTRLKM.Vksushm.VYWZaZY.VXbaabb.VXVXWXD.UUUWXaW.VWZYcZb.VWYWVbb.UWOLSan.UVXXUOy.UTTTEUX.UUWVZVs.UVUPSZY.UTSVRS6.UTUSNQs.UVWWTQk.UQPR9UU.USSTRSt.UTQUVQo.UVRRUKS.UTNWRTX.Ujvmywy.UUVVTVW.UUUTVUV.UUTTUUF.UUVUUUU.UbeSTTU.UbdSTRS.UUUVUU6.UTSTTVT.UUUUUUk.USTSRTS.UUVNIGR.UXggiYW.UWTVXTU.UWVZZYZ.UXWVUeU.UUUVXVU.UVXWVXW.UTRRQTR.UeSLHOY.SWSWFUS.TTHSPWJ.UVSYRVV.UTTUYTW.STTTQWF.TNRPFUI.UVUXZYW.TQQNARO.TSPOMBP.TQTPEUL.UUTRSJU.UTSSRV0.UWcYact.USRRPSR.UTTSSSR.UUUTTUT.UUTTSSV.USRRRQQ.UTTUTVS.USSSRRR.UTSRSTQ.UTTTSSU.USSRRRS.UTSO8GO.VXdhvZa.VWXVUVZ.UVXVYZY.UUTWScS.UWXVXXv.VVWVWWs.UUKSTUt.UjWYZKW.VXYbWXR.UUOSNTM.UVVTWVT.USPVNWW.USQORMW.TRLOPRQ.UXUVVUY.UWRUDV3.TTQPTQT.TTTOOQT.TRRQRSK.TSMSRGA.Vbacefy.UUTTTRT.UTTSRTR.UUVTTTT.UUTUUTb.UTSSRRT.UTSUTTU.USUSTQS.USSSQTT.USSTSTS.UVUTTTS.UUUCEFL.UWWXaYY.VYcbecc.VVYbYYb.UWXTVfU.VXbcdbc.UWXZaaZ.UWNWZYY.VvUbcWg.VZZaaZc.UUSZXVN.UVLUWTi.UUWTRSR.TWVUWWd.UWZXUPm.UaTYbZm.VWWUEcM.UVUaUVX.TPPWOVV.UNSHSQf.UYXZKWR.Vbhelgr.UUUVWWU.UVVUWVV.UUUUUTU.UUUVXUZ.UUUVUUT.UUVUVUU.UUVUUTW.UVVUTVU.UUTUVVW.UTTUUUS.UVTHCGM.UUVVVUU.UWVWRUV.UTTWWVj.UUTVUeV.UVXWZWY.UVVUTUW.UXJRXVc.VgOVaXS.SUUQRPT.TTRSTRd.UQPRQEF.TQSELO2.TVKPRU3.TOROMMM.VVTXRUZ.TTVUQWD.TSPSKPP.URPRREX.TOFONFJ.UUVVTTI.UWXXYbr.UTTRSST.UTTRSRS.USTSSRS.UUUUTSc.UTSRQSU.UTSTRSS.URQSRRS.UTTRRSQ.USRRTQR.TSRRQSP.UTSJTHL.UYWWXYZ.UUVWVTV.UXVXYUa.VVVVUSU.VVYXYYY.UVVUVSV.UWMXVUc.UfXQQYa.UVRSQQT.VWVWXZc.UTVTRRW.TPYLVTA.UVbUUOU.SQVURUK.UQTTOXZ.VYZN8YS.UQTQKPK.UWVIRPS.UPSNTSR.TRUPPJG.UTVQRRg.UUVUVUW.UUUTTUW.UTTTTTV.UUUUUWc.USTTSTT.UTSURTU.UTTTSQR.UTUUTSS.UUTTVUT.UTTTTTT.UVUPOLM.UXWYZYY.UWYYZZZ.VUWYYYX.UVTTVXV.VWXYaYZ.UWVWXVV.UUMVXXV.UhaUWRZ.TTTSUQK.VWXRbbN.UWYRZdY.UWTWZc6.VWbbYZb.UXTYMYT.UTUWTSV.UVSTIWO.UTUPRRP.UVNUVHG.UTTTTVP.UTPTSST.UVWTVWZ.UUWVUTW.UUUTTSS.UTUTTSV.UTSSTTS.UUTTSSR.UTUUVUT.USTSPSS.UUUTUUU.UUVTTUU.UUUUVVU.UWWWZXY.UUUWZYW.VWVbZWb.UTVUUUS.UVWWVTT.UXYVYWW.UWTWUZW.UVUVTYV.UVYSXZY.USTUMLQ.UVWVUWN.USXVYJP.VWVVWWB.VWNSNVe.TVSUWUM.TTTTUNU.USWWKYO.UTSNLTX.USURVQQ.UVSTKTR.UQNILUD.UUWYUWV.UUUVSUU.UTTSRSS.UUTUUTS.UTTUSTT.UTQRRQR.USSTTUS.UTTUSTU.UTTTRRS.UTTTUUS.UTSUSTT.UUWVUUV.UWUWUWU.VXVZXYb.UTWSVTX.UVXXVUZ.VVWVYXu.UVWUVXf.UVWVVWZ.VgWVYXX.TVVNbVX.UTNVLVJ.SRSQQUT.UUMVXSX.TWTULVa.USNMRGg.UVMSRSO.TTURLVH.TQQTIQJ.UQLKSSW.UUUTTRR.URRQRQR.UTTWSW8.UTUTUUT.UUTUVTT.UTUSSTS.UUUUUTU.UUSUSRT.UVUUVUT.UUUTUUV.UTRRSRS.UTTTSTT.UTTTTUU.UUUUUTT.VVVWWUV.UWTXVVX.UURPTSQ.UWUXXTY.UWTVTVk.UVVVWVg.UUUTVUo.USXSWOh.URVUPQU.USTTRFF.UURUSWe.UTWQSLS.VXUWLTg.TSTMBQf.UVRQXQS.USTOSQM.TKNMPNN.UTQUQSQ.TQLMMPJ.URRTQPc.UUVXTVZ.UTUTSTS.UTUUTTT.UUTSTUT.UTUTUUT.UVUTTTs.UTSSTSS.UUUTSTT.UTTSSTS.UTTTSSS.USUUSRU.UUUVUTT.UWZWbXX.UVVVTXU.UWTVXVY.UVWWUWU.UVWUTTl.UUSUTVf.VXWXXUv.UWRXUUh.UVOUXYR.USUIQS4.TPTSUKf.UTUQXXV.UVSZTRo.TUVTVMc.UWPUZPe.UUVOXXQ.URSONPU.TTIPTHU.TTONORQ.USVUUMc.UVYYXWZ.UTUTTST.UTTTUUe.UUUTTUU.UUUWUTU.UUTUSST.UTTUQRR.UTTRRRT.UTTTTUS.UUTTUTQ.UUTUUTT.UUVUUVS.UVUXVVU.UVUTTUY.UUUWTWS.UTUWTSm.UUUVTUr.UTVSXVq.UVWXZan.VUYYWVi.UWWSSaS.UOSVTU8.UTVWQWc.UNXTTST.UVWTTWi.TVVWSRj.URZUWVh.UQSUPQU.UWUSUSQ.TYUSKXO.TTYWUFV.UVPUWTh.UZfXjjZ.UUUVVUU.UUTUTVb.UUTLTTS.UUUUVTU.UUSUSTZ.TTTSSQR.UTUURUS.UUTVTTU.UUVTUUW.UUTUUUS.UUWWVTU.UUVXUVV.VVXUWVV.UVVRQRV.UVUXVUT.UXSUYUd.VUVVVWu.VWYXZWg.VRXXbYN.UTTKJXU.STRKRII.UVVYWRb.UPTKWHP.TVVVRSU.URVZYXs.UUUTSTj.TURVXbT.URJSORI.UUXXNXb.TXVUYUX.UUQQHHI.Ubaiieh.UUVVUUQ.UUUVVUb.UUTJTUU.UUSTRUS.UUVUTTZ.UTTSRRR.UUUUUUV.UUUTSTV.UVUWVUV.UUUUUUT.UUVVTUW.Vcdchef.VaccihU.VYcbdbb.VZdYddd.UYccVax.Vbbedfg.VXcaddw.VVXPPbY.UVLNVSX.TTOUXUI.UWTYUNS.TRJOOTT.UUUSLVX.VVZYZYr.UUUWGTb.TVUWZTL.TSJRGRP.UUZWVTT.TWWSXRS.TTKQSTT.Ueggcjh.UUVVTVN.UUSSTTy.UUUVUTR.UUVVTUU.UVVUVVZ.UTTUTSV.UUTVUTW.UVVTWUV.UWWWWWW.UVWVUWW.UUUUUVU.Veihlio.VYbdceY.VZabcdc.VYZaaZd.VaaZdeq.VYZdYYe.UVXYYYt.UVOTWwi.UVTURyt.TUJTMTT.USSMSer.UTQJNPV.UTOUSMJ.UOQUXkw.UUSMWKa.TUWMVWH.UUQKUMQ.TPQSVkn.USURVTp.TUTIQjU.Udeeeld.UUUUUUQ.UTRRRQd.UTSSTTS.UUUVVVV.UUTTUTV.UVTTUTU.UUUTUTV.UTTSSTY.UUUVVUV.UVVWUWV.UUWVUVT.Vfjlopl.VZbdgdF.UWZYaed.VYcXddc.VYaffbu.VYYaYbb.VXVWYVa.UWSSTpj.UNWaYle.UUZXTUI.UULSYcr.UWYYYVc.UVUTaXS.UWWTVtm.VWYaXWp.VWYWVXM.URTUWSV.TTRTVfb.VUWTVmp.UVWUShh.Vchjgfo.UVVVWUQ.UUTSUVe.UTTUSRQ.UUVUWVV.UUVUVWZ.UUVUTTU.UVTVUWV.UTUTTSY.UVWWVWV.UUVUWWV.UUVUVUV.Vcjigjh.VXaXbbL.UUVWWVW.VZabdce.UZWbaYZ.UXZaccd.UUUWVXW.VNUVVqf.USUTWUn.URJRVWT.UVQYNqt.TVWZWXk.UVSFUUS.UTTVXgh.UXLWXVT.UYSYTXS.UQSVRHS.TTSTNhn.UUWXYde.UUMTRbh.Uakflhm.UUVUUVP.UTUVUUT.UUTTSRS.UUUTUST.UUTTVSU.UUTVTUW.UUVWUWV.UTTSSRW.UVVVWVU.UUUTWTU.UUTWUUU.Vccdeff.VZbdbgS.VZccfcc.VYbdafZ.VYZcabc.VXYYcaa.VXYbcbe.UTYYRiq.URTTUqs.UURLPRS.UOUKPng.UUXUSXT.VUVQWYV.UUVTSkc.UTSUTXS.UWNWWQR.UMKLDME.ULNEJRe.UUOWUbS.TVOVYsg.Udfgqkg.UUWVUVW.UUUVWTV.UUVVUTT.UUUWTWW.UUTVTTU.UUUWSVV.UVWWWWo.UTTSSSW.UUUUVVV.UUTUTUU.UVVUVUT.UVWYXWY.VVYXWYT.UWVYYWY.UVSVSSS.UWZXXYW.UVUUVWS.UXacZYb.UGMKQVa.UQJLKHU.TRRITRT.TQQURUS.UMKIHTV.UEPOLRG.UIOIPVS.UNQNDUN.UOMMNQW.UICGFE0.TB5B0K9.TKEKHPS.UWYXSPc.UNGBFAG.UOMOLNI.UOKPFJI.UQNNGKH.UNNMKIK.UNKKEJE.ULNJHFK.UNNKFLN.UTTTSTY.UUTUUVT.UTSTSRR.UTUTVSQ.";
var AL="0123456789ABCDEFGHIJKLMNOPQRSTUVWXYZabcdefghijklmnopqrstuvwxyz";
var C=[[5,48,97],[33,102,172],[67,147,195],[146,197,222],[209,229,240],[247,247,247],[253,219,199],[244,165,130],[214,96,77],[178,24,43],[103,0,31]];
var cv=document.getElementById('hm');var ctx=cv.getContext('2d');
var w=256,h=114;var im=ctx.createImageData(w,h);var d=im.data;
for(var i=0;i<w*h;i++){var ch=D.charAt(i);var r=255,g=255,b=255;
 if(ch!=='.'){var v=AL.indexOf(ch)/60*10;var k=Math.min(Math.floor(v),9);var f=v-k;
  r=C[k][0]+(C[k+1][0]-C[k][0])*f;g=C[k][1]+(C[k+1][1]-C[k][1])*f;b=C[k][2]+(C[k+1][2]-C[k][2])*f;}
 d[i*4]=r;d[i*4+1]=g;d[i*4+2]=b;d[i*4+3]=255;}
ctx.putImageData(im,0,0);
})();
</script>
</body></html>
